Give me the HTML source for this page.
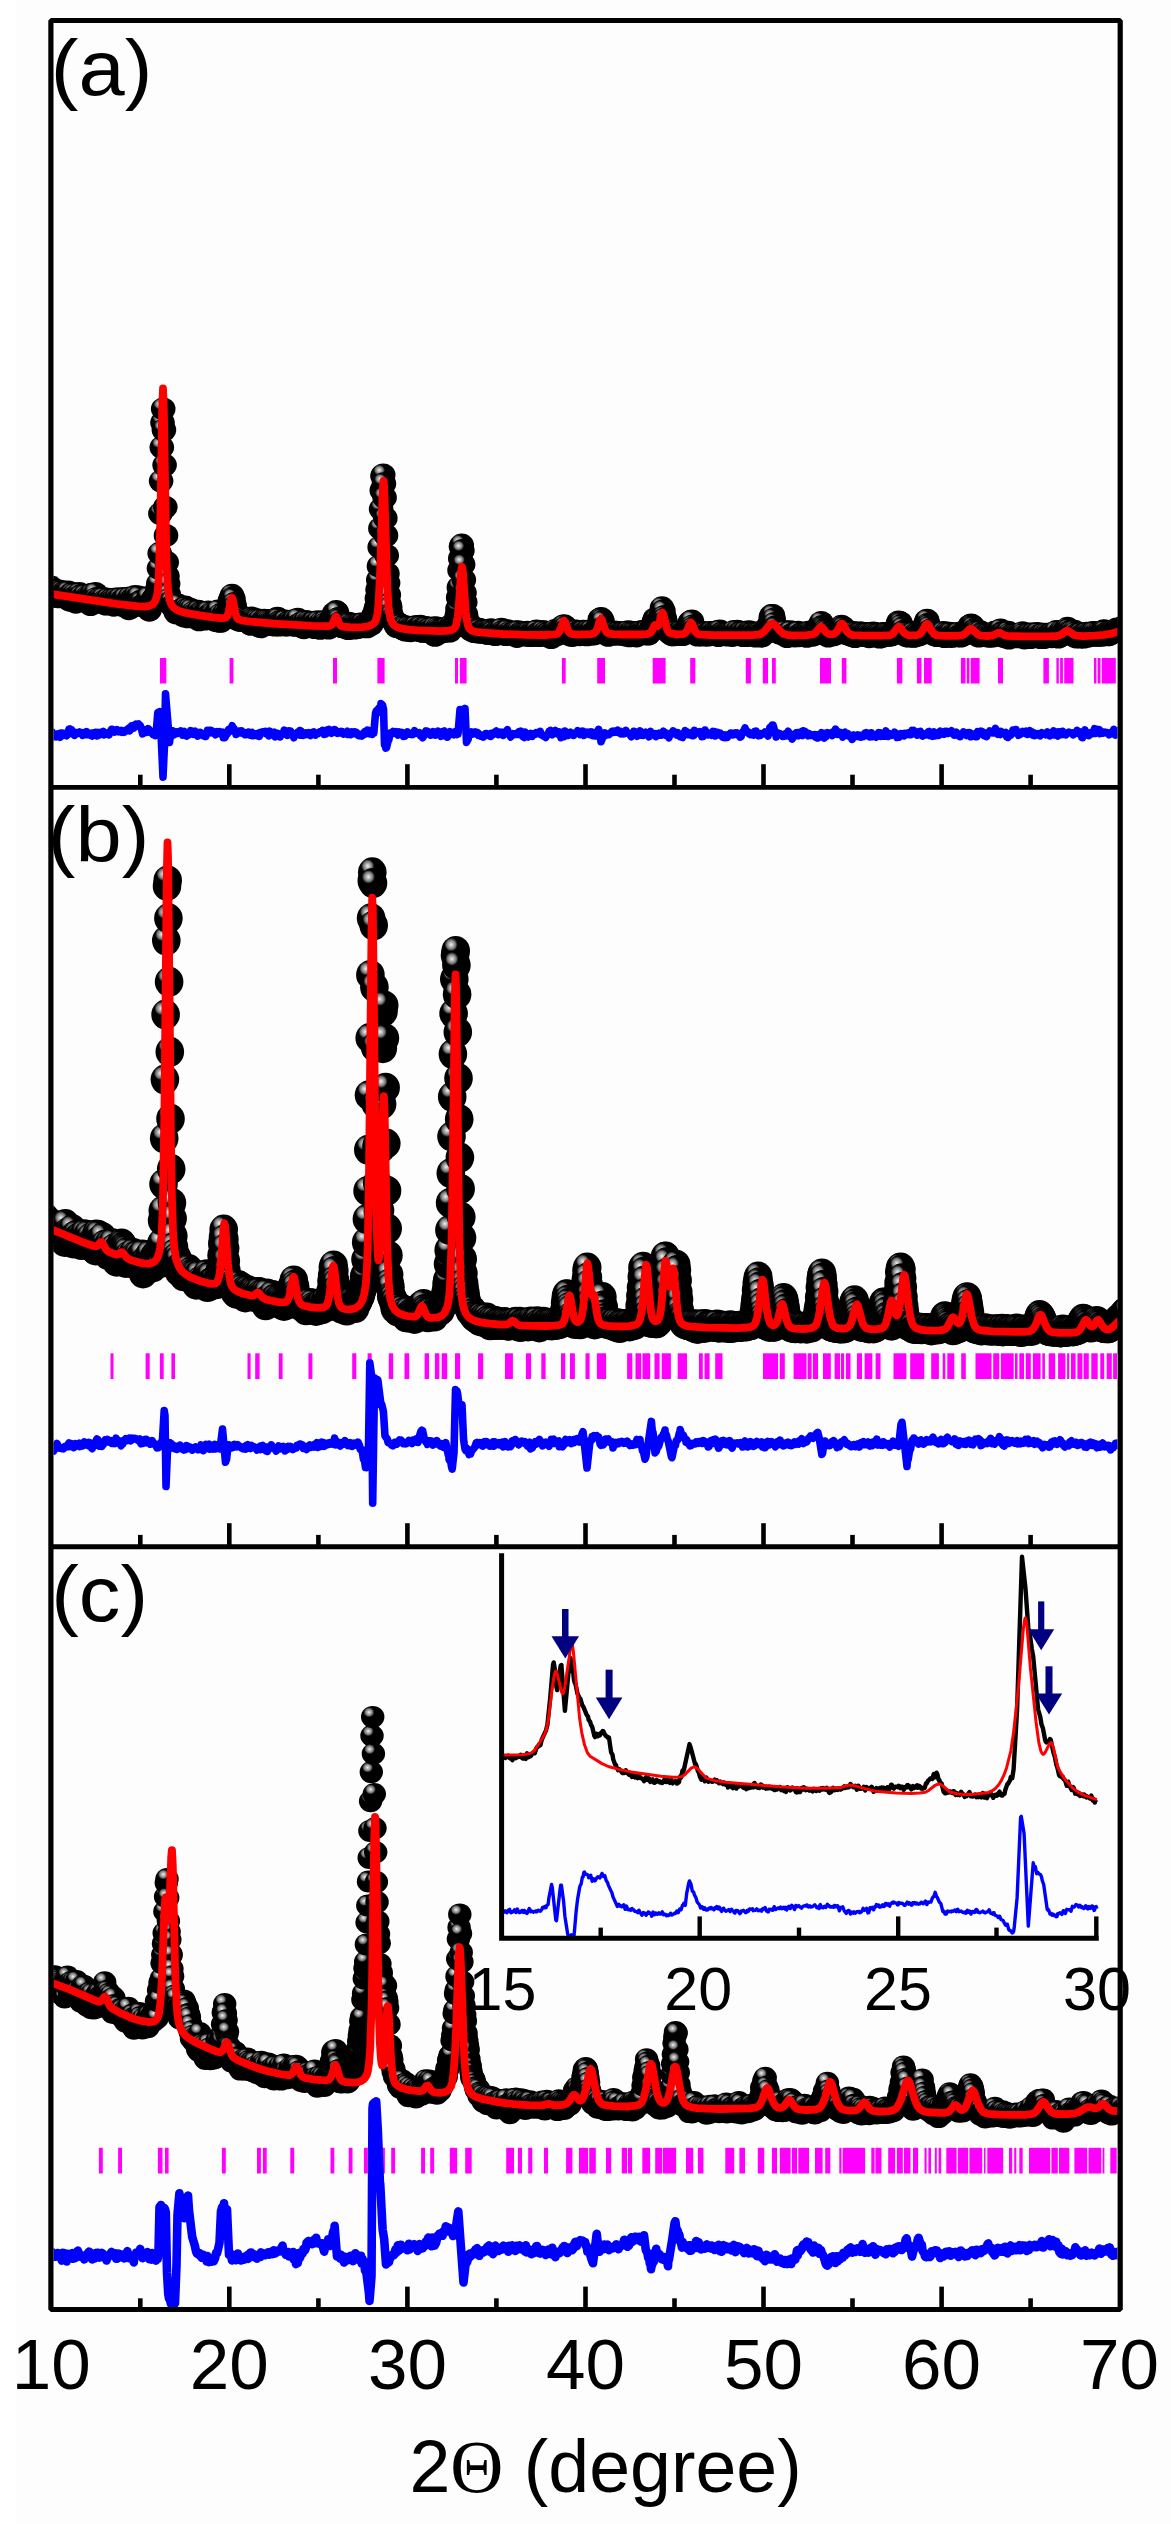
<!DOCTYPE html>
<html><head><meta charset="utf-8"><style>
html,body{margin:0;padding:0;background:#fdfdfd;}
svg{display:block;}
</style></head><body>
<svg width="1171" height="2524" viewBox="0 0 1171 2524">
<rect width="1171" height="2524" fill="#fdfdfd"/>
<rect width="16.4" height="2524" fill="#ffffff"/>
<defs><radialGradient id="ball" cx="0.34" cy="0.29" r="0.5" fx="0.34" fy="0.29"><stop offset="0" stop-color="#f4f4f4"/><stop offset="0.1" stop-color="#c8c8c8"/><stop offset="0.22" stop-color="#9a9a9a"/><stop offset="0.32" stop-color="#6e6e6e"/><stop offset="0.40" stop-color="#2a2a2a"/><stop offset="0.46" stop-color="#000"/><stop offset="1" stop-color="#000"/></radialGradient><ellipse id="ba" cx="0" cy="0" rx="12.3" ry="11.5" fill="url(#ball)"/><ellipse id="bb" cx="0" cy="0" rx="14.3" ry="15" fill="url(#ball)"/><ellipse id="bc" cx="0" cy="0" rx="11.7" ry="11" fill="url(#ball)"/><clipPath id="ca"><rect x="53.5" y="23" width="1064" height="762"/></clipPath><clipPath id="cb"><rect x="53.5" y="789.7" width="1064" height="754.7"/></clipPath><clipPath id="cc"><rect x="53.5" y="1549.2" width="1064" height="757.8"/></clipPath></defs>
<g clip-path="url(#ca)">
<use href="#ba" x="43.0" y="596.1"/><use href="#ba" x="43.7" y="590.0"/><use href="#ba" x="44.4" y="590.4"/><use href="#ba" x="45.1" y="589.0"/><use href="#ba" x="45.8" y="594.5"/><use href="#ba" x="46.5" y="585.8"/><use href="#ba" x="47.2" y="597.2"/><use href="#ba" x="47.9" y="590.3"/><use href="#ba" x="48.6" y="593.4"/><use href="#ba" x="49.3" y="591.8"/><use href="#ba" x="50.0" y="596.7"/><use href="#ba" x="50.7" y="586.9"/><use href="#ba" x="51.4" y="591.9"/><use href="#ba" x="52.1" y="591.8"/><use href="#ba" x="52.8" y="596.1"/><use href="#ba" x="53.5" y="589.9"/><use href="#ba" x="54.2" y="592.6"/><use href="#ba" x="54.9" y="590.8"/><use href="#ba" x="55.6" y="593.5"/><use href="#ba" x="56.3" y="595.1"/><use href="#ba" x="57.0" y="590.5"/><use href="#ba" x="57.7" y="596.8"/><use href="#ba" x="58.4" y="596.3"/><use href="#ba" x="59.1" y="595.3"/><use href="#ba" x="59.8" y="596.5"/><use href="#ba" x="60.5" y="592.1"/><use href="#ba" x="61.2" y="593.8"/><use href="#ba" x="61.9" y="591.6"/><use href="#ba" x="62.6" y="593.6"/><use href="#ba" x="63.3" y="595.9"/><use href="#ba" x="64.0" y="592.6"/><use href="#ba" x="64.7" y="593.6"/><use href="#ba" x="65.4" y="592.8"/><use href="#ba" x="66.1" y="592.5"/><use href="#ba" x="66.8" y="593.1"/><use href="#ba" x="67.5" y="595.0"/><use href="#ba" x="68.2" y="592.1"/><use href="#ba" x="68.9" y="595.9"/><use href="#ba" x="69.6" y="600.0"/><use href="#ba" x="70.3" y="597.6"/><use href="#ba" x="71.0" y="595.1"/><use href="#ba" x="71.7" y="593.2"/><use href="#ba" x="72.4" y="593.7"/><use href="#ba" x="73.1" y="600.6"/><use href="#ba" x="73.8" y="596.1"/><use href="#ba" x="74.5" y="594.3"/><use href="#ba" x="75.2" y="596.7"/><use href="#ba" x="75.9" y="602.2"/><use href="#ba" x="76.6" y="596.7"/><use href="#ba" x="77.3" y="598.2"/><use href="#ba" x="78.0" y="597.5"/><use href="#ba" x="78.7" y="595.7"/><use href="#ba" x="79.4" y="593.6"/><use href="#ba" x="80.1" y="595.9"/><use href="#ba" x="80.8" y="596.4"/><use href="#ba" x="81.5" y="598.8"/><use href="#ba" x="82.2" y="599.6"/><use href="#ba" x="82.9" y="599.9"/><use href="#ba" x="83.6" y="598.2"/><use href="#ba" x="84.3" y="600.0"/><use href="#ba" x="85.0" y="595.5"/><use href="#ba" x="85.7" y="601.3"/><use href="#ba" x="86.4" y="599.3"/><use href="#ba" x="87.1" y="597.1"/><use href="#ba" x="87.8" y="599.4"/><use href="#ba" x="88.5" y="597.9"/><use href="#ba" x="89.2" y="601.4"/><use href="#ba" x="89.9" y="602.6"/><use href="#ba" x="90.6" y="604.6"/><use href="#ba" x="91.3" y="594.6"/><use href="#ba" x="92.0" y="594.6"/><use href="#ba" x="92.7" y="597.3"/><use href="#ba" x="93.4" y="599.3"/><use href="#ba" x="94.1" y="601.4"/><use href="#ba" x="94.8" y="599.9"/><use href="#ba" x="95.5" y="593.5"/><use href="#ba" x="96.2" y="598.4"/><use href="#ba" x="96.9" y="601.7"/><use href="#ba" x="97.6" y="600.1"/><use href="#ba" x="98.3" y="601.7"/><use href="#ba" x="99.0" y="599.0"/><use href="#ba" x="99.7" y="599.2"/><use href="#ba" x="100.4" y="600.4"/><use href="#ba" x="101.1" y="601.1"/><use href="#ba" x="101.8" y="600.6"/><use href="#ba" x="102.5" y="600.5"/><use href="#ba" x="103.2" y="598.4"/><use href="#ba" x="103.9" y="601.4"/><use href="#ba" x="104.6" y="600.8"/><use href="#ba" x="105.3" y="603.7"/><use href="#ba" x="106.0" y="604.0"/><use href="#ba" x="106.7" y="601.3"/><use href="#ba" x="107.4" y="599.8"/><use href="#ba" x="108.1" y="599.2"/><use href="#ba" x="108.8" y="602.2"/><use href="#ba" x="109.5" y="601.4"/><use href="#ba" x="110.2" y="600.3"/><use href="#ba" x="110.9" y="601.5"/><use href="#ba" x="111.6" y="599.7"/><use href="#ba" x="112.3" y="603.5"/><use href="#ba" x="113.0" y="600.4"/><use href="#ba" x="113.7" y="605.2"/><use href="#ba" x="114.4" y="603.0"/><use href="#ba" x="115.1" y="603.6"/><use href="#ba" x="115.8" y="598.9"/><use href="#ba" x="116.5" y="602.6"/><use href="#ba" x="117.2" y="604.3"/><use href="#ba" x="117.9" y="599.6"/><use href="#ba" x="118.6" y="601.6"/><use href="#ba" x="119.3" y="602.5"/><use href="#ba" x="120.0" y="598.7"/><use href="#ba" x="120.7" y="603.5"/><use href="#ba" x="121.4" y="605.1"/><use href="#ba" x="122.1" y="600.4"/><use href="#ba" x="122.8" y="603.8"/><use href="#ba" x="123.5" y="599.2"/><use href="#ba" x="124.2" y="602.9"/><use href="#ba" x="124.9" y="598.5"/><use href="#ba" x="125.3" y="606.2"/><use href="#ba" x="126.0" y="604.3"/><use href="#ba" x="126.7" y="603.1"/><use href="#ba" x="127.4" y="601.0"/><use href="#ba" x="128.1" y="606.8"/><use href="#ba" x="128.8" y="608.7"/><use href="#ba" x="129.5" y="597.9"/><use href="#ba" x="130.2" y="606.4"/><use href="#ba" x="130.9" y="607.3"/><use href="#ba" x="131.6" y="603.4"/><use href="#ba" x="132.3" y="598.7"/><use href="#ba" x="133.0" y="604.0"/><use href="#ba" x="133.7" y="600.6"/><use href="#ba" x="134.4" y="598.9"/><use href="#ba" x="135.1" y="596.6"/><use href="#ba" x="135.8" y="601.1"/><use href="#ba" x="136.5" y="601.5"/><use href="#ba" x="137.2" y="597.6"/><use href="#ba" x="137.9" y="601.0"/><use href="#ba" x="138.6" y="596.9"/><use href="#ba" x="139.3" y="602.9"/><use href="#ba" x="140.0" y="601.5"/><use href="#ba" x="140.7" y="601.5"/><use href="#ba" x="141.4" y="602.3"/><use href="#ba" x="142.1" y="605.5"/><use href="#ba" x="142.8" y="605.6"/><use href="#ba" x="143.5" y="605.3"/><use href="#ba" x="144.2" y="604.5"/><use href="#ba" x="144.9" y="604.5"/><use href="#ba" x="145.6" y="606.1"/><use href="#ba" x="146.3" y="605.0"/><use href="#ba" x="147.0" y="606.3"/><use href="#ba" x="147.7" y="603.5"/><use href="#ba" x="148.4" y="597.5"/><use href="#ba" x="149.1" y="607.1"/><use href="#ba" x="149.4" y="610.2"/><use href="#ba" x="150.1" y="605.1"/><use href="#ba" x="150.8" y="603.3"/><use href="#ba" x="151.3" y="603.0"/><use href="#ba" x="152.0" y="602.7"/><use href="#ba" x="152.7" y="602.6"/><use href="#ba" x="153.4" y="598.8"/><use href="#ba" x="154.1" y="599.7"/><use href="#ba" x="154.8" y="597.4"/><use href="#ba" x="155.5" y="599.4"/><use href="#ba" x="156.2" y="596.0"/><use href="#ba" x="156.9" y="595.2"/><use href="#ba" x="157.6" y="588.5"/><use href="#ba" x="158.3" y="583.6"/><use href="#ba" x="159.0" y="568.3"/><use href="#ba" x="159.7" y="553.3"/><use href="#ba" x="160.4" y="513.6"/><use href="#ba" x="161.1" y="481.1"/><use href="#ba" x="161.8" y="447.3"/><use href="#ba" x="162.5" y="422.6"/><use href="#ba" x="163.2" y="408.9"/><use href="#ba" x="163.9" y="430.0"/><use href="#ba" x="164.6" y="465.1"/><use href="#ba" x="165.3" y="507.2"/><use href="#ba" x="166.0" y="535.4"/><use href="#ba" x="166.7" y="562.3"/><use href="#ba" x="167.4" y="576.2"/><use href="#ba" x="168.1" y="584.0"/><use href="#ba" x="168.8" y="594.5"/><use href="#ba" x="169.5" y="598.9"/><use href="#ba" x="170.2" y="603.5"/><use href="#ba" x="170.9" y="601.7"/><use href="#ba" x="171.6" y="601.7"/><use href="#ba" x="172.3" y="605.9"/><use href="#ba" x="173.0" y="606.0"/><use href="#ba" x="173.7" y="606.8"/><use href="#ba" x="174.4" y="606.6"/><use href="#ba" x="175.1" y="610.3"/><use href="#ba" x="175.3" y="608.4"/><use href="#ba" x="176.0" y="612.8"/><use href="#ba" x="176.7" y="611.2"/><use href="#ba" x="177.4" y="610.4"/><use href="#ba" x="178.1" y="605.0"/><use href="#ba" x="178.8" y="610.9"/><use href="#ba" x="179.5" y="610.7"/><use href="#ba" x="180.2" y="612.0"/><use href="#ba" x="180.9" y="612.8"/><use href="#ba" x="181.6" y="609.4"/><use href="#ba" x="182.3" y="612.7"/><use href="#ba" x="183.0" y="609.5"/><use href="#ba" x="183.7" y="615.9"/><use href="#ba" x="184.4" y="608.0"/><use href="#ba" x="185.1" y="607.1"/><use href="#ba" x="185.8" y="607.6"/><use href="#ba" x="186.5" y="609.6"/><use href="#ba" x="187.2" y="609.2"/><use href="#ba" x="187.9" y="616.8"/><use href="#ba" x="188.6" y="611.4"/><use href="#ba" x="189.3" y="609.1"/><use href="#ba" x="190.0" y="615.2"/><use href="#ba" x="190.7" y="611.3"/><use href="#ba" x="191.4" y="609.8"/><use href="#ba" x="192.1" y="615.0"/><use href="#ba" x="192.8" y="614.5"/><use href="#ba" x="193.5" y="612.2"/><use href="#ba" x="194.2" y="616.6"/><use href="#ba" x="194.9" y="613.7"/><use href="#ba" x="195.6" y="617.4"/><use href="#ba" x="196.3" y="614.9"/><use href="#ba" x="197.0" y="617.4"/><use href="#ba" x="197.7" y="614.2"/><use href="#ba" x="198.4" y="611.2"/><use href="#ba" x="199.1" y="619.8"/><use href="#ba" x="199.8" y="613.0"/><use href="#ba" x="200.5" y="613.9"/><use href="#ba" x="201.2" y="612.9"/><use href="#ba" x="201.9" y="614.1"/><use href="#ba" x="202.6" y="615.3"/><use href="#ba" x="203.3" y="615.3"/><use href="#ba" x="204.0" y="616.4"/><use href="#ba" x="204.7" y="619.1"/><use href="#ba" x="205.4" y="614.9"/><use href="#ba" x="206.1" y="612.5"/><use href="#ba" x="206.8" y="612.7"/><use href="#ba" x="207.5" y="614.0"/><use href="#ba" x="208.2" y="611.9"/><use href="#ba" x="208.9" y="617.5"/><use href="#ba" x="209.6" y="614.7"/><use href="#ba" x="210.3" y="615.2"/><use href="#ba" x="211.0" y="616.0"/><use href="#ba" x="211.7" y="613.0"/><use href="#ba" x="212.4" y="614.3"/><use href="#ba" x="213.1" y="617.7"/><use href="#ba" x="213.8" y="617.7"/><use href="#ba" x="214.5" y="615.5"/><use href="#ba" x="215.2" y="620.4"/><use href="#ba" x="215.9" y="613.8"/><use href="#ba" x="216.6" y="615.9"/><use href="#ba" x="217.3" y="616.3"/><use href="#ba" x="218.0" y="610.9"/><use href="#ba" x="218.7" y="621.0"/><use href="#ba" x="219.4" y="617.7"/><use href="#ba" x="220.1" y="614.8"/><use href="#ba" x="220.8" y="621.3"/><use href="#ba" x="221.5" y="618.2"/><use href="#ba" x="222.2" y="617.9"/><use href="#ba" x="222.9" y="615.7"/><use href="#ba" x="223.6" y="617.1"/><use href="#ba" x="224.3" y="613.7"/><use href="#ba" x="225.0" y="618.2"/><use href="#ba" x="225.7" y="615.5"/><use href="#ba" x="226.4" y="615.9"/><use href="#ba" x="227.1" y="617.0"/><use href="#ba" x="227.8" y="613.4"/><use href="#ba" x="228.5" y="610.8"/><use href="#ba" x="229.2" y="607.3"/><use href="#ba" x="229.9" y="600.9"/><use href="#ba" x="230.6" y="599.5"/><use href="#ba" x="231.3" y="597.6"/><use href="#ba" x="232.0" y="595.3"/><use href="#ba" x="232.7" y="598.0"/><use href="#ba" x="233.4" y="598.9"/><use href="#ba" x="234.1" y="603.6"/><use href="#ba" x="234.8" y="606.6"/><use href="#ba" x="235.5" y="615.1"/><use href="#ba" x="236.2" y="614.4"/><use href="#ba" x="236.9" y="619.1"/><use href="#ba" x="237.6" y="615.9"/><use href="#ba" x="238.3" y="617.1"/><use href="#ba" x="239.0" y="618.6"/><use href="#ba" x="239.7" y="620.4"/><use href="#ba" x="240.4" y="619.0"/><use href="#ba" x="241.1" y="619.5"/><use href="#ba" x="241.8" y="619.3"/><use href="#ba" x="242.5" y="619.8"/><use href="#ba" x="243.2" y="617.5"/><use href="#ba" x="243.9" y="619.9"/><use href="#ba" x="243.9" y="619.4"/><use href="#ba" x="244.6" y="619.7"/><use href="#ba" x="245.3" y="620.8"/><use href="#ba" x="246.0" y="618.8"/><use href="#ba" x="246.7" y="620.0"/><use href="#ba" x="247.4" y="619.7"/><use href="#ba" x="248.1" y="621.0"/><use href="#ba" x="248.8" y="621.8"/><use href="#ba" x="249.5" y="618.7"/><use href="#ba" x="250.2" y="621.6"/><use href="#ba" x="250.9" y="624.3"/><use href="#ba" x="251.6" y="618.0"/><use href="#ba" x="252.3" y="619.2"/><use href="#ba" x="253.0" y="619.2"/><use href="#ba" x="253.7" y="620.4"/><use href="#ba" x="254.4" y="623.8"/><use href="#ba" x="255.1" y="621.0"/><use href="#ba" x="255.8" y="619.8"/><use href="#ba" x="256.5" y="622.2"/><use href="#ba" x="257.2" y="620.1"/><use href="#ba" x="257.9" y="623.2"/><use href="#ba" x="258.6" y="621.8"/><use href="#ba" x="259.3" y="623.8"/><use href="#ba" x="260.0" y="620.2"/><use href="#ba" x="260.7" y="626.8"/><use href="#ba" x="261.4" y="623.0"/><use href="#ba" x="262.1" y="622.7"/><use href="#ba" x="262.8" y="621.5"/><use href="#ba" x="263.5" y="620.4"/><use href="#ba" x="264.2" y="620.2"/><use href="#ba" x="264.9" y="621.5"/><use href="#ba" x="265.6" y="620.4"/><use href="#ba" x="266.3" y="622.4"/><use href="#ba" x="267.0" y="620.5"/><use href="#ba" x="267.7" y="623.1"/><use href="#ba" x="268.4" y="623.7"/><use href="#ba" x="269.1" y="620.9"/><use href="#ba" x="269.8" y="624.2"/><use href="#ba" x="270.5" y="621.8"/><use href="#ba" x="271.2" y="624.3"/><use href="#ba" x="271.9" y="623.0"/><use href="#ba" x="272.6" y="624.3"/><use href="#ba" x="273.3" y="620.6"/><use href="#ba" x="274.0" y="622.2"/><use href="#ba" x="274.7" y="625.0"/><use href="#ba" x="275.4" y="621.5"/><use href="#ba" x="276.1" y="619.0"/><use href="#ba" x="276.8" y="619.3"/><use href="#ba" x="277.5" y="618.3"/><use href="#ba" x="278.2" y="619.1"/><use href="#ba" x="278.9" y="622.0"/><use href="#ba" x="279.6" y="625.0"/><use href="#ba" x="280.3" y="622.1"/><use href="#ba" x="281.0" y="623.4"/><use href="#ba" x="281.7" y="622.7"/><use href="#ba" x="282.4" y="623.0"/><use href="#ba" x="283.1" y="622.7"/><use href="#ba" x="283.8" y="622.8"/><use href="#ba" x="284.5" y="623.9"/><use href="#ba" x="285.2" y="621.1"/><use href="#ba" x="285.9" y="624.9"/><use href="#ba" x="286.6" y="624.8"/><use href="#ba" x="287.3" y="622.9"/><use href="#ba" x="288.0" y="624.7"/><use href="#ba" x="288.7" y="622.2"/><use href="#ba" x="289.4" y="622.5"/><use href="#ba" x="290.1" y="623.7"/><use href="#ba" x="290.8" y="623.2"/><use href="#ba" x="291.5" y="622.8"/><use href="#ba" x="292.2" y="622.4"/><use href="#ba" x="292.9" y="622.7"/><use href="#ba" x="293.6" y="625.2"/><use href="#ba" x="294.3" y="620.4"/><use href="#ba" x="295.0" y="624.3"/><use href="#ba" x="295.7" y="623.4"/><use href="#ba" x="296.4" y="625.0"/><use href="#ba" x="297.1" y="624.7"/><use href="#ba" x="297.8" y="619.2"/><use href="#ba" x="298.5" y="624.9"/><use href="#ba" x="299.2" y="624.5"/><use href="#ba" x="299.9" y="624.0"/><use href="#ba" x="300.6" y="623.2"/><use href="#ba" x="301.3" y="625.5"/><use href="#ba" x="302.0" y="623.4"/><use href="#ba" x="302.7" y="627.2"/><use href="#ba" x="303.4" y="625.1"/><use href="#ba" x="304.1" y="627.7"/><use href="#ba" x="304.8" y="622.9"/><use href="#ba" x="305.5" y="621.4"/><use href="#ba" x="306.2" y="625.5"/><use href="#ba" x="306.9" y="625.7"/><use href="#ba" x="307.6" y="624.4"/><use href="#ba" x="308.3" y="621.9"/><use href="#ba" x="309.0" y="623.7"/><use href="#ba" x="309.7" y="625.5"/><use href="#ba" x="310.4" y="624.2"/><use href="#ba" x="311.1" y="624.4"/><use href="#ba" x="311.8" y="624.3"/><use href="#ba" x="312.5" y="623.1"/><use href="#ba" x="313.2" y="623.8"/><use href="#ba" x="313.9" y="622.3"/><use href="#ba" x="314.6" y="627.6"/><use href="#ba" x="315.3" y="624.0"/><use href="#ba" x="316.0" y="625.5"/><use href="#ba" x="316.7" y="623.1"/><use href="#ba" x="317.4" y="626.1"/><use href="#ba" x="318.1" y="621.8"/><use href="#ba" x="318.8" y="626.4"/><use href="#ba" x="319.5" y="624.8"/><use href="#ba" x="320.2" y="628.3"/><use href="#ba" x="320.9" y="622.8"/><use href="#ba" x="321.6" y="625.1"/><use href="#ba" x="322.3" y="625.5"/><use href="#ba" x="323.0" y="626.9"/><use href="#ba" x="323.7" y="624.3"/><use href="#ba" x="324.3" y="625.1"/><use href="#ba" x="325.0" y="621.5"/><use href="#ba" x="325.7" y="623.6"/><use href="#ba" x="326.4" y="625.7"/><use href="#ba" x="327.1" y="626.7"/><use href="#ba" x="327.8" y="624.4"/><use href="#ba" x="328.5" y="628.0"/><use href="#ba" x="329.2" y="627.4"/><use href="#ba" x="329.9" y="624.3"/><use href="#ba" x="330.6" y="620.3"/><use href="#ba" x="331.3" y="620.7"/><use href="#ba" x="332.0" y="621.3"/><use href="#ba" x="332.7" y="622.9"/><use href="#ba" x="333.4" y="619.7"/><use href="#ba" x="334.1" y="613.5"/><use href="#ba" x="334.8" y="614.0"/><use href="#ba" x="335.5" y="615.1"/><use href="#ba" x="336.2" y="611.6"/><use href="#ba" x="336.9" y="612.3"/><use href="#ba" x="337.6" y="619.0"/><use href="#ba" x="338.3" y="618.4"/><use href="#ba" x="339.0" y="619.8"/><use href="#ba" x="339.7" y="622.8"/><use href="#ba" x="340.4" y="623.4"/><use href="#ba" x="341.1" y="623.5"/><use href="#ba" x="341.8" y="626.6"/><use href="#ba" x="342.5" y="626.7"/><use href="#ba" x="343.2" y="626.5"/><use href="#ba" x="343.9" y="625.2"/><use href="#ba" x="344.6" y="627.2"/><use href="#ba" x="345.3" y="625.5"/><use href="#ba" x="346.0" y="626.3"/><use href="#ba" x="346.7" y="627.3"/><use href="#ba" x="347.4" y="627.0"/><use href="#ba" x="348.1" y="628.5"/><use href="#ba" x="348.2" y="626.5"/><use href="#ba" x="348.9" y="623.2"/><use href="#ba" x="349.6" y="624.0"/><use href="#ba" x="350.3" y="627.9"/><use href="#ba" x="351.0" y="625.4"/><use href="#ba" x="351.7" y="626.5"/><use href="#ba" x="352.4" y="624.6"/><use href="#ba" x="353.1" y="627.4"/><use href="#ba" x="353.8" y="625.3"/><use href="#ba" x="354.5" y="628.1"/><use href="#ba" x="355.2" y="625.0"/><use href="#ba" x="355.9" y="627.5"/><use href="#ba" x="356.6" y="626.8"/><use href="#ba" x="357.3" y="624.7"/><use href="#ba" x="358.0" y="627.4"/><use href="#ba" x="358.7" y="624.3"/><use href="#ba" x="359.4" y="624.4"/><use href="#ba" x="360.1" y="626.7"/><use href="#ba" x="360.8" y="624.6"/><use href="#ba" x="361.5" y="624.5"/><use href="#ba" x="362.2" y="624.8"/><use href="#ba" x="362.9" y="623.7"/><use href="#ba" x="363.6" y="626.7"/><use href="#ba" x="364.3" y="625.9"/><use href="#ba" x="365.0" y="624.7"/><use href="#ba" x="365.7" y="624.4"/><use href="#ba" x="366.4" y="625.1"/><use href="#ba" x="367.1" y="626.8"/><use href="#ba" x="367.8" y="625.2"/><use href="#ba" x="368.5" y="622.8"/><use href="#ba" x="369.2" y="624.3"/><use href="#ba" x="369.9" y="622.5"/><use href="#ba" x="370.6" y="621.9"/><use href="#ba" x="371.3" y="624.3"/><use href="#ba" x="372.0" y="620.2"/><use href="#ba" x="372.7" y="619.1"/><use href="#ba" x="373.4" y="615.7"/><use href="#ba" x="374.1" y="614.8"/><use href="#ba" x="374.8" y="615.2"/><use href="#ba" x="375.5" y="610.2"/><use href="#ba" x="376.2" y="607.3"/><use href="#ba" x="376.9" y="598.3"/><use href="#ba" x="377.6" y="589.7"/><use href="#ba" x="378.3" y="580.0"/><use href="#ba" x="379.0" y="566.2"/><use href="#ba" x="379.7" y="547.2"/><use href="#ba" x="380.4" y="528.4"/><use href="#ba" x="381.1" y="509.1"/><use href="#ba" x="381.8" y="490.5"/><use href="#ba" x="382.5" y="476.1"/><use href="#ba" x="383.2" y="474.9"/><use href="#ba" x="383.9" y="483.7"/><use href="#ba" x="384.6" y="497.6"/><use href="#ba" x="385.3" y="518.2"/><use href="#ba" x="386.0" y="535.5"/><use href="#ba" x="386.7" y="555.4"/><use href="#ba" x="387.4" y="573.7"/><use href="#ba" x="388.1" y="583.1"/><use href="#ba" x="388.8" y="595.0"/><use href="#ba" x="389.5" y="604.3"/><use href="#ba" x="390.2" y="607.5"/><use href="#ba" x="390.9" y="614.0"/><use href="#ba" x="391.6" y="615.6"/><use href="#ba" x="392.3" y="618.3"/><use href="#ba" x="393.0" y="619.9"/><use href="#ba" x="393.7" y="621.6"/><use href="#ba" x="394.4" y="621.5"/><use href="#ba" x="395.1" y="623.2"/><use href="#ba" x="395.1" y="622.2"/><use href="#ba" x="395.8" y="624.5"/><use href="#ba" x="396.5" y="626.6"/><use href="#ba" x="397.2" y="625.0"/><use href="#ba" x="397.9" y="625.3"/><use href="#ba" x="398.6" y="623.8"/><use href="#ba" x="399.3" y="626.8"/><use href="#ba" x="400.0" y="625.0"/><use href="#ba" x="400.7" y="625.2"/><use href="#ba" x="401.4" y="627.4"/><use href="#ba" x="402.1" y="627.1"/><use href="#ba" x="402.8" y="628.5"/><use href="#ba" x="403.5" y="629.2"/><use href="#ba" x="404.2" y="626.6"/><use href="#ba" x="404.9" y="627.7"/><use href="#ba" x="405.6" y="630.1"/><use href="#ba" x="406.3" y="629.1"/><use href="#ba" x="407.0" y="628.9"/><use href="#ba" x="407.7" y="629.8"/><use href="#ba" x="408.4" y="627.3"/><use href="#ba" x="409.1" y="629.1"/><use href="#ba" x="409.8" y="630.3"/><use href="#ba" x="410.5" y="630.7"/><use href="#ba" x="411.2" y="627.4"/><use href="#ba" x="411.9" y="628.2"/><use href="#ba" x="412.6" y="629.2"/><use href="#ba" x="413.3" y="628.3"/><use href="#ba" x="414.0" y="628.3"/><use href="#ba" x="414.7" y="629.8"/><use href="#ba" x="415.4" y="628.4"/><use href="#ba" x="416.1" y="626.5"/><use href="#ba" x="416.8" y="629.6"/><use href="#ba" x="417.5" y="628.5"/><use href="#ba" x="418.2" y="628.2"/><use href="#ba" x="418.9" y="627.1"/><use href="#ba" x="419.6" y="630.7"/><use href="#ba" x="420.3" y="626.3"/><use href="#ba" x="421.0" y="627.0"/><use href="#ba" x="421.7" y="629.0"/><use href="#ba" x="422.4" y="631.1"/><use href="#ba" x="423.1" y="631.3"/><use href="#ba" x="423.8" y="628.0"/><use href="#ba" x="424.5" y="629.3"/><use href="#ba" x="425.2" y="627.6"/><use href="#ba" x="425.9" y="631.0"/><use href="#ba" x="426.6" y="627.7"/><use href="#ba" x="427.3" y="629.5"/><use href="#ba" x="428.0" y="631.2"/><use href="#ba" x="428.7" y="629.5"/><use href="#ba" x="429.4" y="631.8"/><use href="#ba" x="430.1" y="628.7"/><use href="#ba" x="430.8" y="630.4"/><use href="#ba" x="431.5" y="631.0"/><use href="#ba" x="432.2" y="629.7"/><use href="#ba" x="432.9" y="631.8"/><use href="#ba" x="433.6" y="630.7"/><use href="#ba" x="434.3" y="627.7"/><use href="#ba" x="435.0" y="635.3"/><use href="#ba" x="435.7" y="630.8"/><use href="#ba" x="436.4" y="630.1"/><use href="#ba" x="437.1" y="628.1"/><use href="#ba" x="437.8" y="630.1"/><use href="#ba" x="438.5" y="629.4"/><use href="#ba" x="439.2" y="630.8"/><use href="#ba" x="439.9" y="630.5"/><use href="#ba" x="440.6" y="632.4"/><use href="#ba" x="441.3" y="630.1"/><use href="#ba" x="442.0" y="630.6"/><use href="#ba" x="442.7" y="630.4"/><use href="#ba" x="443.4" y="629.6"/><use href="#ba" x="444.1" y="629.6"/><use href="#ba" x="444.8" y="631.2"/><use href="#ba" x="445.5" y="630.7"/><use href="#ba" x="446.2" y="628.7"/><use href="#ba" x="446.9" y="628.0"/><use href="#ba" x="447.6" y="629.3"/><use href="#ba" x="448.3" y="630.8"/><use href="#ba" x="449.0" y="629.0"/><use href="#ba" x="449.8" y="631.1"/><use href="#ba" x="450.5" y="627.6"/><use href="#ba" x="451.2" y="628.5"/><use href="#ba" x="451.9" y="624.6"/><use href="#ba" x="452.6" y="626.6"/><use href="#ba" x="453.3" y="626.4"/><use href="#ba" x="454.0" y="626.6"/><use href="#ba" x="454.7" y="626.9"/><use href="#ba" x="455.4" y="622.7"/><use href="#ba" x="456.1" y="621.4"/><use href="#ba" x="456.8" y="615.6"/><use href="#ba" x="457.5" y="609.0"/><use href="#ba" x="458.2" y="597.4"/><use href="#ba" x="458.9" y="587.5"/><use href="#ba" x="459.6" y="570.2"/><use href="#ba" x="460.3" y="558.4"/><use href="#ba" x="461.0" y="546.6"/><use href="#ba" x="461.7" y="545.1"/><use href="#ba" x="462.4" y="550.6"/><use href="#ba" x="463.1" y="564.5"/><use href="#ba" x="463.8" y="580.0"/><use href="#ba" x="464.5" y="592.8"/><use href="#ba" x="465.2" y="602.2"/><use href="#ba" x="465.9" y="614.1"/><use href="#ba" x="466.6" y="618.4"/><use href="#ba" x="467.3" y="623.1"/><use href="#ba" x="468.0" y="625.3"/><use href="#ba" x="468.7" y="625.0"/><use href="#ba" x="469.4" y="624.5"/><use href="#ba" x="470.1" y="626.6"/><use href="#ba" x="470.8" y="629.9"/><use href="#ba" x="471.5" y="627.5"/><use href="#ba" x="472.2" y="630.3"/><use href="#ba" x="472.9" y="628.8"/><use href="#ba" x="473.5" y="630.3"/><use href="#ba" x="473.6" y="627.5"/><use href="#ba" x="474.2" y="631.5"/><use href="#ba" x="474.9" y="630.2"/><use href="#ba" x="475.6" y="631.6"/><use href="#ba" x="476.3" y="630.8"/><use href="#ba" x="477.0" y="631.8"/><use href="#ba" x="477.7" y="630.7"/><use href="#ba" x="478.4" y="631.9"/><use href="#ba" x="479.1" y="629.2"/><use href="#ba" x="479.8" y="629.8"/><use href="#ba" x="480.5" y="632.2"/><use href="#ba" x="481.2" y="631.3"/><use href="#ba" x="481.9" y="631.2"/><use href="#ba" x="482.6" y="631.3"/><use href="#ba" x="483.3" y="632.2"/><use href="#ba" x="484.0" y="630.9"/><use href="#ba" x="484.7" y="632.4"/><use href="#ba" x="485.4" y="630.6"/><use href="#ba" x="486.1" y="631.3"/><use href="#ba" x="486.8" y="633.1"/><use href="#ba" x="487.5" y="633.3"/><use href="#ba" x="488.2" y="630.6"/><use href="#ba" x="488.9" y="633.1"/><use href="#ba" x="489.6" y="630.8"/><use href="#ba" x="490.3" y="633.0"/><use href="#ba" x="491.0" y="629.8"/><use href="#ba" x="491.7" y="630.8"/><use href="#ba" x="492.4" y="631.6"/><use href="#ba" x="493.1" y="632.1"/><use href="#ba" x="493.8" y="634.1"/><use href="#ba" x="494.5" y="633.5"/><use href="#ba" x="495.2" y="634.4"/><use href="#ba" x="495.9" y="634.0"/><use href="#ba" x="496.6" y="632.1"/><use href="#ba" x="497.3" y="632.2"/><use href="#ba" x="498.0" y="633.9"/><use href="#ba" x="498.7" y="632.6"/><use href="#ba" x="499.4" y="632.4"/><use href="#ba" x="500.1" y="631.0"/><use href="#ba" x="500.8" y="632.6"/><use href="#ba" x="501.5" y="629.2"/><use href="#ba" x="502.2" y="632.2"/><use href="#ba" x="502.9" y="631.6"/><use href="#ba" x="503.6" y="633.7"/><use href="#ba" x="504.3" y="632.3"/><use href="#ba" x="505.0" y="632.5"/><use href="#ba" x="505.7" y="634.6"/><use href="#ba" x="506.4" y="631.6"/><use href="#ba" x="507.1" y="633.4"/><use href="#ba" x="507.8" y="630.7"/><use href="#ba" x="508.5" y="633.2"/><use href="#ba" x="509.2" y="633.6"/><use href="#ba" x="509.9" y="634.2"/><use href="#ba" x="510.6" y="632.0"/><use href="#ba" x="511.3" y="633.6"/><use href="#ba" x="512.0" y="633.6"/><use href="#ba" x="512.7" y="633.2"/><use href="#ba" x="513.4" y="633.4"/><use href="#ba" x="514.1" y="633.8"/><use href="#ba" x="514.8" y="633.8"/><use href="#ba" x="515.5" y="632.1"/><use href="#ba" x="516.2" y="631.9"/><use href="#ba" x="516.9" y="636.4"/><use href="#ba" x="517.6" y="635.8"/><use href="#ba" x="518.3" y="631.7"/><use href="#ba" x="519.0" y="634.0"/><use href="#ba" x="519.7" y="634.2"/><use href="#ba" x="520.4" y="634.4"/><use href="#ba" x="521.1" y="633.7"/><use href="#ba" x="521.8" y="632.4"/><use href="#ba" x="522.5" y="633.3"/><use href="#ba" x="523.2" y="633.0"/><use href="#ba" x="523.9" y="633.8"/><use href="#ba" x="524.6" y="633.3"/><use href="#ba" x="525.3" y="633.5"/><use href="#ba" x="526.0" y="634.9"/><use href="#ba" x="526.7" y="635.2"/><use href="#ba" x="527.4" y="632.3"/><use href="#ba" x="528.1" y="633.1"/><use href="#ba" x="528.8" y="632.8"/><use href="#ba" x="529.5" y="635.2"/><use href="#ba" x="530.2" y="633.7"/><use href="#ba" x="530.9" y="635.5"/><use href="#ba" x="531.6" y="633.2"/><use href="#ba" x="532.3" y="633.8"/><use href="#ba" x="533.0" y="632.2"/><use href="#ba" x="533.7" y="635.4"/><use href="#ba" x="534.4" y="633.4"/><use href="#ba" x="535.1" y="632.0"/><use href="#ba" x="535.8" y="633.1"/><use href="#ba" x="536.5" y="631.1"/><use href="#ba" x="537.2" y="633.8"/><use href="#ba" x="537.9" y="634.0"/><use href="#ba" x="538.6" y="634.2"/><use href="#ba" x="539.3" y="635.6"/><use href="#ba" x="540.0" y="633.5"/><use href="#ba" x="540.7" y="634.8"/><use href="#ba" x="541.4" y="634.2"/><use href="#ba" x="542.1" y="633.6"/><use href="#ba" x="542.8" y="631.4"/><use href="#ba" x="543.5" y="634.9"/><use href="#ba" x="544.2" y="633.2"/><use href="#ba" x="544.9" y="633.8"/><use href="#ba" x="545.6" y="632.3"/><use href="#ba" x="546.3" y="634.1"/><use href="#ba" x="547.0" y="633.9"/><use href="#ba" x="547.7" y="633.8"/><use href="#ba" x="548.4" y="633.6"/><use href="#ba" x="549.1" y="635.0"/><use href="#ba" x="549.8" y="634.9"/><use href="#ba" x="550.5" y="634.6"/><use href="#ba" x="551.2" y="637.6"/><use href="#ba" x="551.9" y="633.0"/><use href="#ba" x="552.3" y="633.3"/><use href="#ba" x="553.0" y="632.5"/><use href="#ba" x="553.7" y="634.2"/><use href="#ba" x="554.4" y="632.8"/><use href="#ba" x="555.1" y="630.4"/><use href="#ba" x="555.8" y="632.1"/><use href="#ba" x="556.5" y="633.5"/><use href="#ba" x="557.2" y="634.5"/><use href="#ba" x="557.9" y="631.4"/><use href="#ba" x="558.6" y="632.3"/><use href="#ba" x="559.3" y="632.4"/><use href="#ba" x="560.0" y="631.2"/><use href="#ba" x="560.7" y="631.8"/><use href="#ba" x="561.4" y="630.0"/><use href="#ba" x="562.1" y="628.9"/><use href="#ba" x="562.8" y="626.2"/><use href="#ba" x="563.5" y="627.7"/><use href="#ba" x="564.2" y="625.7"/><use href="#ba" x="564.9" y="627.9"/><use href="#ba" x="565.6" y="627.3"/><use href="#ba" x="566.3" y="630.0"/><use href="#ba" x="567.0" y="629.8"/><use href="#ba" x="567.7" y="630.5"/><use href="#ba" x="568.4" y="631.5"/><use href="#ba" x="569.1" y="632.7"/><use href="#ba" x="569.8" y="632.8"/><use href="#ba" x="570.5" y="635.0"/><use href="#ba" x="571.2" y="632.0"/><use href="#ba" x="571.9" y="632.1"/><use href="#ba" x="572.6" y="635.4"/><use href="#ba" x="573.3" y="634.1"/><use href="#ba" x="574.0" y="631.3"/><use href="#ba" x="574.7" y="634.1"/><use href="#ba" x="575.4" y="633.8"/><use href="#ba" x="576.1" y="631.1"/><use href="#ba" x="576.4" y="633.1"/><use href="#ba" x="577.1" y="633.5"/><use href="#ba" x="577.8" y="634.4"/><use href="#ba" x="578.5" y="634.6"/><use href="#ba" x="579.2" y="633.6"/><use href="#ba" x="579.9" y="634.7"/><use href="#ba" x="580.6" y="633.4"/><use href="#ba" x="581.3" y="632.6"/><use href="#ba" x="582.0" y="632.5"/><use href="#ba" x="582.7" y="634.1"/><use href="#ba" x="583.4" y="631.3"/><use href="#ba" x="584.1" y="634.2"/><use href="#ba" x="584.8" y="632.2"/><use href="#ba" x="585.5" y="633.0"/><use href="#ba" x="586.2" y="634.0"/><use href="#ba" x="586.9" y="634.8"/><use href="#ba" x="587.6" y="631.2"/><use href="#ba" x="588.3" y="632.4"/><use href="#ba" x="589.3" y="633.3"/><use href="#ba" x="590.0" y="632.6"/><use href="#ba" x="590.7" y="634.1"/><use href="#ba" x="591.4" y="630.8"/><use href="#ba" x="592.1" y="633.4"/><use href="#ba" x="592.8" y="633.4"/><use href="#ba" x="593.5" y="632.9"/><use href="#ba" x="594.2" y="633.9"/><use href="#ba" x="594.9" y="631.0"/><use href="#ba" x="595.6" y="633.2"/><use href="#ba" x="596.3" y="630.5"/><use href="#ba" x="597.0" y="631.0"/><use href="#ba" x="597.7" y="628.3"/><use href="#ba" x="598.4" y="627.4"/><use href="#ba" x="599.1" y="624.7"/><use href="#ba" x="599.8" y="619.5"/><use href="#ba" x="600.5" y="618.9"/><use href="#ba" x="601.2" y="618.6"/><use href="#ba" x="601.9" y="619.8"/><use href="#ba" x="602.6" y="621.7"/><use href="#ba" x="603.3" y="627.3"/><use href="#ba" x="604.0" y="627.9"/><use href="#ba" x="604.7" y="631.2"/><use href="#ba" x="605.4" y="630.2"/><use href="#ba" x="606.1" y="630.5"/><use href="#ba" x="606.8" y="632.3"/><use href="#ba" x="607.5" y="631.8"/><use href="#ba" x="608.2" y="635.3"/><use href="#ba" x="608.9" y="633.1"/><use href="#ba" x="609.6" y="634.2"/><use href="#ba" x="610.3" y="632.7"/><use href="#ba" x="611.0" y="632.7"/><use href="#ba" x="611.7" y="633.0"/><use href="#ba" x="612.4" y="633.5"/><use href="#ba" x="613.1" y="634.1"/><use href="#ba" x="613.5" y="633.0"/><use href="#ba" x="614.2" y="632.4"/><use href="#ba" x="614.9" y="632.0"/><use href="#ba" x="615.6" y="633.1"/><use href="#ba" x="616.3" y="633.9"/><use href="#ba" x="617.0" y="633.8"/><use href="#ba" x="617.7" y="633.3"/><use href="#ba" x="618.4" y="632.6"/><use href="#ba" x="619.1" y="633.5"/><use href="#ba" x="619.8" y="633.9"/><use href="#ba" x="620.5" y="633.3"/><use href="#ba" x="621.2" y="633.4"/><use href="#ba" x="621.9" y="633.1"/><use href="#ba" x="622.6" y="634.3"/><use href="#ba" x="623.3" y="632.8"/><use href="#ba" x="624.0" y="633.5"/><use href="#ba" x="624.7" y="633.8"/><use href="#ba" x="625.4" y="634.1"/><use href="#ba" x="626.1" y="635.0"/><use href="#ba" x="626.8" y="634.1"/><use href="#ba" x="627.5" y="634.0"/><use href="#ba" x="628.2" y="631.7"/><use href="#ba" x="628.9" y="634.0"/><use href="#ba" x="629.6" y="635.8"/><use href="#ba" x="630.3" y="632.4"/><use href="#ba" x="631.0" y="632.2"/><use href="#ba" x="631.7" y="633.1"/><use href="#ba" x="632.4" y="634.4"/><use href="#ba" x="633.1" y="633.9"/><use href="#ba" x="633.8" y="632.8"/><use href="#ba" x="634.5" y="633.3"/><use href="#ba" x="635.2" y="634.4"/><use href="#ba" x="635.9" y="634.0"/><use href="#ba" x="636.6" y="635.9"/><use href="#ba" x="637.3" y="634.4"/><use href="#ba" x="638.0" y="633.6"/><use href="#ba" x="638.7" y="633.9"/><use href="#ba" x="639.4" y="632.8"/><use href="#ba" x="640.1" y="632.1"/><use href="#ba" x="640.8" y="633.3"/><use href="#ba" x="641.5" y="633.7"/><use href="#ba" x="642.2" y="631.6"/><use href="#ba" x="642.9" y="632.5"/><use href="#ba" x="643.3" y="632.6"/><use href="#ba" x="644.0" y="633.3"/><use href="#ba" x="644.7" y="632.6"/><use href="#ba" x="645.4" y="633.3"/><use href="#ba" x="646.1" y="632.9"/><use href="#ba" x="646.8" y="633.8"/><use href="#ba" x="647.5" y="630.6"/><use href="#ba" x="648.2" y="634.1"/><use href="#ba" x="648.9" y="633.6"/><use href="#ba" x="649.6" y="631.7"/><use href="#ba" x="650.3" y="631.7"/><use href="#ba" x="650.8" y="630.9"/><use href="#ba" x="651.5" y="628.1"/><use href="#ba" x="652.2" y="627.2"/><use href="#ba" x="652.9" y="625.5"/><use href="#ba" x="653.6" y="622.3"/><use href="#ba" x="654.3" y="620.9"/><use href="#ba" x="655.0" y="618.7"/><use href="#ba" x="655.7" y="619.2"/><use href="#ba" x="656.4" y="619.8"/><use href="#ba" x="657.1" y="622.0"/><use href="#ba" x="657.8" y="622.9"/><use href="#ba" x="658.5" y="625.3"/><use href="#ba" x="659.2" y="622.5"/><use href="#ba" x="659.9" y="618.8"/><use href="#ba" x="660.6" y="617.2"/><use href="#ba" x="661.3" y="613.3"/><use href="#ba" x="662.0" y="607.8"/><use href="#ba" x="662.7" y="611.3"/><use href="#ba" x="663.4" y="610.9"/><use href="#ba" x="664.1" y="616.6"/><use href="#ba" x="664.8" y="618.7"/><use href="#ba" x="665.5" y="621.6"/><use href="#ba" x="666.2" y="626.7"/><use href="#ba" x="666.9" y="626.7"/><use href="#ba" x="667.6" y="629.3"/><use href="#ba" x="668.3" y="631.1"/><use href="#ba" x="669.0" y="632.2"/><use href="#ba" x="669.7" y="632.8"/><use href="#ba" x="670.4" y="632.2"/><use href="#ba" x="671.1" y="631.5"/><use href="#ba" x="671.8" y="634.7"/><use href="#ba" x="672.5" y="632.1"/><use href="#ba" x="673.2" y="634.8"/><use href="#ba" x="673.9" y="632.4"/><use href="#ba" x="674.6" y="634.3"/><use href="#ba" x="675.1" y="634.2"/><use href="#ba" x="675.8" y="631.9"/><use href="#ba" x="676.5" y="633.5"/><use href="#ba" x="677.2" y="634.0"/><use href="#ba" x="677.9" y="633.9"/><use href="#ba" x="678.6" y="633.0"/><use href="#ba" x="679.3" y="633.5"/><use href="#ba" x="680.0" y="632.7"/><use href="#ba" x="680.7" y="631.9"/><use href="#ba" x="681.4" y="634.2"/><use href="#ba" x="682.1" y="632.5"/><use href="#ba" x="682.8" y="634.6"/><use href="#ba" x="683.5" y="633.6"/><use href="#ba" x="684.2" y="631.9"/><use href="#ba" x="684.9" y="632.5"/><use href="#ba" x="685.6" y="632.0"/><use href="#ba" x="686.3" y="630.9"/><use href="#ba" x="687.0" y="631.5"/><use href="#ba" x="687.7" y="629.2"/><use href="#ba" x="688.4" y="629.7"/><use href="#ba" x="689.1" y="626.8"/><use href="#ba" x="689.8" y="622.7"/><use href="#ba" x="690.5" y="622.0"/><use href="#ba" x="691.2" y="621.4"/><use href="#ba" x="691.9" y="621.1"/><use href="#ba" x="692.6" y="625.9"/><use href="#ba" x="693.3" y="628.1"/><use href="#ba" x="694.0" y="630.1"/><use href="#ba" x="694.7" y="630.0"/><use href="#ba" x="695.4" y="632.8"/><use href="#ba" x="696.1" y="632.1"/><use href="#ba" x="696.8" y="633.8"/><use href="#ba" x="697.5" y="635.0"/><use href="#ba" x="698.2" y="633.3"/><use href="#ba" x="698.9" y="631.7"/><use href="#ba" x="699.6" y="633.0"/><use href="#ba" x="700.3" y="634.2"/><use href="#ba" x="701.0" y="634.9"/><use href="#ba" x="701.7" y="632.3"/><use href="#ba" x="702.4" y="633.4"/><use href="#ba" x="703.1" y="633.9"/><use href="#ba" x="703.1" y="634.1"/><use href="#ba" x="703.8" y="634.7"/><use href="#ba" x="704.5" y="632.7"/><use href="#ba" x="705.2" y="633.3"/><use href="#ba" x="705.9" y="634.9"/><use href="#ba" x="706.6" y="634.2"/><use href="#ba" x="707.3" y="634.3"/><use href="#ba" x="708.0" y="635.0"/><use href="#ba" x="708.7" y="633.9"/><use href="#ba" x="709.4" y="634.4"/><use href="#ba" x="710.1" y="633.5"/><use href="#ba" x="710.8" y="632.4"/><use href="#ba" x="711.5" y="632.4"/><use href="#ba" x="712.2" y="633.9"/><use href="#ba" x="712.9" y="633.7"/><use href="#ba" x="713.6" y="633.2"/><use href="#ba" x="714.3" y="634.2"/><use href="#ba" x="715.0" y="632.9"/><use href="#ba" x="715.7" y="634.0"/><use href="#ba" x="716.4" y="633.9"/><use href="#ba" x="717.1" y="633.0"/><use href="#ba" x="717.8" y="631.4"/><use href="#ba" x="718.5" y="635.5"/><use href="#ba" x="719.2" y="634.3"/><use href="#ba" x="719.9" y="631.0"/><use href="#ba" x="720.6" y="633.5"/><use href="#ba" x="721.3" y="634.4"/><use href="#ba" x="722.0" y="633.7"/><use href="#ba" x="722.7" y="634.6"/><use href="#ba" x="723.4" y="632.9"/><use href="#ba" x="724.1" y="634.1"/><use href="#ba" x="724.8" y="633.9"/><use href="#ba" x="725.5" y="633.7"/><use href="#ba" x="726.2" y="633.7"/><use href="#ba" x="726.9" y="634.2"/><use href="#ba" x="727.6" y="635.0"/><use href="#ba" x="728.3" y="633.4"/><use href="#ba" x="729.0" y="633.5"/><use href="#ba" x="729.7" y="634.1"/><use href="#ba" x="730.4" y="633.8"/><use href="#ba" x="731.1" y="634.4"/><use href="#ba" x="731.8" y="634.7"/><use href="#ba" x="732.5" y="635.4"/><use href="#ba" x="733.2" y="633.8"/><use href="#ba" x="733.9" y="631.4"/><use href="#ba" x="734.6" y="633.9"/><use href="#ba" x="735.3" y="634.3"/><use href="#ba" x="736.0" y="633.7"/><use href="#ba" x="736.7" y="633.8"/><use href="#ba" x="737.4" y="631.2"/><use href="#ba" x="738.1" y="634.5"/><use href="#ba" x="738.8" y="633.6"/><use href="#ba" x="739.5" y="632.3"/><use href="#ba" x="740.2" y="633.0"/><use href="#ba" x="740.9" y="633.0"/><use href="#ba" x="741.6" y="634.6"/><use href="#ba" x="742.3" y="634.5"/><use href="#ba" x="743.0" y="635.6"/><use href="#ba" x="743.7" y="634.6"/><use href="#ba" x="744.4" y="632.4"/><use href="#ba" x="745.1" y="632.3"/><use href="#ba" x="745.8" y="635.1"/><use href="#ba" x="746.5" y="635.6"/><use href="#ba" x="747.2" y="633.6"/><use href="#ba" x="747.9" y="634.5"/><use href="#ba" x="748.6" y="632.2"/><use href="#ba" x="749.3" y="631.7"/><use href="#ba" x="750.0" y="632.6"/><use href="#ba" x="750.7" y="633.5"/><use href="#ba" x="751.4" y="633.3"/><use href="#ba" x="752.1" y="633.6"/><use href="#ba" x="752.8" y="633.3"/><use href="#ba" x="753.5" y="634.6"/><use href="#ba" x="754.2" y="635.4"/><use href="#ba" x="754.9" y="633.8"/><use href="#ba" x="755.6" y="636.0"/><use href="#ba" x="756.3" y="633.1"/><use href="#ba" x="757.0" y="633.2"/><use href="#ba" x="757.7" y="634.1"/><use href="#ba" x="758.4" y="633.3"/><use href="#ba" x="759.1" y="634.9"/><use href="#ba" x="759.8" y="632.9"/><use href="#ba" x="760.3" y="635.0"/><use href="#ba" x="761.0" y="633.7"/><use href="#ba" x="761.7" y="636.2"/><use href="#ba" x="762.4" y="632.8"/><use href="#ba" x="763.1" y="633.0"/><use href="#ba" x="763.8" y="633.2"/><use href="#ba" x="764.5" y="630.4"/><use href="#ba" x="765.2" y="633.1"/><use href="#ba" x="765.9" y="632.4"/><use href="#ba" x="766.6" y="631.2"/><use href="#ba" x="767.3" y="628.2"/><use href="#ba" x="768.0" y="626.6"/><use href="#ba" x="768.7" y="626.9"/><use href="#ba" x="769.4" y="625.1"/><use href="#ba" x="770.1" y="622.8"/><use href="#ba" x="770.8" y="617.5"/><use href="#ba" x="771.5" y="615.6"/><use href="#ba" x="772.2" y="616.1"/><use href="#ba" x="772.9" y="615.4"/><use href="#ba" x="773.6" y="619.2"/><use href="#ba" x="774.3" y="623.5"/><use href="#ba" x="775.0" y="627.0"/><use href="#ba" x="775.7" y="627.8"/><use href="#ba" x="776.4" y="631.1"/><use href="#ba" x="777.1" y="631.1"/><use href="#ba" x="777.8" y="631.8"/><use href="#ba" x="778.5" y="632.1"/><use href="#ba" x="779.2" y="632.9"/><use href="#ba" x="779.9" y="632.7"/><use href="#ba" x="780.6" y="633.0"/><use href="#ba" x="781.3" y="632.6"/><use href="#ba" x="782.0" y="633.7"/><use href="#ba" x="782.7" y="633.6"/><use href="#ba" x="783.4" y="632.0"/><use href="#ba" x="784.1" y="633.4"/><use href="#ba" x="784.3" y="632.8"/><use href="#ba" x="785.0" y="631.5"/><use href="#ba" x="785.7" y="634.3"/><use href="#ba" x="786.4" y="635.6"/><use href="#ba" x="787.1" y="636.5"/><use href="#ba" x="787.8" y="635.6"/><use href="#ba" x="788.5" y="633.0"/><use href="#ba" x="789.2" y="635.3"/><use href="#ba" x="789.9" y="635.2"/><use href="#ba" x="790.6" y="631.8"/><use href="#ba" x="791.3" y="635.0"/><use href="#ba" x="792.0" y="634.7"/><use href="#ba" x="792.7" y="634.2"/><use href="#ba" x="793.4" y="634.4"/><use href="#ba" x="794.1" y="634.1"/><use href="#ba" x="794.8" y="635.9"/><use href="#ba" x="795.5" y="633.7"/><use href="#ba" x="796.2" y="633.9"/><use href="#ba" x="796.9" y="634.1"/><use href="#ba" x="797.6" y="634.4"/><use href="#ba" x="798.3" y="632.2"/><use href="#ba" x="799.0" y="635.7"/><use href="#ba" x="799.7" y="634.4"/><use href="#ba" x="800.4" y="634.8"/><use href="#ba" x="801.1" y="634.4"/><use href="#ba" x="801.8" y="633.9"/><use href="#ba" x="802.5" y="633.8"/><use href="#ba" x="803.2" y="634.2"/><use href="#ba" x="803.9" y="634.3"/><use href="#ba" x="804.6" y="635.4"/><use href="#ba" x="805.3" y="634.5"/><use href="#ba" x="806.0" y="634.0"/><use href="#ba" x="806.7" y="636.3"/><use href="#ba" x="807.4" y="632.7"/><use href="#ba" x="808.1" y="632.6"/><use href="#ba" x="808.8" y="634.4"/><use href="#ba" x="809.3" y="633.8"/><use href="#ba" x="810.0" y="632.1"/><use href="#ba" x="810.7" y="633.6"/><use href="#ba" x="811.4" y="633.1"/><use href="#ba" x="812.1" y="635.1"/><use href="#ba" x="812.8" y="633.1"/><use href="#ba" x="813.5" y="634.8"/><use href="#ba" x="814.2" y="634.0"/><use href="#ba" x="814.9" y="633.0"/><use href="#ba" x="815.6" y="632.8"/><use href="#ba" x="816.3" y="632.7"/><use href="#ba" x="817.0" y="628.8"/><use href="#ba" x="817.7" y="630.6"/><use href="#ba" x="818.4" y="628.6"/><use href="#ba" x="819.1" y="629.5"/><use href="#ba" x="819.8" y="625.5"/><use href="#ba" x="820.5" y="626.6"/><use href="#ba" x="821.2" y="622.4"/><use href="#ba" x="821.9" y="626.6"/><use href="#ba" x="822.6" y="627.2"/><use href="#ba" x="823.3" y="628.1"/><use href="#ba" x="824.0" y="629.6"/><use href="#ba" x="824.7" y="630.6"/><use href="#ba" x="825.4" y="632.3"/><use href="#ba" x="826.1" y="632.4"/><use href="#ba" x="826.8" y="631.0"/><use href="#ba" x="827.5" y="633.1"/><use href="#ba" x="828.2" y="636.0"/><use href="#ba" x="828.9" y="633.7"/><use href="#ba" x="829.6" y="634.1"/><use href="#ba" x="830.3" y="633.3"/><use href="#ba" x="831.0" y="634.0"/><use href="#ba" x="831.7" y="634.1"/><use href="#ba" x="832.4" y="633.6"/><use href="#ba" x="833.1" y="634.8"/><use href="#ba" x="833.8" y="632.8"/><use href="#ba" x="834.5" y="633.6"/><use href="#ba" x="835.2" y="634.1"/><use href="#ba" x="835.9" y="633.1"/><use href="#ba" x="836.6" y="631.7"/><use href="#ba" x="837.3" y="633.2"/><use href="#ba" x="838.0" y="630.8"/><use href="#ba" x="838.7" y="630.5"/><use href="#ba" x="839.4" y="629.0"/><use href="#ba" x="840.1" y="628.6"/><use href="#ba" x="840.8" y="627.1"/><use href="#ba" x="841.5" y="626.3"/><use href="#ba" x="842.2" y="627.4"/><use href="#ba" x="842.9" y="629.1"/><use href="#ba" x="843.6" y="627.8"/><use href="#ba" x="844.3" y="630.0"/><use href="#ba" x="845.0" y="630.2"/><use href="#ba" x="845.7" y="631.7"/><use href="#ba" x="846.4" y="633.6"/><use href="#ba" x="847.1" y="633.0"/><use href="#ba" x="847.8" y="632.5"/><use href="#ba" x="848.5" y="632.9"/><use href="#ba" x="849.2" y="633.2"/><use href="#ba" x="849.9" y="634.0"/><use href="#ba" x="850.6" y="635.1"/><use href="#ba" x="851.3" y="632.7"/><use href="#ba" x="852.0" y="633.1"/><use href="#ba" x="852.7" y="633.3"/><use href="#ba" x="853.4" y="632.4"/><use href="#ba" x="854.1" y="635.8"/><use href="#ba" x="854.3" y="634.3"/><use href="#ba" x="855.0" y="636.5"/><use href="#ba" x="855.7" y="632.9"/><use href="#ba" x="856.4" y="635.9"/><use href="#ba" x="857.1" y="633.7"/><use href="#ba" x="857.8" y="634.0"/><use href="#ba" x="858.5" y="633.4"/><use href="#ba" x="859.2" y="633.5"/><use href="#ba" x="859.9" y="633.1"/><use href="#ba" x="860.6" y="634.8"/><use href="#ba" x="861.3" y="633.1"/><use href="#ba" x="862.0" y="634.3"/><use href="#ba" x="862.7" y="634.5"/><use href="#ba" x="863.4" y="635.3"/><use href="#ba" x="864.1" y="634.7"/><use href="#ba" x="864.8" y="634.9"/><use href="#ba" x="865.5" y="635.1"/><use href="#ba" x="866.2" y="634.6"/><use href="#ba" x="866.9" y="635.0"/><use href="#ba" x="867.6" y="633.5"/><use href="#ba" x="868.3" y="633.7"/><use href="#ba" x="869.0" y="636.7"/><use href="#ba" x="869.7" y="634.6"/><use href="#ba" x="870.4" y="633.8"/><use href="#ba" x="871.1" y="636.1"/><use href="#ba" x="871.8" y="634.4"/><use href="#ba" x="872.5" y="633.9"/><use href="#ba" x="873.2" y="633.0"/><use href="#ba" x="873.9" y="635.5"/><use href="#ba" x="874.6" y="633.4"/><use href="#ba" x="875.3" y="634.0"/><use href="#ba" x="876.0" y="635.3"/><use href="#ba" x="876.7" y="634.8"/><use href="#ba" x="877.4" y="634.5"/><use href="#ba" x="878.1" y="634.4"/><use href="#ba" x="878.8" y="635.8"/><use href="#ba" x="879.5" y="637.0"/><use href="#ba" x="880.2" y="634.0"/><use href="#ba" x="880.9" y="635.2"/><use href="#ba" x="881.6" y="636.7"/><use href="#ba" x="882.3" y="635.7"/><use href="#ba" x="883.0" y="633.8"/><use href="#ba" x="883.7" y="634.0"/><use href="#ba" x="884.4" y="633.8"/><use href="#ba" x="885.1" y="633.5"/><use href="#ba" x="885.8" y="633.7"/><use href="#ba" x="886.5" y="634.7"/><use href="#ba" x="887.3" y="633.7"/><use href="#ba" x="888.0" y="635.3"/><use href="#ba" x="888.7" y="634.4"/><use href="#ba" x="889.4" y="633.7"/><use href="#ba" x="890.1" y="635.1"/><use href="#ba" x="890.8" y="634.3"/><use href="#ba" x="891.5" y="634.1"/><use href="#ba" x="892.2" y="634.7"/><use href="#ba" x="892.9" y="633.8"/><use href="#ba" x="893.6" y="632.4"/><use href="#ba" x="894.3" y="632.7"/><use href="#ba" x="895.0" y="630.8"/><use href="#ba" x="895.7" y="632.2"/><use href="#ba" x="896.4" y="628.3"/><use href="#ba" x="897.1" y="626.4"/><use href="#ba" x="897.8" y="624.6"/><use href="#ba" x="898.5" y="622.0"/><use href="#ba" x="899.2" y="623.1"/><use href="#ba" x="899.9" y="622.5"/><use href="#ba" x="900.6" y="623.3"/><use href="#ba" x="901.3" y="625.6"/><use href="#ba" x="902.0" y="628.7"/><use href="#ba" x="902.7" y="628.1"/><use href="#ba" x="903.4" y="631.4"/><use href="#ba" x="904.1" y="631.4"/><use href="#ba" x="904.8" y="633.7"/><use href="#ba" x="905.5" y="632.5"/><use href="#ba" x="906.2" y="635.7"/><use href="#ba" x="906.9" y="634.7"/><use href="#ba" x="907.6" y="632.6"/><use href="#ba" x="908.3" y="636.0"/><use href="#ba" x="909.0" y="633.9"/><use href="#ba" x="909.7" y="633.4"/><use href="#ba" x="910.4" y="633.1"/><use href="#ba" x="911.0" y="634.9"/><use href="#ba" x="911.1" y="635.9"/><use href="#ba" x="911.7" y="633.7"/><use href="#ba" x="912.4" y="633.2"/><use href="#ba" x="913.1" y="633.1"/><use href="#ba" x="913.8" y="636.0"/><use href="#ba" x="914.5" y="636.2"/><use href="#ba" x="915.3" y="633.9"/><use href="#ba" x="916.0" y="634.9"/><use href="#ba" x="916.7" y="634.2"/><use href="#ba" x="917.4" y="634.1"/><use href="#ba" x="918.1" y="635.1"/><use href="#ba" x="918.8" y="634.4"/><use href="#ba" x="919.5" y="634.2"/><use href="#ba" x="920.2" y="633.2"/><use href="#ba" x="920.9" y="634.0"/><use href="#ba" x="921.6" y="632.3"/><use href="#ba" x="922.3" y="631.8"/><use href="#ba" x="923.0" y="630.8"/><use href="#ba" x="923.7" y="627.7"/><use href="#ba" x="924.4" y="626.8"/><use href="#ba" x="925.1" y="624.8"/><use href="#ba" x="925.8" y="623.3"/><use href="#ba" x="926.5" y="620.7"/><use href="#ba" x="927.2" y="620.3"/><use href="#ba" x="927.9" y="624.3"/><use href="#ba" x="928.6" y="625.5"/><use href="#ba" x="929.3" y="627.2"/><use href="#ba" x="930.0" y="630.2"/><use href="#ba" x="930.7" y="630.4"/><use href="#ba" x="931.4" y="631.2"/><use href="#ba" x="932.1" y="632.8"/><use href="#ba" x="932.8" y="630.9"/><use href="#ba" x="933.5" y="632.3"/><use href="#ba" x="934.2" y="634.6"/><use href="#ba" x="934.9" y="634.1"/><use href="#ba" x="935.6" y="632.8"/><use href="#ba" x="936.3" y="635.0"/><use href="#ba" x="937.0" y="635.5"/><use href="#ba" x="937.7" y="635.2"/><use href="#ba" x="938.4" y="634.5"/><use href="#ba" x="939.0" y="633.6"/><use href="#ba" x="939.1" y="634.7"/><use href="#ba" x="939.7" y="635.1"/><use href="#ba" x="940.4" y="634.2"/><use href="#ba" x="941.1" y="635.3"/><use href="#ba" x="941.8" y="635.0"/><use href="#ba" x="942.5" y="635.1"/><use href="#ba" x="943.2" y="632.5"/><use href="#ba" x="943.9" y="635.9"/><use href="#ba" x="944.6" y="636.6"/><use href="#ba" x="945.3" y="634.3"/><use href="#ba" x="946.0" y="633.1"/><use href="#ba" x="946.7" y="635.5"/><use href="#ba" x="947.4" y="634.3"/><use href="#ba" x="948.1" y="633.7"/><use href="#ba" x="948.8" y="636.1"/><use href="#ba" x="949.5" y="633.3"/><use href="#ba" x="950.2" y="635.6"/><use href="#ba" x="950.9" y="633.4"/><use href="#ba" x="951.6" y="636.4"/><use href="#ba" x="952.3" y="635.4"/><use href="#ba" x="953.0" y="634.5"/><use href="#ba" x="953.7" y="634.9"/><use href="#ba" x="954.4" y="635.4"/><use href="#ba" x="955.1" y="635.7"/><use href="#ba" x="955.8" y="635.7"/><use href="#ba" x="956.5" y="635.3"/><use href="#ba" x="957.2" y="634.2"/><use href="#ba" x="957.9" y="635.4"/><use href="#ba" x="958.6" y="633.2"/><use href="#ba" x="959.3" y="635.7"/><use href="#ba" x="960.0" y="635.5"/><use href="#ba" x="960.7" y="636.0"/><use href="#ba" x="961.4" y="633.8"/><use href="#ba" x="962.1" y="634.5"/><use href="#ba" x="962.8" y="635.1"/><use href="#ba" x="963.5" y="634.3"/><use href="#ba" x="964.2" y="633.2"/><use href="#ba" x="964.9" y="633.6"/><use href="#ba" x="965.6" y="632.7"/><use href="#ba" x="966.3" y="633.0"/><use href="#ba" x="967.0" y="630.2"/><use href="#ba" x="967.7" y="630.1"/><use href="#ba" x="968.4" y="628.8"/><use href="#ba" x="969.1" y="628.0"/><use href="#ba" x="969.8" y="625.9"/><use href="#ba" x="970.5" y="625.4"/><use href="#ba" x="971.2" y="625.0"/><use href="#ba" x="971.9" y="625.7"/><use href="#ba" x="972.6" y="626.6"/><use href="#ba" x="973.3" y="627.5"/><use href="#ba" x="974.0" y="632.3"/><use href="#ba" x="974.7" y="629.5"/><use href="#ba" x="975.4" y="630.2"/><use href="#ba" x="976.1" y="631.5"/><use href="#ba" x="976.8" y="632.2"/><use href="#ba" x="977.5" y="633.5"/><use href="#ba" x="978.2" y="635.5"/><use href="#ba" x="978.9" y="636.0"/><use href="#ba" x="979.6" y="634.6"/><use href="#ba" x="980.3" y="631.7"/><use href="#ba" x="981.0" y="635.0"/><use href="#ba" x="981.7" y="633.2"/><use href="#ba" x="982.4" y="634.1"/><use href="#ba" x="983.1" y="633.4"/><use href="#ba" x="983.1" y="635.2"/><use href="#ba" x="983.8" y="634.1"/><use href="#ba" x="984.5" y="635.6"/><use href="#ba" x="985.2" y="635.3"/><use href="#ba" x="985.9" y="634.6"/><use href="#ba" x="986.6" y="634.9"/><use href="#ba" x="987.3" y="635.9"/><use href="#ba" x="988.0" y="634.4"/><use href="#ba" x="988.7" y="635.9"/><use href="#ba" x="989.4" y="634.8"/><use href="#ba" x="990.1" y="635.1"/><use href="#ba" x="990.8" y="635.7"/><use href="#ba" x="991.5" y="636.2"/><use href="#ba" x="992.2" y="635.3"/><use href="#ba" x="992.9" y="634.7"/><use href="#ba" x="993.6" y="635.3"/><use href="#ba" x="994.3" y="632.6"/><use href="#ba" x="995.0" y="635.7"/><use href="#ba" x="995.7" y="632.1"/><use href="#ba" x="996.4" y="634.1"/><use href="#ba" x="997.1" y="631.9"/><use href="#ba" x="997.8" y="632.6"/><use href="#ba" x="998.5" y="631.6"/><use href="#ba" x="999.2" y="631.9"/><use href="#ba" x="999.9" y="631.0"/><use href="#ba" x="1000.6" y="629.9"/><use href="#ba" x="1001.3" y="633.3"/><use href="#ba" x="1002.0" y="632.7"/><use href="#ba" x="1002.7" y="633.1"/><use href="#ba" x="1003.4" y="633.4"/><use href="#ba" x="1004.1" y="636.7"/><use href="#ba" x="1004.8" y="634.0"/><use href="#ba" x="1005.5" y="635.1"/><use href="#ba" x="1006.2" y="633.6"/><use href="#ba" x="1006.9" y="636.6"/><use href="#ba" x="1007.6" y="634.4"/><use href="#ba" x="1008.3" y="632.2"/><use href="#ba" x="1009.0" y="638.0"/><use href="#ba" x="1009.7" y="633.9"/><use href="#ba" x="1010.4" y="636.5"/><use href="#ba" x="1011.1" y="635.9"/><use href="#ba" x="1011.1" y="635.8"/><use href="#ba" x="1011.8" y="634.8"/><use href="#ba" x="1012.5" y="635.3"/><use href="#ba" x="1013.2" y="636.5"/><use href="#ba" x="1013.9" y="634.8"/><use href="#ba" x="1014.6" y="635.4"/><use href="#ba" x="1015.3" y="636.2"/><use href="#ba" x="1016.0" y="635.2"/><use href="#ba" x="1016.7" y="634.7"/><use href="#ba" x="1017.4" y="636.8"/><use href="#ba" x="1018.1" y="635.5"/><use href="#ba" x="1018.8" y="635.0"/><use href="#ba" x="1019.5" y="634.3"/><use href="#ba" x="1020.2" y="634.1"/><use href="#ba" x="1020.9" y="636.2"/><use href="#ba" x="1021.6" y="636.2"/><use href="#ba" x="1022.3" y="632.8"/><use href="#ba" x="1023.0" y="634.5"/><use href="#ba" x="1023.7" y="636.3"/><use href="#ba" x="1024.4" y="637.9"/><use href="#ba" x="1025.1" y="637.6"/><use href="#ba" x="1025.8" y="636.2"/><use href="#ba" x="1026.5" y="636.7"/><use href="#ba" x="1027.2" y="634.6"/><use href="#ba" x="1027.9" y="636.1"/><use href="#ba" x="1028.6" y="633.9"/><use href="#ba" x="1029.3" y="634.6"/><use href="#ba" x="1030.0" y="635.6"/><use href="#ba" x="1030.7" y="637.6"/><use href="#ba" x="1031.4" y="636.0"/><use href="#ba" x="1032.1" y="635.5"/><use href="#ba" x="1032.8" y="635.0"/><use href="#ba" x="1033.5" y="633.8"/><use href="#ba" x="1034.2" y="635.9"/><use href="#ba" x="1034.9" y="634.8"/><use href="#ba" x="1035.6" y="635.5"/><use href="#ba" x="1036.3" y="634.2"/><use href="#ba" x="1037.0" y="635.4"/><use href="#ba" x="1037.7" y="633.5"/><use href="#ba" x="1038.4" y="635.8"/><use href="#ba" x="1039.1" y="636.7"/><use href="#ba" x="1039.8" y="636.2"/><use href="#ba" x="1040.5" y="637.5"/><use href="#ba" x="1041.2" y="635.6"/><use href="#ba" x="1041.9" y="635.8"/><use href="#ba" x="1042.6" y="635.8"/><use href="#ba" x="1043.3" y="634.2"/><use href="#ba" x="1044.0" y="637.6"/><use href="#ba" x="1044.7" y="636.3"/><use href="#ba" x="1045.4" y="634.9"/><use href="#ba" x="1046.1" y="634.2"/><use href="#ba" x="1046.8" y="635.8"/><use href="#ba" x="1047.5" y="636.1"/><use href="#ba" x="1048.2" y="635.3"/><use href="#ba" x="1048.9" y="635.4"/><use href="#ba" x="1049.6" y="635.0"/><use href="#ba" x="1050.3" y="635.2"/><use href="#ba" x="1051.0" y="636.6"/><use href="#ba" x="1051.7" y="636.7"/><use href="#ba" x="1052.4" y="633.5"/><use href="#ba" x="1053.1" y="635.3"/><use href="#ba" x="1053.8" y="633.8"/><use href="#ba" x="1054.5" y="633.6"/><use href="#ba" x="1055.2" y="635.7"/><use href="#ba" x="1055.6" y="634.1"/><use href="#ba" x="1056.3" y="631.5"/><use href="#ba" x="1057.0" y="635.7"/><use href="#ba" x="1057.7" y="636.3"/><use href="#ba" x="1058.4" y="637.1"/><use href="#ba" x="1059.1" y="634.3"/><use href="#ba" x="1059.8" y="636.2"/><use href="#ba" x="1060.5" y="631.6"/><use href="#ba" x="1061.2" y="633.0"/><use href="#ba" x="1061.9" y="634.4"/><use href="#ba" x="1062.6" y="633.9"/><use href="#ba" x="1063.3" y="634.2"/><use href="#ba" x="1064.0" y="633.1"/><use href="#ba" x="1064.7" y="631.2"/><use href="#ba" x="1065.4" y="632.2"/><use href="#ba" x="1066.1" y="630.5"/><use href="#ba" x="1066.8" y="631.2"/><use href="#ba" x="1067.5" y="628.3"/><use href="#ba" x="1068.2" y="629.8"/><use href="#ba" x="1068.9" y="629.6"/><use href="#ba" x="1069.6" y="631.8"/><use href="#ba" x="1070.3" y="631.4"/><use href="#ba" x="1071.0" y="632.1"/><use href="#ba" x="1071.7" y="631.6"/><use href="#ba" x="1072.4" y="633.9"/><use href="#ba" x="1073.1" y="635.2"/><use href="#ba" x="1073.8" y="635.4"/><use href="#ba" x="1074.5" y="631.2"/><use href="#ba" x="1075.2" y="632.9"/><use href="#ba" x="1075.9" y="636.9"/><use href="#ba" x="1076.6" y="634.6"/><use href="#ba" x="1077.3" y="634.7"/><use href="#ba" x="1078.0" y="636.2"/><use href="#ba" x="1078.7" y="635.1"/><use href="#ba" x="1079.4" y="634.2"/><use href="#ba" x="1079.7" y="634.7"/><use href="#ba" x="1080.4" y="637.0"/><use href="#ba" x="1081.1" y="633.4"/><use href="#ba" x="1081.8" y="636.4"/><use href="#ba" x="1082.5" y="634.6"/><use href="#ba" x="1083.2" y="634.6"/><use href="#ba" x="1083.9" y="637.0"/><use href="#ba" x="1084.6" y="634.2"/><use href="#ba" x="1085.3" y="635.8"/><use href="#ba" x="1086.0" y="634.5"/><use href="#ba" x="1086.7" y="633.3"/><use href="#ba" x="1087.4" y="634.7"/><use href="#ba" x="1088.1" y="636.1"/><use href="#ba" x="1088.8" y="634.6"/><use href="#ba" x="1089.5" y="635.4"/><use href="#ba" x="1090.2" y="635.0"/><use href="#ba" x="1090.9" y="634.8"/><use href="#ba" x="1091.6" y="634.3"/><use href="#ba" x="1092.3" y="634.9"/><use href="#ba" x="1093.0" y="632.4"/><use href="#ba" x="1093.7" y="634.1"/><use href="#ba" x="1094.4" y="632.6"/><use href="#ba" x="1095.1" y="634.8"/><use href="#ba" x="1095.8" y="634.9"/><use href="#ba" x="1096.5" y="633.6"/><use href="#ba" x="1097.2" y="635.3"/><use href="#ba" x="1097.9" y="634.8"/><use href="#ba" x="1098.6" y="634.6"/><use href="#ba" x="1099.3" y="633.8"/><use href="#ba" x="1100.0" y="634.6"/><use href="#ba" x="1100.7" y="635.2"/><use href="#ba" x="1101.4" y="633.2"/><use href="#ba" x="1102.1" y="633.0"/><use href="#ba" x="1102.8" y="635.1"/><use href="#ba" x="1103.5" y="631.2"/><use href="#ba" x="1104.2" y="630.8"/><use href="#ba" x="1104.9" y="631.6"/><use href="#ba" x="1105.6" y="633.7"/><use href="#ba" x="1106.3" y="633.5"/><use href="#ba" x="1107.0" y="633.8"/><use href="#ba" x="1107.7" y="633.2"/><use href="#ba" x="1108.4" y="634.7"/><use href="#ba" x="1109.1" y="634.7"/><use href="#ba" x="1109.8" y="634.1"/><use href="#ba" x="1110.5" y="631.4"/><use href="#ba" x="1111.2" y="633.0"/><use href="#ba" x="1111.9" y="631.5"/><use href="#ba" x="1112.6" y="631.7"/><use href="#ba" x="1113.3" y="630.9"/><use href="#ba" x="1114.0" y="631.8"/><use href="#ba" x="1114.7" y="632.2"/><use href="#ba" x="1115.4" y="631.4"/><use href="#ba" x="1116.1" y="629.8"/><use href="#ba" x="1116.8" y="629.1"/><use href="#ba" x="1117.5" y="629.7"/><use href="#ba" x="1118.2" y="629.4"/><use href="#ba" x="1118.9" y="630.7"/><use href="#ba" x="1119.6" y="629.1"/><use href="#ba" x="1120.3" y="628.9"/><use href="#ba" x="1121.0" y="628.5"/><use href="#ba" x="1121.7" y="629.4"/><use href="#ba" x="1122.4" y="629.6"/><use href="#ba" x="1123.1" y="627.8"/><use href="#ba" x="1123.8" y="626.6"/><use href="#ba" x="1124.5" y="628.1"/><use href="#ba" x="1125.2" y="626.6"/><use href="#ba" x="1125.9" y="625.4"/><use href="#ba" x="1126.6" y="626.6"/><use href="#ba" x="1127.3" y="625.5"/>
<path d="M49.0 593.7L116.5 603.8L138.2 606.4L145.0 606.6L149.5 605.9L152.8 604.3L155.0 601.5L156.8 596.7L157.8 590.3L158.5 581.0L159.2 564.7L160.5 513.5L162.2 407.8L163.0 388.5L163.8 408.0L166.2 549.1L167.0 572.3L168.0 589.2L169.5 599.5L170.8 603.3L172.2 605.9L174.2 608.1L176.8 609.9L180.0 611.3L184.2 612.6L195.0 614.7L213.2 617.4L221.2 618.2L225.2 617.9L227.0 616.6L228.2 613.9L231.2 599.2L232.0 597.7L232.8 599.4L235.0 611.8L236.5 616.8L237.5 618.5L238.5 619.3L242.5 620.6L254.0 622.0L277.2 623.8L312.5 625.8L327.5 626.2L330.2 625.8L331.8 624.8L333.0 622.8L335.2 617.4L336.0 616.7L336.8 617.5L338.8 622.5L340.0 624.8L341.2 626.0L343.0 626.6L351.5 627.3L362.2 627.2L368.2 626.4L372.2 624.7L374.8 622.3L376.5 618.4L377.5 613.5L378.5 604.4L380.2 570.1L382.8 489.6L383.5 480.8L384.0 484.9L384.5 496.0L387.2 583.1L388.2 601.6L389.2 612.3L390.8 619.8L392.8 623.8L394.5 625.5L396.5 626.8L399.0 627.8L402.2 628.7L408.5 629.6L417.2 630.3L440.5 631.2L449.5 630.6L452.2 629.8L454.2 628.5L455.2 627.1L456.2 624.6L457.8 616.4L459.0 603.0L461.0 573.4L461.5 568.5L462.0 566.7L462.5 568.5L463.0 573.5L465.8 612.1L466.8 620.3L467.8 625.1L469.2 628.5L471.5 630.4L475.5 631.8L482.2 632.7L502.5 634.0L526.2 634.9L545.0 635.0L554.8 634.4L557.5 633.6L559.2 631.8L560.8 628.6L563.0 622.0L564.0 620.7L565.0 621.9L568.2 630.9L569.5 632.7L570.8 633.6L573.0 634.2L577.5 634.6L590.8 634.2L594.0 633.4L596.0 631.5L597.5 628.3L600.0 620.1L601.0 618.7L602.0 620.1L604.2 627.5L605.5 630.6L607.0 632.6L608.8 633.6L613.0 634.2L621.5 634.5L638.0 634.5L646.5 634.1L649.2 633.5L651.0 632.3L652.2 630.3L654.2 625.9L655.0 625.0L655.8 625.1L657.2 626.3L658.2 625.7L659.5 622.6L661.5 614.4L662.0 613.1L662.5 612.7L663.5 614.7L666.5 627.6L668.0 631.2L669.2 632.6L670.8 633.4L676.8 634.3L682.5 634.1L685.2 633.1L687.0 630.9L690.0 623.8L691.0 622.7L692.0 623.8L695.0 631.0L696.0 632.5L697.2 633.6L699.0 634.3L701.5 634.6L712.5 635.1L752.8 635.1L758.2 634.7L760.8 633.9L762.8 632.7L764.8 630.8L769.5 625.2L771.0 624.1L772.2 623.7L773.5 623.9L775.0 624.9L780.5 631.4L783.2 633.7L786.8 634.9L791.8 635.3L806.8 635.2L812.5 634.5L814.0 633.9L815.5 632.8L819.5 627.7L821.0 626.7L822.2 627.4L825.5 631.6L827.5 633.4L830.0 634.3L833.0 634.2L834.8 633.5L836.2 632.2L837.8 630.0L840.5 625.0L841.2 624.0L842.0 623.7L842.8 624.1L843.5 625.0L847.2 631.8L849.8 634.1L851.5 634.8L853.8 635.2L863.8 635.7L882.2 635.7L890.0 635.1L891.8 634.5L893.2 633.4L897.5 627.7L899.0 626.7L900.5 627.7L904.2 632.9L906.5 634.5L908.2 635.1L910.8 635.3L917.0 635.1L919.2 634.3L921.0 632.9L922.8 630.3L925.8 624.7L927.0 623.7L928.2 624.7L931.8 631.3L934.2 634.1L935.8 634.9L937.8 635.4L944.8 635.9L956.5 635.9L962.0 635.3L965.0 633.8L969.5 629.4L971.0 628.7L972.5 629.4L977.5 634.2L979.2 635.1L981.5 635.6L987.0 636.0L991.5 635.7L993.8 635.1L997.5 633.1L999.0 632.7L1000.5 633.1L1004.5 635.3L1007.0 635.9L1023.8 636.4L1048.0 636.4L1057.0 636.0L1061.0 634.8L1065.8 631.2L1067.2 630.6L1068.8 631.1L1073.5 634.7L1076.5 635.7L1083.2 636.1L1095.5 635.7L1104.0 634.9L1111.8 633.6L1117.8 631.6L1121.8 629.4" fill="none" stroke="#ff0000" stroke-width="7.8" stroke-linejoin="round" stroke-linecap="round"/>
<rect x="160.0" y="658.0" width="6.3" height="25.5" fill="#ff00ff"/>
<rect x="229.6" y="658.0" width="3.8" height="25.5" fill="#ff00ff"/>
<rect x="333.0" y="658.0" width="4.0" height="25.5" fill="#ff00ff"/>
<rect x="377.4" y="658.0" width="7.2" height="25.5" fill="#ff00ff"/>
<rect x="455.0" y="658.0" width="3.0" height="25.5" fill="#ff00ff"/>
<rect x="459.9" y="658.0" width="6.7" height="25.5" fill="#ff00ff"/>
<rect x="561.9" y="658.0" width="3.8" height="25.5" fill="#ff00ff"/>
<rect x="597.2" y="658.0" width="7.8" height="25.5" fill="#ff00ff"/>
<rect x="652.7" y="658.0" width="12.9" height="25.5" fill="#ff00ff"/>
<rect x="690.2" y="658.0" width="5.1" height="25.5" fill="#ff00ff"/>
<rect x="745.8" y="658.0" width="5.1" height="25.5" fill="#ff00ff"/>
<rect x="762.8" y="658.0" width="5.2" height="25.5" fill="#ff00ff"/>
<rect x="772.0" y="658.0" width="3.8" height="25.5" fill="#ff00ff"/>
<rect x="820.0" y="658.0" width="11.0" height="25.5" fill="#ff00ff"/>
<rect x="841.8" y="658.0" width="4.6" height="25.5" fill="#ff00ff"/>
<rect x="896.9" y="658.0" width="5.4" height="25.5" fill="#ff00ff"/>
<rect x="916.9" y="658.0" width="4.6" height="25.5" fill="#ff00ff"/>
<rect x="924.0" y="658.0" width="7.7" height="25.5" fill="#ff00ff"/>
<rect x="960.9" y="658.0" width="4.6" height="25.5" fill="#ff00ff"/>
<rect x="966.8" y="658.0" width="2.6" height="25.5" fill="#ff00ff"/>
<rect x="970.7" y="658.0" width="8.9" height="25.5" fill="#ff00ff"/>
<rect x="998.0" y="658.0" width="5.0" height="25.5" fill="#ff00ff"/>
<rect x="1043.4" y="658.0" width="5.5" height="25.5" fill="#ff00ff"/>
<rect x="1056.4" y="658.0" width="2.4" height="25.5" fill="#ff00ff"/>
<rect x="1060.1" y="658.0" width="2.8" height="25.5" fill="#ff00ff"/>
<rect x="1064.2" y="658.0" width="9.3" height="25.5" fill="#ff00ff"/>
<rect x="1094.0" y="658.0" width="2.4" height="25.5" fill="#ff00ff"/>
<rect x="1097.7" y="658.0" width="2.8" height="25.5" fill="#ff00ff"/>
<rect x="1101.8" y="658.0" width="14.0" height="25.5" fill="#ff00ff"/>
<path d="M49.0 735.1L50.6 732.2L51.0 733.6L52.2 732.0L53.0 734.7L53.8 734.4L54.6 736.6L55.4 736.2L56.2 736.9L57.0 736.7L57.8 733.8L58.6 735.3L59.4 735.1L60.2 737.3L61.0 733.1L61.8 735.0L62.6 733.1L64.2 735.1L65.0 734.6L66.6 735.8L67.4 732.7L68.2 733.0L69.0 729.0L69.8 728.9L70.6 731.2L71.4 729.7L72.2 730.6L73.0 734.2L73.8 733.7L74.6 735.3L75.4 732.5L77.0 733.7L78.6 733.0L79.4 732.0L80.2 733.2L81.0 733.1L81.8 733.8L82.6 735.4L83.4 732.7L84.2 733.1L85.0 734.6L86.6 731.6L87.4 734.7L89.0 733.6L90.6 735.3L91.4 733.1L92.2 736.0L93.8 732.9L94.6 733.4L95.4 732.6L96.2 735.4L97.0 735.8L97.8 732.4L99.4 734.8L100.2 732.5L101.0 732.2L101.8 732.9L103.4 731.5L104.2 734.8L105.0 732.6L105.8 734.4L108.2 733.3L109.0 734.9L109.8 732.0L110.6 732.6L111.4 729.3L112.2 729.2L114.6 731.9L115.4 730.4L116.2 731.1L117.0 729.6L118.6 731.9L121.0 730.4L121.8 732.3L122.6 730.8L123.4 730.7L124.2 732.2L125.8 730.3L126.6 730.7L127.4 729.3L128.2 729.1L129.0 728.0L129.8 730.9L131.4 725.9L132.2 728.5L133.0 725.7L133.8 728.2L136.0 724.2L136.2 725.7L137.0 726.1L137.8 724.1L138.6 723.9L139.4 726.0L140.2 725.5L141.0 727.1L142.6 733.9L145.0 729.7L145.8 729.8L146.6 732.3L148.2 728.7L149.0 729.4L149.8 731.9L151.4 733.0L152.2 732.7L153.0 734.6L154.6 732.7L155.4 735.5L156.0 734.3L157.8 712.6L159.4 711.7L160.0 712.4L160.2 716.0L163.0 777.1L164.5 744.8L165.5 693.8L169.5 742.4L170.6 735.0L172.2 730.6L173.8 735.0L174.6 732.4L175.4 733.1L176.2 732.0L177.0 733.6L177.8 732.0L178.6 731.5L180.2 732.2L181.0 730.9L182.6 735.1L183.4 732.0L184.2 731.4L185.8 733.4L186.6 736.0L188.2 735.2L190.6 730.6L192.2 732.5L193.0 731.6L193.8 734.4L195.4 731.3L196.2 733.8L197.0 732.8L197.8 736.1L198.6 734.1L199.4 734.0L200.0 735.0L200.2 732.4L201.0 734.8L201.8 733.6L203.4 735.7L204.2 733.5L205.0 733.4L205.8 736.5L207.4 730.5L208.2 730.8L209.0 730.5L209.8 732.3L210.6 732.8L211.4 730.5L213.8 732.3L215.4 734.8L217.0 731.7L217.8 733.2L219.4 731.7L220.2 733.7L221.0 732.8L221.8 733.1L222.6 732.2L223.4 737.7L224.2 734.9L225.0 737.5L226.6 733.0L227.4 733.7L228.2 730.0L229.0 729.7L229.0 729.2L229.8 731.4L232.2 725.8L233.0 728.6L233.8 728.2L234.6 731.5L235.4 731.7L236.0 734.5L237.0 731.4L237.8 732.0L238.6 731.2L240.2 732.7L241.0 730.8L241.8 730.8L242.6 733.3L243.4 733.6L244.2 733.1L245.0 734.6L245.8 733.3L246.6 734.6L247.4 732.7L248.2 732.0L249.0 732.2L249.8 735.0L252.2 732.6L253.0 735.7L256.2 734.5L257.0 733.7L257.8 735.9L258.6 733.2L259.4 736.3L261.0 732.3L262.6 731.9L263.4 732.4L264.2 731.7L265.0 732.7L265.8 731.5L266.6 734.2L267.4 732.8L268.2 732.9L269.0 735.9L269.8 731.2L270.6 733.6L272.2 733.9L273.0 734.9L273.8 734.4L274.6 732.2L275.4 736.8L276.2 734.2L277.0 734.5L277.8 733.4L278.6 735.9L279.4 735.6L280.2 736.8L281.0 734.9L283.4 732.9L284.2 730.1L285.8 734.2L286.6 733.6L287.4 735.3L288.2 734.1L289.0 730.9L289.8 732.0L290.6 731.2L291.4 734.9L292.2 733.8L293.8 737.7L294.6 734.0L296.2 733.8L297.8 732.0L298.6 733.4L299.4 733.6L300.0 730.5L300.2 735.2L301.0 730.9L301.8 734.9L302.6 733.9L303.4 735.3L304.2 733.4L305.8 732.8L306.6 734.6L307.4 733.4L308.2 734.4L309.0 732.8L310.6 735.5L311.4 733.3L312.2 732.6L313.0 734.1L313.8 731.9L314.6 734.7L315.4 735.1L316.2 733.3L317.0 733.9L317.8 733.8L320.2 731.6L321.8 732.6L322.6 730.4L323.4 731.2L324.2 734.3L325.0 732.3L325.8 734.1L327.4 729.8L328.2 732.3L329.0 729.5L330.6 732.7L331.4 733.2L333.8 729.9L334.6 729.5L335.4 730.1L336.2 732.5L337.0 731.2L337.8 733.3L339.4 732.1L340.2 732.7L341.0 731.6L341.8 732.8L342.6 731.7L343.4 734.1L344.2 733.0L345.8 733.7L347.4 731.3L348.2 734.5L349.8 733.5L350.6 734.6L351.4 732.0L352.2 733.9L353.8 732.1L354.6 733.4L355.4 732.0L356.2 732.3L357.8 734.9L358.6 733.9L359.4 735.8L361.0 735.1L361.8 736.0L362.6 735.5L363.4 733.4L365.0 731.4L365.8 733.8L367.4 730.1L368.2 730.3L369.8 733.8L370.6 733.5L372.2 734.3L373.0 730.6L373.8 733.2L375.5 713.6L376.2 711.1L377.0 713.1L377.8 709.5L378.6 709.9L379.4 707.6L381.0 705.6L381.0 703.6L381.8 705.9L382.6 705.1L383.4 709.9L383.5 708.8L384.5 744.7L385.0 744.1L385.8 748.1L386.5 747.7L388.2 740.3L388.5 740.7L389.0 739.1L389.8 735.1L390.5 734.7L390.6 732.7L391.4 734.0L393.0 731.6L393.8 732.8L395.4 733.2L396.2 731.6L397.0 734.2L397.8 735.0L399.4 732.0L400.2 732.9L401.0 733.0L401.8 732.4L403.4 736.4L404.2 735.2L405.0 736.0L405.8 733.0L406.6 734.4L407.4 731.9L408.2 734.1L409.8 733.3L410.6 734.4L411.4 734.6L412.2 733.6L413.0 734.4L414.6 730.7L415.4 733.4L417.8 732.8L418.6 733.8L419.4 732.7L420.2 735.4L421.0 733.4L421.8 736.6L422.6 737.7L424.2 735.5L425.8 730.9L427.4 731.2L428.2 733.3L429.8 734.1L430.6 735.2L432.2 734.6L433.0 731.7L433.8 732.2L435.4 735.1L437.0 733.1L437.8 731.1L438.6 734.1L439.4 732.1L440.2 732.5L441.0 736.3L441.8 731.8L442.6 732.8L443.4 731.3L444.2 731.0L445.0 735.9L445.8 734.4L446.6 734.9L447.4 737.2L448.2 736.2L449.8 731.6L450.6 734.3L452.2 733.0L453.8 734.7L454.6 731.9L455.4 732.1L457.0 734.4L457.8 733.0L458.0 734.0L460.0 709.6L460.2 713.4L461.0 715.2L461.8 711.4L464.2 708.7L465.0 709.9L465.0 708.5L466.5 742.4L468.2 739.0L469.0 734.6L470.6 734.4L471.4 731.8L472.2 734.1L473.0 732.4L474.6 733.6L475.4 731.9L476.2 734.0L477.8 732.7L478.6 735.5L479.4 735.4L480.2 736.0L481.0 735.0L481.8 736.4L482.6 736.1L483.4 737.1L484.2 735.0L485.8 733.5L486.6 733.5L488.2 735.0L489.0 734.5L489.8 736.3L490.6 736.4L491.4 733.3L493.0 734.6L494.6 732.0L495.4 732.0L496.2 731.1L497.8 734.5L498.6 734.7L500.2 732.2L501.0 733.4L501.8 732.3L502.6 732.2L503.4 735.4L507.4 729.7L508.2 732.2L509.8 734.1L510.6 737.0L511.4 735.2L512.2 735.4L513.0 733.6L513.8 734.7L514.6 733.7L515.4 733.7L516.2 734.5L517.0 734.1L517.8 734.3L518.6 731.8L519.4 731.5L520.2 733.2L521.0 731.3L522.6 736.3L524.2 737.4L525.0 732.0L525.8 734.5L528.2 736.9L529.0 734.6L530.6 733.4L531.4 735.9L532.2 736.3L533.0 733.8L534.6 734.7L535.4 734.3L536.2 732.8L537.0 733.2L538.6 732.2L539.4 733.4L540.2 731.4L541.0 734.6L541.8 734.2L543.4 736.2L545.0 736.3L545.8 737.4L546.6 735.7L548.2 734.2L549.0 731.5L549.8 733.1L550.6 730.5L551.4 733.6L552.2 734.7L553.0 732.9L554.6 732.5L555.4 730.5L556.2 733.4L557.0 733.9L558.6 732.1L559.4 733.4L560.2 732.3L561.0 737.7L561.8 735.2L562.6 735.5L563.4 733.9L564.2 736.6L565.0 731.0L565.8 732.9L566.6 733.0L568.2 735.3L569.0 733.3L569.8 734.2L570.6 732.2L571.4 733.6L572.2 733.4L573.0 735.4L573.8 735.4L574.6 733.0L575.4 733.2L577.0 732.4L577.8 730.6L578.6 733.2L579.4 731.7L580.2 734.6L581.0 731.6L582.6 731.0L583.4 731.5L584.2 735.4L585.0 733.8L585.8 734.3L586.6 733.7L587.4 732.1L589.0 732.9L589.8 734.6L590.6 731.8L591.4 732.4L592.2 732.1L593.0 735.6L593.8 734.9L594.6 735.7L595.4 733.7L596.0 735.8L597.0 731.8L597.8 731.7L598.6 729.3L599.4 731.5L601.0 741.7L601.0 740.7L601.8 740.1L602.6 736.8L603.4 736.0L604.2 736.1L605.0 734.6L605.0 732.8L605.8 735.3L606.6 734.0L607.4 734.6L608.2 734.0L609.0 734.5L612.2 731.3L613.0 731.1L613.8 732.2L614.6 731.1L615.4 731.1L616.2 732.1L617.8 730.4L618.6 732.2L619.4 732.9L620.2 731.2L621.0 733.9L622.6 732.5L623.4 733.9L624.2 733.8L625.0 733.0L625.8 730.4L627.4 732.8L629.0 733.5L631.4 736.8L632.2 734.4L633.0 734.5L633.8 731.3L634.6 732.8L635.4 732.0L636.2 735.2L637.0 736.2L637.8 732.1L638.6 734.6L639.4 734.6L640.2 730.9L641.0 735.1L641.8 732.1L642.6 735.3L643.4 735.4L645.0 734.3L645.8 732.3L646.6 734.2L648.2 732.8L649.0 736.8L650.6 731.5L651.4 735.1L653.0 733.7L654.6 735.6L655.4 733.6L656.2 736.5L657.0 735.8L657.8 733.9L658.6 735.2L659.4 733.3L661.0 735.2L661.8 735.2L663.4 731.2L665.0 734.6L665.8 732.7L666.6 735.6L667.4 734.5L668.2 735.3L669.0 737.8L669.8 734.2L670.6 734.6L671.4 733.0L672.2 733.7L673.0 731.0L673.8 731.4L674.6 733.5L676.2 733.1L677.0 735.2L677.8 732.6L679.4 734.5L680.2 736.5L681.0 735.6L681.8 737.2L682.6 737.5L685.0 730.7L685.8 733.8L686.6 733.4L687.4 732.0L688.2 734.6L689.0 733.8L689.8 734.7L691.4 733.4L692.2 735.5L693.0 732.1L693.8 735.6L694.6 730.4L696.2 733.1L699.4 731.7L700.2 733.9L701.0 734.2L701.8 736.7L702.6 735.5L703.4 736.2L705.0 730.0L705.8 731.9L707.4 732.6L708.2 734.9L709.0 733.5L711.4 735.3L713.0 731.4L713.8 732.3L714.6 731.8L715.4 736.0L716.2 732.6L717.0 733.4L717.8 732.5L718.6 733.6L720.2 733.1L721.0 735.6L721.8 735.6L722.6 737.0L723.4 737.4L724.2 734.8L725.0 737.7L725.8 735.2L726.6 735.0L727.4 737.3L728.2 734.6L729.0 735.0L729.8 734.6L730.6 733.1L731.4 733.0L732.2 734.9L734.6 734.5L735.4 733.1L736.2 733.8L737.0 733.1L738.6 735.5L739.4 733.9L740.2 737.1L741.0 736.7L742.6 732.0L743.4 732.6L745.0 727.9L745.8 730.7L748.2 731.9L749.0 733.8L750.6 734.8L751.4 734.7L753.0 733.4L753.8 735.1L754.6 731.6L755.4 733.6L756.2 731.2L757.0 733.7L757.8 733.6L758.6 735.8L759.4 735.3L760.2 735.5L761.0 733.6L761.8 734.2L764.2 733.6L765.0 732.0L765.8 732.3L768.0 736.0L769.0 733.1L769.8 727.8L770.6 727.9L771.4 726.1L772.2 726.2L772.4 725.1L773.0 725.1L774.6 730.6L775.4 731.1L776.2 737.1L777.0 733.0L778.6 734.9L779.4 733.4L780.2 734.6L781.8 734.8L782.6 736.4L783.4 735.9L784.2 736.1L785.0 733.9L786.6 735.6L788.2 731.2L789.8 736.2L790.6 737.0L791.4 736.3L792.2 739.2L793.0 736.7L793.8 736.0L794.6 734.0L795.4 735.6L796.2 732.8L797.0 732.6L798.6 735.7L799.4 734.3L800.2 734.8L801.0 731.9L802.6 735.6L803.4 730.8L804.2 732.3L805.0 731.5L805.8 733.6L807.4 734.2L808.2 735.7L809.0 733.5L809.8 735.3L810.6 735.5L811.4 734.7L812.2 734.7L813.8 735.7L814.6 734.9L815.4 737.0L816.2 736.6L817.0 734.9L817.8 738.0L819.4 734.2L820.2 734.3L821.0 736.7L821.8 732.7L822.6 737.1L823.4 735.0L824.2 738.0L825.0 733.4L825.8 736.8L827.4 732.8L828.2 734.1L829.0 733.4L829.8 734.4L830.6 733.6L832.2 735.5L833.0 732.2L833.8 732.4L834.6 731.5L835.4 729.1L837.0 731.6L837.8 734.4L838.6 731.8L839.4 734.2L840.2 732.3L841.0 732.6L842.6 737.1L843.4 733.9L845.0 732.4L845.8 734.4L846.6 735.1L847.4 733.4L848.2 733.8L849.0 735.9L850.6 737.3L851.4 736.0L852.2 739.3L853.8 735.0L855.4 736.4L856.2 736.5L857.8 734.9L858.6 735.0L859.4 736.9L860.2 736.2L861.0 737.0L861.8 735.4L863.4 736.4L865.0 733.2L865.8 734.8L866.6 732.7L867.4 735.7L868.2 733.2L869.8 736.9L870.6 736.4L871.4 732.8L872.2 736.7L873.0 735.4L874.6 735.2L876.2 737.1L877.0 735.2L877.8 734.8L878.6 732.6L879.4 733.4L880.2 733.0L881.0 736.4L881.8 734.5L882.6 736.3L884.2 736.3L885.8 731.0L886.6 734.0L888.2 736.3L889.8 733.7L891.4 735.3L893.0 733.8L893.8 734.0L894.6 732.3L895.4 733.9L896.2 733.6L897.0 737.5L897.8 734.4L898.6 734.2L899.4 737.0L900.2 734.5L901.0 733.7L901.8 735.7L903.4 733.7L904.2 735.9L905.0 733.4L905.8 733.9L906.6 733.4L907.4 733.7L908.2 733.1L909.0 734.5L909.8 734.2L910.6 734.8L911.4 734.6L912.2 730.4L913.0 731.1L913.8 730.5L914.6 732.3L915.4 732.3L917.0 735.1L918.6 731.7L920.2 731.4L921.0 735.0L921.8 733.2L922.6 736.0L924.2 734.1L925.0 735.0L925.8 734.9L926.6 733.6L927.4 733.5L928.2 731.8L929.0 731.5L929.8 735.4L930.6 733.8L931.4 735.8L932.2 736.3L933.8 731.8L934.6 735.9L935.4 734.1L936.2 733.5L937.0 735.2L937.8 733.2L938.6 735.4L940.2 731.1L941.0 734.2L941.8 733.5L942.6 733.6L943.4 732.3L944.2 734.2L945.0 731.4L945.8 733.5L946.6 733.4L947.4 731.5L948.2 733.2L949.0 732.1L949.8 732.8L951.4 730.8L953.8 734.9L954.6 732.7L955.4 735.0L956.2 732.1L957.0 734.3L957.8 734.0L958.6 735.9L959.4 733.9L960.2 736.6L961.8 733.7L962.6 734.3L963.4 731.9L964.2 733.2L965.0 733.0L965.8 733.7L966.6 735.5L967.4 735.1L968.2 732.6L969.0 734.2L969.8 732.6L970.6 736.8L971.4 736.8L973.8 734.4L975.4 736.6L976.2 735.7L977.0 736.4L977.8 731.7L978.6 732.2L979.4 734.2L981.0 731.1L983.4 732.4L984.2 735.7L985.8 734.9L986.6 736.6L987.4 732.9L988.2 732.5L989.0 732.9L989.8 731.0L990.6 732.8L991.4 731.5L992.2 733.0L993.0 733.0L993.8 731.6L994.6 731.1L995.4 728.4L997.8 734.2L998.6 732.6L999.4 734.1L1000.2 734.6L1001.0 731.4L1002.6 733.4L1003.4 732.9L1005.0 733.2L1005.8 732.6L1006.6 736.6L1007.4 734.7L1008.2 737.4L1009.8 733.6L1010.6 735.4L1011.4 732.8L1012.2 733.3L1013.0 730.0L1013.8 732.4L1015.4 729.5L1016.2 729.6L1017.0 733.4L1017.8 733.2L1018.6 735.3L1019.4 732.7L1020.2 734.2L1021.0 734.0L1022.6 731.6L1023.4 732.8L1025.8 731.3L1026.6 734.1L1027.4 734.4L1028.2 731.5L1029.0 731.8L1029.8 730.8L1031.4 733.7L1032.2 731.9L1033.0 735.0L1033.8 732.9L1034.6 735.6L1035.4 734.4L1036.2 734.1L1037.0 734.7L1037.8 733.7L1038.6 733.9L1040.2 735.8L1041.8 732.8L1042.6 733.9L1045.0 733.3L1045.8 734.7L1047.4 732.1L1048.2 733.3L1049.0 733.0L1049.8 735.8L1052.2 732.4L1053.0 734.6L1053.8 730.9L1054.6 735.0L1055.4 733.7L1056.2 733.7L1057.8 735.9L1058.6 731.8L1059.4 734.0L1060.2 734.0L1061.0 732.8L1061.8 734.6L1062.6 731.3L1064.2 734.4L1065.8 734.9L1066.6 733.2L1067.4 732.7L1068.2 732.9L1069.0 732.2L1071.4 733.3L1072.2 733.0L1073.0 734.9L1076.2 732.4L1077.0 730.3L1077.8 733.1L1079.4 731.8L1080.2 734.3L1081.0 733.8L1081.8 737.4L1082.6 737.7L1083.4 733.4L1085.0 729.9L1085.8 732.9L1087.4 732.8L1088.2 733.1L1089.0 735.6L1089.8 733.1L1090.6 733.9L1092.2 732.0L1093.0 733.4L1093.8 732.3L1094.6 728.7L1095.4 733.5L1097.0 729.4L1097.8 731.2L1098.6 731.1L1099.4 729.8L1100.2 733.6L1101.8 731.7L1103.4 733.1L1105.0 732.1L1106.6 733.1L1107.4 732.5L1108.2 733.0L1109.0 734.8L1110.6 733.8L1111.4 732.5L1112.2 733.6L1113.8 729.4L1115.4 735.1L1116.2 733.7L1117.8 733.7L1119.4 730.2L1120.0 730.4L1120.2 731.8L1121.8 734.5" fill="none" stroke="#0000ff" stroke-width="7.6" stroke-linejoin="round" stroke-linecap="round"/>
</g>
<g clip-path="url(#cb)">
<use href="#bb" x="43.0" y="1223.1"/><use href="#bb" x="43.7" y="1225.0"/><use href="#bb" x="44.4" y="1217.1"/><use href="#bb" x="45.1" y="1232.4"/><use href="#bb" x="45.8" y="1219.1"/><use href="#bb" x="46.5" y="1223.1"/><use href="#bb" x="47.2" y="1228.7"/><use href="#bb" x="47.9" y="1222.0"/><use href="#bb" x="48.6" y="1223.0"/><use href="#bb" x="49.3" y="1223.8"/><use href="#bb" x="50.0" y="1229.8"/><use href="#bb" x="50.7" y="1236.9"/><use href="#bb" x="51.4" y="1228.2"/><use href="#bb" x="52.1" y="1223.8"/><use href="#bb" x="52.8" y="1230.6"/><use href="#bb" x="53.5" y="1226.4"/><use href="#bb" x="54.2" y="1228.9"/><use href="#bb" x="54.9" y="1233.9"/><use href="#bb" x="55.6" y="1226.6"/><use href="#bb" x="56.3" y="1229.9"/><use href="#bb" x="57.0" y="1226.7"/><use href="#bb" x="57.7" y="1229.8"/><use href="#bb" x="58.4" y="1231.7"/><use href="#bb" x="59.1" y="1227.1"/><use href="#bb" x="59.8" y="1229.9"/><use href="#bb" x="60.5" y="1230.6"/><use href="#bb" x="61.2" y="1229.3"/><use href="#bb" x="61.9" y="1227.5"/><use href="#bb" x="62.6" y="1226.9"/><use href="#bb" x="63.3" y="1232.1"/><use href="#bb" x="64.0" y="1231.9"/><use href="#bb" x="64.7" y="1242.0"/><use href="#bb" x="65.4" y="1224.1"/><use href="#bb" x="66.1" y="1234.3"/><use href="#bb" x="66.8" y="1235.6"/><use href="#bb" x="67.5" y="1239.7"/><use href="#bb" x="68.2" y="1236.7"/><use href="#bb" x="68.9" y="1231.8"/><use href="#bb" x="69.6" y="1235.3"/><use href="#bb" x="70.3" y="1237.7"/><use href="#bb" x="71.0" y="1234.7"/><use href="#bb" x="71.7" y="1239.2"/><use href="#bb" x="72.4" y="1229.3"/><use href="#bb" x="73.1" y="1243.4"/><use href="#bb" x="73.8" y="1242.7"/><use href="#bb" x="74.5" y="1236.1"/><use href="#bb" x="75.2" y="1240.0"/><use href="#bb" x="75.9" y="1238.1"/><use href="#bb" x="76.6" y="1235.0"/><use href="#bb" x="77.3" y="1238.9"/><use href="#bb" x="78.0" y="1242.6"/><use href="#bb" x="78.7" y="1237.6"/><use href="#bb" x="79.4" y="1237.9"/><use href="#bb" x="80.1" y="1239.4"/><use href="#bb" x="80.8" y="1241.6"/><use href="#bb" x="81.5" y="1245.1"/><use href="#bb" x="82.2" y="1238.1"/><use href="#bb" x="82.9" y="1242.7"/><use href="#bb" x="83.6" y="1241.9"/><use href="#bb" x="84.3" y="1234.3"/><use href="#bb" x="85.0" y="1240.0"/><use href="#bb" x="85.7" y="1241.3"/><use href="#bb" x="86.4" y="1242.0"/><use href="#bb" x="87.1" y="1243.6"/><use href="#bb" x="87.8" y="1234.9"/><use href="#bb" x="88.5" y="1243.1"/><use href="#bb" x="89.3" y="1240.6"/><use href="#bb" x="90.0" y="1238.0"/><use href="#bb" x="90.7" y="1245.6"/><use href="#bb" x="91.4" y="1246.6"/><use href="#bb" x="92.1" y="1241.6"/><use href="#bb" x="92.8" y="1247.5"/><use href="#bb" x="93.5" y="1243.0"/><use href="#bb" x="94.2" y="1244.8"/><use href="#bb" x="94.9" y="1240.5"/><use href="#bb" x="95.6" y="1250.5"/><use href="#bb" x="96.3" y="1234.4"/><use href="#bb" x="97.0" y="1243.6"/><use href="#bb" x="97.7" y="1245.9"/><use href="#bb" x="98.4" y="1234.9"/><use href="#bb" x="99.1" y="1240.9"/><use href="#bb" x="99.8" y="1240.5"/><use href="#bb" x="100.5" y="1243.4"/><use href="#bb" x="101.2" y="1245.1"/><use href="#bb" x="101.9" y="1239.7"/><use href="#bb" x="102.6" y="1237.3"/><use href="#bb" x="103.3" y="1248.9"/><use href="#bb" x="104.0" y="1249.8"/><use href="#bb" x="104.7" y="1244.8"/><use href="#bb" x="105.4" y="1248.8"/><use href="#bb" x="106.1" y="1249.8"/><use href="#bb" x="106.8" y="1251.1"/><use href="#bb" x="107.5" y="1250.3"/><use href="#bb" x="108.2" y="1255.2"/><use href="#bb" x="108.9" y="1243.9"/><use href="#bb" x="109.6" y="1254.5"/><use href="#bb" x="110.3" y="1252.4"/><use href="#bb" x="111.0" y="1250.5"/><use href="#bb" x="111.7" y="1255.8"/><use href="#bb" x="112.4" y="1243.2"/><use href="#bb" x="113.1" y="1256.2"/><use href="#bb" x="113.8" y="1253.6"/><use href="#bb" x="114.5" y="1248.2"/><use href="#bb" x="115.2" y="1254.0"/><use href="#bb" x="115.9" y="1251.3"/><use href="#bb" x="116.6" y="1261.7"/><use href="#bb" x="117.3" y="1258.7"/><use href="#bb" x="118.0" y="1253.0"/><use href="#bb" x="118.7" y="1248.0"/><use href="#bb" x="119.4" y="1247.4"/><use href="#bb" x="120.1" y="1247.2"/><use href="#bb" x="120.8" y="1245.3"/><use href="#bb" x="121.5" y="1243.4"/><use href="#bb" x="122.2" y="1244.6"/><use href="#bb" x="122.9" y="1246.6"/><use href="#bb" x="123.6" y="1247.2"/><use href="#bb" x="124.3" y="1248.2"/><use href="#bb" x="125.0" y="1248.9"/><use href="#bb" x="125.7" y="1262.9"/><use href="#bb" x="126.4" y="1249.6"/><use href="#bb" x="127.1" y="1252.1"/><use href="#bb" x="127.8" y="1258.1"/><use href="#bb" x="128.5" y="1256.0"/><use href="#bb" x="129.2" y="1259.1"/><use href="#bb" x="129.9" y="1260.8"/><use href="#bb" x="130.6" y="1262.8"/><use href="#bb" x="131.3" y="1261.3"/><use href="#bb" x="132.0" y="1255.3"/><use href="#bb" x="132.7" y="1263.1"/><use href="#bb" x="133.4" y="1253.0"/><use href="#bb" x="134.0" y="1259.1"/><use href="#bb" x="134.1" y="1257.8"/><use href="#bb" x="134.7" y="1256.0"/><use href="#bb" x="135.4" y="1262.1"/><use href="#bb" x="136.1" y="1259.6"/><use href="#bb" x="136.8" y="1264.0"/><use href="#bb" x="137.5" y="1255.3"/><use href="#bb" x="138.2" y="1263.8"/><use href="#bb" x="138.9" y="1262.7"/><use href="#bb" x="139.6" y="1261.6"/><use href="#bb" x="140.3" y="1256.3"/><use href="#bb" x="141.0" y="1260.6"/><use href="#bb" x="141.7" y="1256.1"/><use href="#bb" x="142.4" y="1254.4"/><use href="#bb" x="143.1" y="1273.5"/><use href="#bb" x="143.8" y="1265.4"/><use href="#bb" x="144.5" y="1268.4"/><use href="#bb" x="145.2" y="1260.7"/><use href="#bb" x="145.9" y="1264.7"/><use href="#bb" x="146.6" y="1264.8"/><use href="#bb" x="147.3" y="1264.4"/><use href="#bb" x="148.0" y="1262.4"/><use href="#bb" x="148.7" y="1261.5"/><use href="#bb" x="149.4" y="1255.0"/><use href="#bb" x="150.1" y="1264.4"/><use href="#bb" x="150.8" y="1263.6"/><use href="#bb" x="151.5" y="1265.8"/><use href="#bb" x="152.2" y="1260.8"/><use href="#bb" x="152.9" y="1267.5"/><use href="#bb" x="153.6" y="1259.6"/><use href="#bb" x="154.3" y="1256.3"/><use href="#bb" x="155.0" y="1263.4"/><use href="#bb" x="155.8" y="1257.8"/><use href="#bb" x="156.5" y="1254.2"/><use href="#bb" x="157.2" y="1257.9"/><use href="#bb" x="157.9" y="1258.7"/><use href="#bb" x="158.6" y="1255.2"/><use href="#bb" x="159.3" y="1253.8"/><use href="#bb" x="160.0" y="1263.1"/><use href="#bb" x="160.7" y="1247.6"/><use href="#bb" x="161.4" y="1243.3"/><use href="#bb" x="162.1" y="1220.6"/><use href="#bb" x="162.8" y="1210.8"/><use href="#bb" x="163.5" y="1184.1"/><use href="#bb" x="164.2" y="1138.4"/><use href="#bb" x="164.9" y="1079.6"/><use href="#bb" x="165.6" y="1014.6"/><use href="#bb" x="166.3" y="940.6"/><use href="#bb" x="167.0" y="886.0"/><use href="#bb" x="167.7" y="880.4"/><use href="#bb" x="168.4" y="918.3"/><use href="#bb" x="169.1" y="981.8"/><use href="#bb" x="169.8" y="1051.8"/><use href="#bb" x="170.5" y="1118.8"/><use href="#bb" x="171.2" y="1169.1"/><use href="#bb" x="171.9" y="1202.9"/><use href="#bb" x="172.6" y="1218.5"/><use href="#bb" x="173.3" y="1236.1"/><use href="#bb" x="174.0" y="1247.1"/><use href="#bb" x="174.7" y="1253.6"/><use href="#bb" x="175.4" y="1258.6"/><use href="#bb" x="176.1" y="1260.9"/><use href="#bb" x="176.8" y="1257.1"/><use href="#bb" x="177.5" y="1260.4"/><use href="#bb" x="178.2" y="1260.4"/><use href="#bb" x="178.9" y="1271.5"/><use href="#bb" x="179.5" y="1267.3"/><use href="#bb" x="179.6" y="1268.6"/><use href="#bb" x="180.2" y="1271.1"/><use href="#bb" x="180.9" y="1267.7"/><use href="#bb" x="181.6" y="1265.9"/><use href="#bb" x="182.3" y="1268.9"/><use href="#bb" x="183.0" y="1270.5"/><use href="#bb" x="183.7" y="1276.3"/><use href="#bb" x="184.4" y="1274.9"/><use href="#bb" x="185.1" y="1269.2"/><use href="#bb" x="185.8" y="1275.2"/><use href="#bb" x="186.5" y="1275.9"/><use href="#bb" x="187.2" y="1270.7"/><use href="#bb" x="187.9" y="1274.1"/><use href="#bb" x="188.6" y="1269.0"/><use href="#bb" x="189.3" y="1276.2"/><use href="#bb" x="190.0" y="1274.5"/><use href="#bb" x="190.7" y="1271.7"/><use href="#bb" x="191.4" y="1274.0"/><use href="#bb" x="192.1" y="1277.2"/><use href="#bb" x="192.8" y="1275.1"/><use href="#bb" x="193.5" y="1278.0"/><use href="#bb" x="194.2" y="1279.1"/><use href="#bb" x="194.9" y="1275.1"/><use href="#bb" x="195.6" y="1277.0"/><use href="#bb" x="196.3" y="1284.7"/><use href="#bb" x="197.0" y="1278.8"/><use href="#bb" x="197.7" y="1276.1"/><use href="#bb" x="198.4" y="1279.1"/><use href="#bb" x="199.1" y="1275.2"/><use href="#bb" x="199.8" y="1282.8"/><use href="#bb" x="200.5" y="1280.8"/><use href="#bb" x="201.2" y="1283.1"/><use href="#bb" x="201.9" y="1282.8"/><use href="#bb" x="202.6" y="1281.5"/><use href="#bb" x="203.3" y="1283.5"/><use href="#bb" x="204.0" y="1281.3"/><use href="#bb" x="204.7" y="1279.0"/><use href="#bb" x="205.4" y="1278.2"/><use href="#bb" x="206.1" y="1280.1"/><use href="#bb" x="206.8" y="1274.2"/><use href="#bb" x="207.5" y="1287.1"/><use href="#bb" x="208.2" y="1276.9"/><use href="#bb" x="208.9" y="1281.9"/><use href="#bb" x="209.6" y="1278.4"/><use href="#bb" x="210.3" y="1276.6"/><use href="#bb" x="211.0" y="1282.3"/><use href="#bb" x="211.8" y="1281.8"/><use href="#bb" x="212.5" y="1282.4"/><use href="#bb" x="213.2" y="1284.5"/><use href="#bb" x="213.9" y="1281.2"/><use href="#bb" x="214.6" y="1284.0"/><use href="#bb" x="215.3" y="1284.4"/><use href="#bb" x="216.0" y="1281.9"/><use href="#bb" x="216.7" y="1281.9"/><use href="#bb" x="217.4" y="1283.8"/><use href="#bb" x="218.1" y="1281.9"/><use href="#bb" x="218.8" y="1281.0"/><use href="#bb" x="219.5" y="1271.5"/><use href="#bb" x="220.2" y="1274.0"/><use href="#bb" x="220.9" y="1267.6"/><use href="#bb" x="221.6" y="1255.4"/><use href="#bb" x="222.3" y="1243.7"/><use href="#bb" x="223.0" y="1237.0"/><use href="#bb" x="223.7" y="1229.6"/><use href="#bb" x="224.4" y="1239.4"/><use href="#bb" x="225.1" y="1248.5"/><use href="#bb" x="225.8" y="1260.9"/><use href="#bb" x="226.5" y="1271.3"/><use href="#bb" x="227.2" y="1275.8"/><use href="#bb" x="227.9" y="1282.0"/><use href="#bb" x="228.6" y="1281.5"/><use href="#bb" x="229.3" y="1284.8"/><use href="#bb" x="230.0" y="1282.2"/><use href="#bb" x="230.7" y="1282.3"/><use href="#bb" x="231.4" y="1285.5"/><use href="#bb" x="232.1" y="1284.9"/><use href="#bb" x="232.8" y="1286.4"/><use href="#bb" x="233.5" y="1286.8"/><use href="#bb" x="234.2" y="1287.9"/><use href="#bb" x="234.9" y="1291.9"/><use href="#bb" x="235.5" y="1293.0"/><use href="#bb" x="235.6" y="1291.3"/><use href="#bb" x="236.2" y="1288.7"/><use href="#bb" x="236.9" y="1293.8"/><use href="#bb" x="237.6" y="1286.1"/><use href="#bb" x="238.3" y="1285.0"/><use href="#bb" x="239.0" y="1291.3"/><use href="#bb" x="239.7" y="1290.8"/><use href="#bb" x="240.4" y="1290.6"/><use href="#bb" x="241.1" y="1291.3"/><use href="#bb" x="241.8" y="1287.2"/><use href="#bb" x="242.5" y="1288.7"/><use href="#bb" x="243.2" y="1295.0"/><use href="#bb" x="243.9" y="1294.7"/><use href="#bb" x="244.6" y="1290.4"/><use href="#bb" x="245.3" y="1297.4"/><use href="#bb" x="246.0" y="1289.9"/><use href="#bb" x="246.7" y="1291.4"/><use href="#bb" x="247.4" y="1293.8"/><use href="#bb" x="248.1" y="1290.2"/><use href="#bb" x="248.8" y="1292.2"/><use href="#bb" x="249.5" y="1293.2"/><use href="#bb" x="250.2" y="1292.8"/><use href="#bb" x="250.9" y="1296.2"/><use href="#bb" x="251.6" y="1295.7"/><use href="#bb" x="252.3" y="1291.7"/><use href="#bb" x="253.0" y="1292.9"/><use href="#bb" x="253.7" y="1295.2"/><use href="#bb" x="254.4" y="1294.8"/><use href="#bb" x="255.1" y="1293.2"/><use href="#bb" x="255.8" y="1296.4"/><use href="#bb" x="256.5" y="1297.5"/><use href="#bb" x="257.2" y="1294.1"/><use href="#bb" x="257.9" y="1297.8"/><use href="#bb" x="258.6" y="1292.1"/><use href="#bb" x="259.3" y="1292.3"/><use href="#bb" x="260.0" y="1297.6"/><use href="#bb" x="260.7" y="1294.5"/><use href="#bb" x="261.4" y="1294.3"/><use href="#bb" x="262.1" y="1296.3"/><use href="#bb" x="262.8" y="1295.5"/><use href="#bb" x="263.5" y="1298.0"/><use href="#bb" x="264.2" y="1293.9"/><use href="#bb" x="264.9" y="1296.7"/><use href="#bb" x="265.6" y="1305.3"/><use href="#bb" x="266.3" y="1298.2"/><use href="#bb" x="267.0" y="1293.5"/><use href="#bb" x="267.7" y="1299.7"/><use href="#bb" x="268.4" y="1299.7"/><use href="#bb" x="269.1" y="1301.8"/><use href="#bb" x="269.8" y="1299.1"/><use href="#bb" x="270.5" y="1297.3"/><use href="#bb" x="271.2" y="1302.4"/><use href="#bb" x="271.9" y="1300.9"/><use href="#bb" x="272.6" y="1295.1"/><use href="#bb" x="273.3" y="1301.2"/><use href="#bb" x="274.0" y="1299.1"/><use href="#bb" x="274.7" y="1302.3"/><use href="#bb" x="275.4" y="1299.0"/><use href="#bb" x="276.1" y="1301.9"/><use href="#bb" x="276.8" y="1300.6"/><use href="#bb" x="277.5" y="1301.6"/><use href="#bb" x="278.2" y="1300.4"/><use href="#bb" x="278.9" y="1299.6"/><use href="#bb" x="279.6" y="1300.8"/><use href="#bb" x="280.3" y="1302.2"/><use href="#bb" x="281.0" y="1301.8"/><use href="#bb" x="281.9" y="1304.6"/><use href="#bb" x="282.6" y="1302.0"/><use href="#bb" x="283.3" y="1302.6"/><use href="#bb" x="284.0" y="1305.9"/><use href="#bb" x="284.7" y="1301.4"/><use href="#bb" x="285.4" y="1302.4"/><use href="#bb" x="286.1" y="1299.8"/><use href="#bb" x="286.8" y="1301.2"/><use href="#bb" x="287.5" y="1304.5"/><use href="#bb" x="288.2" y="1301.1"/><use href="#bb" x="288.9" y="1302.8"/><use href="#bb" x="289.6" y="1295.9"/><use href="#bb" x="290.3" y="1293.1"/><use href="#bb" x="291.0" y="1294.0"/><use href="#bb" x="291.7" y="1286.9"/><use href="#bb" x="292.4" y="1292.2"/><use href="#bb" x="293.1" y="1286.4"/><use href="#bb" x="293.8" y="1280.4"/><use href="#bb" x="294.5" y="1284.8"/><use href="#bb" x="295.2" y="1287.5"/><use href="#bb" x="295.9" y="1293.5"/><use href="#bb" x="296.6" y="1295.9"/><use href="#bb" x="297.3" y="1300.7"/><use href="#bb" x="298.0" y="1303.7"/><use href="#bb" x="298.7" y="1301.3"/><use href="#bb" x="299.4" y="1300.1"/><use href="#bb" x="300.1" y="1304.4"/><use href="#bb" x="300.8" y="1303.2"/><use href="#bb" x="301.5" y="1306.3"/><use href="#bb" x="302.2" y="1303.7"/><use href="#bb" x="302.9" y="1306.0"/><use href="#bb" x="303.6" y="1305.2"/><use href="#bb" x="304.3" y="1304.2"/><use href="#bb" x="305.0" y="1303.8"/><use href="#bb" x="305.7" y="1306.4"/><use href="#bb" x="306.2" y="1310.3"/><use href="#bb" x="306.9" y="1306.9"/><use href="#bb" x="307.6" y="1305.0"/><use href="#bb" x="308.3" y="1306.9"/><use href="#bb" x="309.0" y="1305.7"/><use href="#bb" x="309.7" y="1302.9"/><use href="#bb" x="310.4" y="1306.3"/><use href="#bb" x="311.1" y="1309.0"/><use href="#bb" x="311.8" y="1305.2"/><use href="#bb" x="312.5" y="1303.6"/><use href="#bb" x="313.2" y="1307.0"/><use href="#bb" x="313.9" y="1309.8"/><use href="#bb" x="314.6" y="1308.1"/><use href="#bb" x="315.3" y="1308.3"/><use href="#bb" x="316.0" y="1310.9"/><use href="#bb" x="316.7" y="1309.6"/><use href="#bb" x="317.4" y="1307.8"/><use href="#bb" x="318.1" y="1305.9"/><use href="#bb" x="318.8" y="1306.7"/><use href="#bb" x="319.5" y="1306.2"/><use href="#bb" x="320.2" y="1308.1"/><use href="#bb" x="320.9" y="1304.7"/><use href="#bb" x="321.7" y="1309.5"/><use href="#bb" x="322.4" y="1306.6"/><use href="#bb" x="323.1" y="1305.5"/><use href="#bb" x="323.8" y="1307.8"/><use href="#bb" x="324.5" y="1302.0"/><use href="#bb" x="325.2" y="1304.2"/><use href="#bb" x="325.9" y="1304.3"/><use href="#bb" x="326.6" y="1306.8"/><use href="#bb" x="327.3" y="1303.6"/><use href="#bb" x="328.0" y="1306.3"/><use href="#bb" x="328.7" y="1300.8"/><use href="#bb" x="329.4" y="1299.8"/><use href="#bb" x="330.1" y="1293.2"/><use href="#bb" x="330.8" y="1290.9"/><use href="#bb" x="331.5" y="1281.1"/><use href="#bb" x="332.2" y="1275.2"/><use href="#bb" x="332.9" y="1267.7"/><use href="#bb" x="333.6" y="1265.4"/><use href="#bb" x="334.3" y="1270.9"/><use href="#bb" x="335.0" y="1280.4"/><use href="#bb" x="335.7" y="1283.8"/><use href="#bb" x="336.4" y="1289.4"/><use href="#bb" x="337.1" y="1296.8"/><use href="#bb" x="337.8" y="1302.4"/><use href="#bb" x="338.5" y="1301.2"/><use href="#bb" x="339.2" y="1303.6"/><use href="#bb" x="339.9" y="1305.8"/><use href="#bb" x="340.6" y="1305.4"/><use href="#bb" x="341.3" y="1306.9"/><use href="#bb" x="342.0" y="1308.9"/><use href="#bb" x="342.7" y="1306.9"/><use href="#bb" x="343.4" y="1306.8"/><use href="#bb" x="344.1" y="1308.5"/><use href="#bb" x="344.8" y="1307.0"/><use href="#bb" x="345.4" y="1305.4"/><use href="#bb" x="345.5" y="1305.3"/><use href="#bb" x="346.1" y="1305.1"/><use href="#bb" x="346.8" y="1310.6"/><use href="#bb" x="347.5" y="1306.9"/><use href="#bb" x="348.2" y="1308.0"/><use href="#bb" x="348.9" y="1308.1"/><use href="#bb" x="349.6" y="1305.0"/><use href="#bb" x="350.3" y="1307.6"/><use href="#bb" x="351.0" y="1305.2"/><use href="#bb" x="351.7" y="1302.3"/><use href="#bb" x="352.4" y="1305.3"/><use href="#bb" x="353.1" y="1303.4"/><use href="#bb" x="353.8" y="1304.4"/><use href="#bb" x="354.5" y="1305.2"/><use href="#bb" x="355.2" y="1308.1"/><use href="#bb" x="355.9" y="1302.5"/><use href="#bb" x="356.6" y="1302.5"/><use href="#bb" x="357.3" y="1302.6"/><use href="#bb" x="358.0" y="1301.4"/><use href="#bb" x="358.7" y="1299.7"/><use href="#bb" x="359.4" y="1296.9"/><use href="#bb" x="360.1" y="1295.7"/><use href="#bb" x="360.6" y="1295.9"/><use href="#bb" x="361.3" y="1292.2"/><use href="#bb" x="362.0" y="1290.7"/><use href="#bb" x="362.7" y="1286.6"/><use href="#bb" x="363.4" y="1286.9"/><use href="#bb" x="364.1" y="1276.8"/><use href="#bb" x="364.8" y="1275.1"/><use href="#bb" x="365.5" y="1259.5"/><use href="#bb" x="366.2" y="1242.4"/><use href="#bb" x="366.9" y="1219.1"/><use href="#bb" x="367.6" y="1190.9"/><use href="#bb" x="368.3" y="1149.8"/><use href="#bb" x="369.0" y="1095.2"/><use href="#bb" x="369.7" y="1038.0"/><use href="#bb" x="370.4" y="974.9"/><use href="#bb" x="371.1" y="918.2"/><use href="#bb" x="371.8" y="880.7"/><use href="#bb" x="372.3" y="872.3"/><use href="#bb" x="373.0" y="883.1"/><use href="#bb" x="373.7" y="925.4"/><use href="#bb" x="374.4" y="987.2"/><use href="#bb" x="375.1" y="1047.2"/><use href="#bb" x="375.8" y="1104.0"/><use href="#bb" x="376.5" y="1146.2"/><use href="#bb" x="377.2" y="1182.9"/><use href="#bb" x="377.9" y="1211.4"/><use href="#bb" x="378.6" y="1219.3"/><use href="#bb" x="379.3" y="1223.6"/><use href="#bb" x="380.0" y="1210.6"/><use href="#bb" x="380.7" y="1187.0"/><use href="#bb" x="381.4" y="1147.8"/><use href="#bb" x="382.1" y="1104.1"/><use href="#bb" x="382.8" y="1048.2"/><use href="#bb" x="383.5" y="1011.6"/><use href="#bb" x="384.2" y="1005.4"/><use href="#bb" x="384.9" y="1038.2"/><use href="#bb" x="385.6" y="1087.7"/><use href="#bb" x="386.3" y="1143.5"/><use href="#bb" x="387.0" y="1190.7"/><use href="#bb" x="387.7" y="1228.6"/><use href="#bb" x="388.4" y="1255.4"/><use href="#bb" x="389.1" y="1274.5"/><use href="#bb" x="389.8" y="1283.2"/><use href="#bb" x="390.5" y="1287.2"/><use href="#bb" x="391.2" y="1296.2"/><use href="#bb" x="391.9" y="1297.7"/><use href="#bb" x="392.6" y="1298.2"/><use href="#bb" x="393.3" y="1301.8"/><use href="#bb" x="394.0" y="1302.1"/><use href="#bb" x="394.7" y="1308.6"/><use href="#bb" x="395.4" y="1305.7"/><use href="#bb" x="396.1" y="1304.0"/><use href="#bb" x="396.5" y="1308.4"/><use href="#bb" x="397.2" y="1307.3"/><use href="#bb" x="397.9" y="1311.6"/><use href="#bb" x="398.6" y="1310.3"/><use href="#bb" x="399.3" y="1307.7"/><use href="#bb" x="400.0" y="1310.3"/><use href="#bb" x="400.7" y="1309.8"/><use href="#bb" x="401.4" y="1310.8"/><use href="#bb" x="402.1" y="1311.4"/><use href="#bb" x="402.8" y="1309.5"/><use href="#bb" x="403.5" y="1313.4"/><use href="#bb" x="404.2" y="1312.0"/><use href="#bb" x="404.9" y="1312.2"/><use href="#bb" x="405.6" y="1315.2"/><use href="#bb" x="406.3" y="1317.3"/><use href="#bb" x="407.0" y="1313.3"/><use href="#bb" x="407.7" y="1317.5"/><use href="#bb" x="408.4" y="1311.3"/><use href="#bb" x="409.1" y="1315.8"/><use href="#bb" x="409.8" y="1314.0"/><use href="#bb" x="410.3" y="1314.9"/><use href="#bb" x="411.0" y="1313.5"/><use href="#bb" x="411.7" y="1314.2"/><use href="#bb" x="412.4" y="1314.8"/><use href="#bb" x="413.1" y="1314.7"/><use href="#bb" x="413.8" y="1316.0"/><use href="#bb" x="414.5" y="1319.0"/><use href="#bb" x="415.2" y="1314.0"/><use href="#bb" x="415.9" y="1314.5"/><use href="#bb" x="416.6" y="1311.5"/><use href="#bb" x="417.3" y="1309.5"/><use href="#bb" x="418.0" y="1314.9"/><use href="#bb" x="418.7" y="1309.1"/><use href="#bb" x="419.4" y="1308.4"/><use href="#bb" x="420.1" y="1307.8"/><use href="#bb" x="420.8" y="1307.6"/><use href="#bb" x="421.5" y="1305.4"/><use href="#bb" x="422.2" y="1307.7"/><use href="#bb" x="422.9" y="1305.2"/><use href="#bb" x="423.6" y="1304.0"/><use href="#bb" x="424.3" y="1309.0"/><use href="#bb" x="425.0" y="1310.7"/><use href="#bb" x="425.7" y="1310.7"/><use href="#bb" x="426.4" y="1312.6"/><use href="#bb" x="427.1" y="1313.0"/><use href="#bb" x="427.8" y="1317.3"/><use href="#bb" x="428.5" y="1313.8"/><use href="#bb" x="429.2" y="1312.8"/><use href="#bb" x="429.9" y="1315.5"/><use href="#bb" x="430.6" y="1312.1"/><use href="#bb" x="431.3" y="1315.6"/><use href="#bb" x="432.0" y="1315.4"/><use href="#bb" x="432.7" y="1313.2"/><use href="#bb" x="433.4" y="1313.5"/><use href="#bb" x="434.1" y="1313.2"/><use href="#bb" x="434.3" y="1316.6"/><use href="#bb" x="435.0" y="1314.3"/><use href="#bb" x="435.7" y="1311.4"/><use href="#bb" x="436.4" y="1310.9"/><use href="#bb" x="437.1" y="1312.3"/><use href="#bb" x="437.8" y="1311.8"/><use href="#bb" x="438.5" y="1310.0"/><use href="#bb" x="439.2" y="1310.9"/><use href="#bb" x="439.9" y="1309.3"/><use href="#bb" x="440.6" y="1310.4"/><use href="#bb" x="441.3" y="1308.3"/><use href="#bb" x="442.0" y="1306.1"/><use href="#bb" x="442.7" y="1304.9"/><use href="#bb" x="443.4" y="1301.4"/><use href="#bb" x="443.8" y="1303.0"/><use href="#bb" x="444.5" y="1299.5"/><use href="#bb" x="445.2" y="1294.8"/><use href="#bb" x="445.9" y="1291.0"/><use href="#bb" x="446.6" y="1283.8"/><use href="#bb" x="447.3" y="1280.0"/><use href="#bb" x="448.0" y="1264.0"/><use href="#bb" x="448.7" y="1250.2"/><use href="#bb" x="449.4" y="1230.0"/><use href="#bb" x="450.1" y="1202.9"/><use href="#bb" x="450.8" y="1173.2"/><use href="#bb" x="451.5" y="1136.5"/><use href="#bb" x="452.2" y="1096.8"/><use href="#bb" x="452.9" y="1054.1"/><use href="#bb" x="453.6" y="1013.7"/><use href="#bb" x="454.3" y="979.1"/><use href="#bb" x="455.0" y="955.4"/><use href="#bb" x="455.7" y="950.9"/><use href="#bb" x="456.4" y="965.2"/><use href="#bb" x="457.1" y="994.4"/><use href="#bb" x="457.8" y="1032.1"/><use href="#bb" x="458.5" y="1078.3"/><use href="#bb" x="459.2" y="1119.2"/><use href="#bb" x="459.9" y="1157.6"/><use href="#bb" x="460.6" y="1188.9"/><use href="#bb" x="461.3" y="1217.0"/><use href="#bb" x="462.0" y="1237.9"/><use href="#bb" x="462.7" y="1259.0"/><use href="#bb" x="463.4" y="1273.4"/><use href="#bb" x="464.1" y="1283.2"/><use href="#bb" x="464.8" y="1289.4"/><use href="#bb" x="465.5" y="1293.3"/><use href="#bb" x="466.2" y="1298.9"/><use href="#bb" x="466.9" y="1302.0"/><use href="#bb" x="467.6" y="1305.6"/><use href="#bb" x="467.9" y="1306.6"/><use href="#bb" x="468.6" y="1306.9"/><use href="#bb" x="469.3" y="1308.7"/><use href="#bb" x="470.0" y="1311.2"/><use href="#bb" x="470.7" y="1312.0"/><use href="#bb" x="471.4" y="1312.0"/><use href="#bb" x="472.1" y="1310.0"/><use href="#bb" x="472.8" y="1313.0"/><use href="#bb" x="473.5" y="1316.0"/><use href="#bb" x="474.2" y="1315.6"/><use href="#bb" x="474.9" y="1317.4"/><use href="#bb" x="475.6" y="1316.0"/><use href="#bb" x="476.3" y="1317.1"/><use href="#bb" x="477.0" y="1318.6"/><use href="#bb" x="477.7" y="1318.9"/><use href="#bb" x="478.4" y="1318.8"/><use href="#bb" x="479.1" y="1320.2"/><use href="#bb" x="479.8" y="1320.9"/><use href="#bb" x="480.5" y="1321.2"/><use href="#bb" x="481.2" y="1317.0"/><use href="#bb" x="481.9" y="1319.0"/><use href="#bb" x="482.6" y="1319.5"/><use href="#bb" x="483.3" y="1319.7"/><use href="#bb" x="484.0" y="1318.0"/><use href="#bb" x="484.7" y="1322.5"/><use href="#bb" x="485.4" y="1319.3"/><use href="#bb" x="486.1" y="1321.1"/><use href="#bb" x="486.8" y="1317.6"/><use href="#bb" x="487.5" y="1320.6"/><use href="#bb" x="488.2" y="1321.1"/><use href="#bb" x="488.9" y="1320.2"/><use href="#bb" x="489.6" y="1322.8"/><use href="#bb" x="490.3" y="1325.3"/><use href="#bb" x="491.0" y="1320.7"/><use href="#bb" x="491.7" y="1320.9"/><use href="#bb" x="492.4" y="1324.8"/><use href="#bb" x="493.1" y="1323.1"/><use href="#bb" x="493.8" y="1322.0"/><use href="#bb" x="494.5" y="1320.7"/><use href="#bb" x="495.2" y="1323.7"/><use href="#bb" x="495.9" y="1323.0"/><use href="#bb" x="496.6" y="1325.1"/><use href="#bb" x="497.3" y="1321.7"/><use href="#bb" x="498.0" y="1322.8"/><use href="#bb" x="498.7" y="1322.6"/><use href="#bb" x="499.4" y="1322.8"/><use href="#bb" x="500.1" y="1324.7"/><use href="#bb" x="500.8" y="1324.5"/><use href="#bb" x="501.5" y="1322.4"/><use href="#bb" x="502.2" y="1323.3"/><use href="#bb" x="502.9" y="1323.1"/><use href="#bb" x="503.6" y="1324.8"/><use href="#bb" x="504.3" y="1323.3"/><use href="#bb" x="505.0" y="1322.1"/><use href="#bb" x="505.7" y="1323.2"/><use href="#bb" x="506.4" y="1323.7"/><use href="#bb" x="507.1" y="1325.1"/><use href="#bb" x="507.8" y="1325.6"/><use href="#bb" x="508.5" y="1325.7"/><use href="#bb" x="509.2" y="1324.4"/><use href="#bb" x="509.9" y="1323.2"/><use href="#bb" x="510.6" y="1324.8"/><use href="#bb" x="511.3" y="1323.7"/><use href="#bb" x="512.0" y="1323.1"/><use href="#bb" x="512.7" y="1324.4"/><use href="#bb" x="513.4" y="1324.6"/><use href="#bb" x="514.1" y="1325.3"/><use href="#bb" x="514.8" y="1322.9"/><use href="#bb" x="515.5" y="1321.8"/><use href="#bb" x="516.2" y="1324.8"/><use href="#bb" x="516.9" y="1322.8"/><use href="#bb" x="517.6" y="1325.6"/><use href="#bb" x="518.3" y="1322.7"/><use href="#bb" x="519.0" y="1323.4"/><use href="#bb" x="519.7" y="1321.7"/><use href="#bb" x="520.4" y="1327.1"/><use href="#bb" x="521.1" y="1323.6"/><use href="#bb" x="521.8" y="1324.2"/><use href="#bb" x="522.5" y="1323.6"/><use href="#bb" x="523.2" y="1324.0"/><use href="#bb" x="523.9" y="1325.4"/><use href="#bb" x="524.6" y="1324.5"/><use href="#bb" x="525.3" y="1324.3"/><use href="#bb" x="526.0" y="1326.0"/><use href="#bb" x="526.7" y="1322.5"/><use href="#bb" x="527.4" y="1325.9"/><use href="#bb" x="528.1" y="1326.5"/><use href="#bb" x="528.8" y="1322.5"/><use href="#bb" x="529.5" y="1324.7"/><use href="#bb" x="530.2" y="1322.7"/><use href="#bb" x="530.9" y="1321.6"/><use href="#bb" x="531.6" y="1323.3"/><use href="#bb" x="532.3" y="1325.1"/><use href="#bb" x="533.0" y="1325.4"/><use href="#bb" x="533.7" y="1323.9"/><use href="#bb" x="534.4" y="1323.3"/><use href="#bb" x="535.1" y="1323.9"/><use href="#bb" x="535.8" y="1323.5"/><use href="#bb" x="536.5" y="1323.6"/><use href="#bb" x="537.2" y="1321.3"/><use href="#bb" x="537.9" y="1324.2"/><use href="#bb" x="538.6" y="1324.3"/><use href="#bb" x="539.3" y="1327.4"/><use href="#bb" x="540.0" y="1325.4"/><use href="#bb" x="540.7" y="1324.3"/><use href="#bb" x="541.4" y="1324.6"/><use href="#bb" x="542.1" y="1324.9"/><use href="#bb" x="542.8" y="1323.6"/><use href="#bb" x="543.5" y="1321.8"/><use href="#bb" x="544.2" y="1323.5"/><use href="#bb" x="544.9" y="1324.2"/><use href="#bb" x="545.6" y="1324.6"/><use href="#bb" x="546.3" y="1323.6"/><use href="#bb" x="547.0" y="1323.3"/><use href="#bb" x="547.7" y="1324.1"/><use href="#bb" x="548.4" y="1324.5"/><use href="#bb" x="549.1" y="1325.2"/><use href="#bb" x="549.8" y="1324.1"/><use href="#bb" x="550.5" y="1325.0"/><use href="#bb" x="551.2" y="1323.1"/><use href="#bb" x="551.9" y="1325.4"/><use href="#bb" x="552.6" y="1324.3"/><use href="#bb" x="553.3" y="1322.5"/><use href="#bb" x="554.0" y="1323.9"/><use href="#bb" x="554.7" y="1324.3"/><use href="#bb" x="555.3" y="1322.8"/><use href="#bb" x="556.0" y="1325.0"/><use href="#bb" x="556.7" y="1323.5"/><use href="#bb" x="557.4" y="1324.4"/><use href="#bb" x="558.1" y="1322.4"/><use href="#bb" x="558.8" y="1323.9"/><use href="#bb" x="559.5" y="1324.2"/><use href="#bb" x="560.2" y="1322.3"/><use href="#bb" x="560.9" y="1322.1"/><use href="#bb" x="561.6" y="1320.8"/><use href="#bb" x="562.3" y="1320.5"/><use href="#bb" x="563.0" y="1317.9"/><use href="#bb" x="563.7" y="1315.2"/><use href="#bb" x="564.4" y="1310.1"/><use href="#bb" x="565.1" y="1303.1"/><use href="#bb" x="565.8" y="1297.4"/><use href="#bb" x="566.5" y="1294.3"/><use href="#bb" x="567.2" y="1294.6"/><use href="#bb" x="567.9" y="1299.7"/><use href="#bb" x="568.6" y="1303.1"/><use href="#bb" x="569.3" y="1306.9"/><use href="#bb" x="570.0" y="1310.0"/><use href="#bb" x="570.7" y="1317.0"/><use href="#bb" x="571.4" y="1319.0"/><use href="#bb" x="572.1" y="1319.1"/><use href="#bb" x="572.8" y="1322.8"/><use href="#bb" x="573.5" y="1322.3"/><use href="#bb" x="574.2" y="1322.1"/><use href="#bb" x="574.9" y="1320.4"/><use href="#bb" x="575.3" y="1324.1"/><use href="#bb" x="576.0" y="1323.0"/><use href="#bb" x="576.7" y="1322.6"/><use href="#bb" x="577.4" y="1321.6"/><use href="#bb" x="578.1" y="1322.3"/><use href="#bb" x="578.8" y="1324.1"/><use href="#bb" x="579.5" y="1322.9"/><use href="#bb" x="580.2" y="1324.3"/><use href="#bb" x="580.9" y="1322.4"/><use href="#bb" x="581.6" y="1320.5"/><use href="#bb" x="582.3" y="1319.3"/><use href="#bb" x="583.0" y="1315.1"/><use href="#bb" x="583.7" y="1307.8"/><use href="#bb" x="584.4" y="1301.0"/><use href="#bb" x="585.1" y="1291.9"/><use href="#bb" x="585.8" y="1278.9"/><use href="#bb" x="586.5" y="1270.4"/><use href="#bb" x="587.2" y="1267.5"/><use href="#bb" x="587.9" y="1277.4"/><use href="#bb" x="588.6" y="1284.5"/><use href="#bb" x="589.3" y="1295.9"/><use href="#bb" x="589.8" y="1302.8"/><use href="#bb" x="590.5" y="1312.2"/><use href="#bb" x="591.2" y="1317.1"/><use href="#bb" x="591.9" y="1317.8"/><use href="#bb" x="592.6" y="1320.7"/><use href="#bb" x="593.3" y="1319.7"/><use href="#bb" x="594.0" y="1321.2"/><use href="#bb" x="594.7" y="1324.5"/><use href="#bb" x="595.4" y="1322.3"/><use href="#bb" x="596.1" y="1320.6"/><use href="#bb" x="596.8" y="1318.0"/><use href="#bb" x="597.5" y="1317.4"/><use href="#bb" x="598.2" y="1313.3"/><use href="#bb" x="598.9" y="1308.3"/><use href="#bb" x="599.6" y="1306.7"/><use href="#bb" x="600.3" y="1301.6"/><use href="#bb" x="601.0" y="1297.4"/><use href="#bb" x="601.7" y="1297.5"/><use href="#bb" x="602.4" y="1297.1"/><use href="#bb" x="603.1" y="1305.6"/><use href="#bb" x="603.8" y="1307.9"/><use href="#bb" x="604.5" y="1314.3"/><use href="#bb" x="605.2" y="1317.9"/><use href="#bb" x="605.9" y="1321.2"/><use href="#bb" x="606.6" y="1323.9"/><use href="#bb" x="607.3" y="1323.0"/><use href="#bb" x="608.0" y="1322.7"/><use href="#bb" x="608.7" y="1322.3"/><use href="#bb" x="609.4" y="1324.2"/><use href="#bb" x="610.1" y="1323.1"/><use href="#bb" x="610.8" y="1322.7"/><use href="#bb" x="611.5" y="1324.2"/><use href="#bb" x="612.2" y="1325.3"/><use href="#bb" x="612.9" y="1324.2"/><use href="#bb" x="613.5" y="1323.4"/><use href="#bb" x="613.6" y="1324.9"/><use href="#bb" x="614.2" y="1323.3"/><use href="#bb" x="614.9" y="1323.0"/><use href="#bb" x="615.6" y="1326.6"/><use href="#bb" x="616.3" y="1325.2"/><use href="#bb" x="617.0" y="1327.2"/><use href="#bb" x="617.7" y="1323.2"/><use href="#bb" x="618.4" y="1326.2"/><use href="#bb" x="619.1" y="1324.8"/><use href="#bb" x="619.8" y="1328.1"/><use href="#bb" x="620.5" y="1324.8"/><use href="#bb" x="621.2" y="1324.5"/><use href="#bb" x="621.9" y="1325.5"/><use href="#bb" x="622.6" y="1325.2"/><use href="#bb" x="623.3" y="1324.5"/><use href="#bb" x="624.0" y="1326.0"/><use href="#bb" x="624.7" y="1325.7"/><use href="#bb" x="625.4" y="1325.9"/><use href="#bb" x="626.1" y="1325.3"/><use href="#bb" x="626.8" y="1324.0"/><use href="#bb" x="627.5" y="1324.0"/><use href="#bb" x="628.2" y="1325.4"/><use href="#bb" x="628.9" y="1323.6"/><use href="#bb" x="629.6" y="1326.5"/><use href="#bb" x="630.3" y="1324.5"/><use href="#bb" x="631.3" y="1323.4"/><use href="#bb" x="632.0" y="1325.3"/><use href="#bb" x="632.7" y="1323.9"/><use href="#bb" x="633.4" y="1325.0"/><use href="#bb" x="634.1" y="1323.6"/><use href="#bb" x="634.8" y="1325.0"/><use href="#bb" x="635.5" y="1322.1"/><use href="#bb" x="636.2" y="1319.4"/><use href="#bb" x="636.9" y="1319.1"/><use href="#bb" x="637.6" y="1317.3"/><use href="#bb" x="638.3" y="1317.1"/><use href="#bb" x="639.0" y="1314.3"/><use href="#bb" x="639.7" y="1305.7"/><use href="#bb" x="640.4" y="1295.8"/><use href="#bb" x="641.1" y="1287.7"/><use href="#bb" x="641.8" y="1276.7"/><use href="#bb" x="642.5" y="1267.7"/><use href="#bb" x="643.2" y="1266.8"/><use href="#bb" x="643.9" y="1271.8"/><use href="#bb" x="644.6" y="1280.5"/><use href="#bb" x="645.3" y="1293.3"/><use href="#bb" x="646.0" y="1301.5"/><use href="#bb" x="646.7" y="1308.3"/><use href="#bb" x="647.4" y="1314.2"/><use href="#bb" x="648.1" y="1319.4"/><use href="#bb" x="648.8" y="1321.9"/><use href="#bb" x="649.5" y="1322.4"/><use href="#bb" x="650.2" y="1321.1"/><use href="#bb" x="650.9" y="1321.0"/><use href="#bb" x="651.6" y="1322.8"/><use href="#bb" x="652.3" y="1322.4"/><use href="#bb" x="653.0" y="1322.9"/><use href="#bb" x="653.8" y="1321.5"/><use href="#bb" x="654.5" y="1321.8"/><use href="#bb" x="655.2" y="1321.4"/><use href="#bb" x="655.9" y="1323.3"/><use href="#bb" x="656.6" y="1323.3"/><use href="#bb" x="657.3" y="1321.1"/><use href="#bb" x="658.0" y="1322.0"/><use href="#bb" x="658.7" y="1321.3"/><use href="#bb" x="659.4" y="1318.6"/><use href="#bb" x="660.1" y="1317.5"/><use href="#bb" x="660.8" y="1315.3"/><use href="#bb" x="661.5" y="1308.4"/><use href="#bb" x="662.2" y="1303.5"/><use href="#bb" x="662.9" y="1292.0"/><use href="#bb" x="663.6" y="1280.2"/><use href="#bb" x="664.3" y="1267.4"/><use href="#bb" x="665.0" y="1256.7"/><use href="#bb" x="665.7" y="1256.5"/><use href="#bb" x="666.4" y="1262.3"/><use href="#bb" x="667.1" y="1273.1"/><use href="#bb" x="667.8" y="1285.4"/><use href="#bb" x="668.5" y="1296.6"/><use href="#bb" x="669.2" y="1303.8"/><use href="#bb" x="669.9" y="1308.3"/><use href="#bb" x="670.6" y="1311.2"/><use href="#bb" x="671.3" y="1311.6"/><use href="#bb" x="672.0" y="1308.1"/><use href="#bb" x="672.7" y="1302.0"/><use href="#bb" x="673.4" y="1295.8"/><use href="#bb" x="674.1" y="1284.8"/><use href="#bb" x="674.8" y="1275.4"/><use href="#bb" x="675.5" y="1267.0"/><use href="#bb" x="676.2" y="1264.7"/><use href="#bb" x="676.9" y="1270.1"/><use href="#bb" x="677.6" y="1280.5"/><use href="#bb" x="678.3" y="1292.1"/><use href="#bb" x="679.0" y="1299.6"/><use href="#bb" x="679.7" y="1309.8"/><use href="#bb" x="680.4" y="1315.7"/><use href="#bb" x="681.1" y="1317.7"/><use href="#bb" x="681.8" y="1318.9"/><use href="#bb" x="682.5" y="1319.7"/><use href="#bb" x="683.2" y="1322.5"/><use href="#bb" x="683.9" y="1323.3"/><use href="#bb" x="684.6" y="1323.4"/><use href="#bb" x="685.3" y="1324.5"/><use href="#bb" x="686.0" y="1323.4"/><use href="#bb" x="686.7" y="1324.0"/><use href="#bb" x="687.4" y="1324.8"/><use href="#bb" x="688.1" y="1324.5"/><use href="#bb" x="688.4" y="1325.3"/><use href="#bb" x="689.1" y="1325.4"/><use href="#bb" x="689.8" y="1324.8"/><use href="#bb" x="690.5" y="1324.2"/><use href="#bb" x="691.2" y="1324.5"/><use href="#bb" x="691.9" y="1326.5"/><use href="#bb" x="692.6" y="1324.2"/><use href="#bb" x="693.3" y="1325.6"/><use href="#bb" x="694.0" y="1324.6"/><use href="#bb" x="694.7" y="1328.0"/><use href="#bb" x="695.4" y="1325.0"/><use href="#bb" x="696.1" y="1326.4"/><use href="#bb" x="696.8" y="1324.8"/><use href="#bb" x="697.5" y="1329.0"/><use href="#bb" x="698.2" y="1324.5"/><use href="#bb" x="698.9" y="1326.3"/><use href="#bb" x="699.6" y="1324.7"/><use href="#bb" x="700.3" y="1326.8"/><use href="#bb" x="701.0" y="1324.7"/><use href="#bb" x="701.7" y="1325.6"/><use href="#bb" x="702.4" y="1324.5"/><use href="#bb" x="703.1" y="1325.7"/><use href="#bb" x="703.8" y="1326.1"/><use href="#bb" x="704.5" y="1327.9"/><use href="#bb" x="705.2" y="1323.9"/><use href="#bb" x="705.9" y="1326.7"/><use href="#bb" x="706.6" y="1326.2"/><use href="#bb" x="707.3" y="1325.6"/><use href="#bb" x="708.0" y="1326.0"/><use href="#bb" x="708.7" y="1326.6"/><use href="#bb" x="709.4" y="1326.2"/><use href="#bb" x="710.1" y="1326.2"/><use href="#bb" x="710.8" y="1325.5"/><use href="#bb" x="711.5" y="1325.9"/><use href="#bb" x="712.2" y="1326.8"/><use href="#bb" x="712.9" y="1325.4"/><use href="#bb" x="713.6" y="1325.9"/><use href="#bb" x="714.3" y="1326.4"/><use href="#bb" x="715.0" y="1326.7"/><use href="#bb" x="715.7" y="1326.8"/><use href="#bb" x="716.4" y="1326.2"/><use href="#bb" x="717.1" y="1324.5"/><use href="#bb" x="717.8" y="1327.2"/><use href="#bb" x="718.5" y="1327.4"/><use href="#bb" x="719.2" y="1327.6"/><use href="#bb" x="719.9" y="1326.8"/><use href="#bb" x="720.6" y="1327.3"/><use href="#bb" x="721.3" y="1326.2"/><use href="#bb" x="722.0" y="1325.4"/><use href="#bb" x="722.7" y="1326.3"/><use href="#bb" x="723.4" y="1326.3"/><use href="#bb" x="724.1" y="1327.5"/><use href="#bb" x="724.8" y="1327.3"/><use href="#bb" x="725.5" y="1326.1"/><use href="#bb" x="726.2" y="1326.1"/><use href="#bb" x="726.9" y="1326.5"/><use href="#bb" x="727.6" y="1326.6"/><use href="#bb" x="728.3" y="1327.9"/><use href="#bb" x="729.0" y="1326.1"/><use href="#bb" x="729.7" y="1327.8"/><use href="#bb" x="730.4" y="1325.3"/><use href="#bb" x="731.1" y="1325.9"/><use href="#bb" x="731.8" y="1328.1"/><use href="#bb" x="732.5" y="1326.9"/><use href="#bb" x="733.2" y="1326.7"/><use href="#bb" x="733.9" y="1327.1"/><use href="#bb" x="734.6" y="1326.4"/><use href="#bb" x="735.3" y="1326.6"/><use href="#bb" x="736.0" y="1326.7"/><use href="#bb" x="736.7" y="1326.7"/><use href="#bb" x="737.4" y="1326.8"/><use href="#bb" x="738.1" y="1325.9"/><use href="#bb" x="738.8" y="1326.8"/><use href="#bb" x="739.5" y="1325.8"/><use href="#bb" x="740.2" y="1326.9"/><use href="#bb" x="740.9" y="1326.2"/><use href="#bb" x="741.6" y="1326.5"/><use href="#bb" x="742.3" y="1326.5"/><use href="#bb" x="743.0" y="1325.5"/><use href="#bb" x="743.7" y="1325.6"/><use href="#bb" x="744.4" y="1325.9"/><use href="#bb" x="745.1" y="1326.3"/><use href="#bb" x="745.8" y="1326.6"/><use href="#bb" x="746.3" y="1325.6"/><use href="#bb" x="747.0" y="1324.9"/><use href="#bb" x="747.7" y="1325.5"/><use href="#bb" x="748.4" y="1325.0"/><use href="#bb" x="749.1" y="1325.3"/><use href="#bb" x="749.8" y="1325.3"/><use href="#bb" x="750.5" y="1325.3"/><use href="#bb" x="751.2" y="1321.1"/><use href="#bb" x="751.9" y="1320.6"/><use href="#bb" x="752.6" y="1318.7"/><use href="#bb" x="753.3" y="1316.3"/><use href="#bb" x="754.0" y="1311.7"/><use href="#bb" x="754.7" y="1305.3"/><use href="#bb" x="755.4" y="1298.9"/><use href="#bb" x="756.1" y="1290.1"/><use href="#bb" x="756.8" y="1283.1"/><use href="#bb" x="757.5" y="1278.7"/><use href="#bb" x="758.2" y="1276.5"/><use href="#bb" x="758.9" y="1282.2"/><use href="#bb" x="759.6" y="1286.5"/><use href="#bb" x="760.3" y="1293.8"/><use href="#bb" x="761.0" y="1302.5"/><use href="#bb" x="761.7" y="1307.0"/><use href="#bb" x="762.4" y="1313.4"/><use href="#bb" x="763.1" y="1317.4"/><use href="#bb" x="763.8" y="1321.3"/><use href="#bb" x="764.5" y="1324.7"/><use href="#bb" x="765.2" y="1323.4"/><use href="#bb" x="765.9" y="1322.9"/><use href="#bb" x="766.6" y="1324.8"/><use href="#bb" x="767.3" y="1325.5"/><use href="#bb" x="768.0" y="1324.4"/><use href="#bb" x="768.7" y="1325.8"/><use href="#bb" x="769.4" y="1327.0"/><use href="#bb" x="770.1" y="1326.2"/><use href="#bb" x="770.3" y="1325.1"/><use href="#bb" x="771.0" y="1325.4"/><use href="#bb" x="771.7" y="1324.5"/><use href="#bb" x="772.4" y="1325.5"/><use href="#bb" x="773.1" y="1325.4"/><use href="#bb" x="773.8" y="1327.0"/><use href="#bb" x="774.5" y="1324.3"/><use href="#bb" x="775.2" y="1324.1"/><use href="#bb" x="775.9" y="1325.3"/><use href="#bb" x="776.6" y="1325.1"/><use href="#bb" x="777.3" y="1323.3"/><use href="#bb" x="778.0" y="1322.7"/><use href="#bb" x="778.7" y="1321.3"/><use href="#bb" x="779.4" y="1318.8"/><use href="#bb" x="780.1" y="1315.1"/><use href="#bb" x="780.8" y="1311.2"/><use href="#bb" x="781.5" y="1305.0"/><use href="#bb" x="782.2" y="1302.9"/><use href="#bb" x="782.9" y="1299.4"/><use href="#bb" x="783.6" y="1298.0"/><use href="#bb" x="784.3" y="1300.4"/><use href="#bb" x="785.0" y="1304.2"/><use href="#bb" x="785.7" y="1308.5"/><use href="#bb" x="786.4" y="1313.1"/><use href="#bb" x="787.1" y="1316.7"/><use href="#bb" x="787.8" y="1318.8"/><use href="#bb" x="788.5" y="1324.0"/><use href="#bb" x="789.2" y="1324.1"/><use href="#bb" x="789.9" y="1326.7"/><use href="#bb" x="790.6" y="1325.3"/><use href="#bb" x="791.3" y="1327.4"/><use href="#bb" x="792.0" y="1326.3"/><use href="#bb" x="792.7" y="1327.9"/><use href="#bb" x="793.4" y="1327.6"/><use href="#bb" x="794.1" y="1327.6"/><use href="#bb" x="794.8" y="1326.9"/><use href="#bb" x="795.5" y="1327.4"/><use href="#bb" x="795.5" y="1328.3"/><use href="#bb" x="796.2" y="1325.6"/><use href="#bb" x="796.9" y="1326.7"/><use href="#bb" x="797.6" y="1326.3"/><use href="#bb" x="798.3" y="1326.7"/><use href="#bb" x="799.0" y="1328.0"/><use href="#bb" x="799.7" y="1328.2"/><use href="#bb" x="800.4" y="1327.3"/><use href="#bb" x="801.1" y="1328.5"/><use href="#bb" x="801.8" y="1326.9"/><use href="#bb" x="802.5" y="1327.0"/><use href="#bb" x="803.2" y="1327.6"/><use href="#bb" x="803.9" y="1327.8"/><use href="#bb" x="804.6" y="1327.3"/><use href="#bb" x="805.3" y="1326.5"/><use href="#bb" x="806.0" y="1327.8"/><use href="#bb" x="806.7" y="1328.7"/><use href="#bb" x="807.4" y="1326.9"/><use href="#bb" x="808.1" y="1327.1"/><use href="#bb" x="808.8" y="1326.1"/><use href="#bb" x="809.5" y="1326.9"/><use href="#bb" x="810.1" y="1326.0"/><use href="#bb" x="810.8" y="1326.7"/><use href="#bb" x="811.5" y="1327.6"/><use href="#bb" x="812.2" y="1326.4"/><use href="#bb" x="812.9" y="1325.0"/><use href="#bb" x="813.6" y="1325.8"/><use href="#bb" x="814.3" y="1323.0"/><use href="#bb" x="815.0" y="1324.3"/><use href="#bb" x="815.7" y="1321.9"/><use href="#bb" x="816.4" y="1318.3"/><use href="#bb" x="817.1" y="1315.4"/><use href="#bb" x="817.8" y="1310.0"/><use href="#bb" x="818.5" y="1306.0"/><use href="#bb" x="819.2" y="1297.1"/><use href="#bb" x="819.9" y="1287.5"/><use href="#bb" x="820.6" y="1279.9"/><use href="#bb" x="821.3" y="1275.1"/><use href="#bb" x="822.0" y="1273.4"/><use href="#bb" x="822.7" y="1277.7"/><use href="#bb" x="823.4" y="1284.8"/><use href="#bb" x="824.1" y="1291.7"/><use href="#bb" x="824.8" y="1301.5"/><use href="#bb" x="825.5" y="1309.4"/><use href="#bb" x="826.2" y="1313.9"/><use href="#bb" x="826.9" y="1318.3"/><use href="#bb" x="827.6" y="1320.3"/><use href="#bb" x="828.3" y="1322.3"/><use href="#bb" x="829.0" y="1324.3"/><use href="#bb" x="829.7" y="1324.2"/><use href="#bb" x="830.4" y="1324.2"/><use href="#bb" x="831.1" y="1326.6"/><use href="#bb" x="831.8" y="1325.8"/><use href="#bb" x="832.5" y="1326.8"/><use href="#bb" x="833.2" y="1326.9"/><use href="#bb" x="833.9" y="1327.3"/><use href="#bb" x="834.0" y="1327.5"/><use href="#bb" x="834.7" y="1327.6"/><use href="#bb" x="835.4" y="1327.0"/><use href="#bb" x="836.1" y="1328.0"/><use href="#bb" x="836.8" y="1327.1"/><use href="#bb" x="837.5" y="1327.8"/><use href="#bb" x="838.2" y="1327.0"/><use href="#bb" x="838.9" y="1327.6"/><use href="#bb" x="839.6" y="1326.9"/><use href="#bb" x="840.3" y="1328.7"/><use href="#bb" x="841.0" y="1327.8"/><use href="#bb" x="841.7" y="1327.0"/><use href="#bb" x="842.6" y="1326.1"/><use href="#bb" x="843.3" y="1326.9"/><use href="#bb" x="844.0" y="1328.4"/><use href="#bb" x="844.7" y="1326.7"/><use href="#bb" x="845.4" y="1327.8"/><use href="#bb" x="846.1" y="1326.6"/><use href="#bb" x="846.8" y="1326.2"/><use href="#bb" x="847.5" y="1325.1"/><use href="#bb" x="848.2" y="1325.3"/><use href="#bb" x="848.9" y="1324.7"/><use href="#bb" x="849.6" y="1322.7"/><use href="#bb" x="850.3" y="1320.1"/><use href="#bb" x="851.0" y="1315.7"/><use href="#bb" x="851.7" y="1312.7"/><use href="#bb" x="852.4" y="1307.5"/><use href="#bb" x="853.1" y="1303.8"/><use href="#bb" x="853.8" y="1302.0"/><use href="#bb" x="854.5" y="1300.3"/><use href="#bb" x="855.2" y="1303.4"/><use href="#bb" x="855.9" y="1306.3"/><use href="#bb" x="856.6" y="1311.8"/><use href="#bb" x="857.3" y="1314.7"/><use href="#bb" x="858.0" y="1318.7"/><use href="#bb" x="858.7" y="1321.9"/><use href="#bb" x="859.4" y="1323.7"/><use href="#bb" x="860.1" y="1325.2"/><use href="#bb" x="860.8" y="1324.3"/><use href="#bb" x="861.5" y="1327.0"/><use href="#bb" x="862.2" y="1325.5"/><use href="#bb" x="862.9" y="1326.5"/><use href="#bb" x="863.6" y="1325.4"/><use href="#bb" x="864.3" y="1327.1"/><use href="#bb" x="865.0" y="1327.0"/><use href="#bb" x="865.7" y="1327.4"/><use href="#bb" x="866.4" y="1326.9"/><use href="#bb" x="866.9" y="1327.6"/><use href="#bb" x="867.6" y="1327.2"/><use href="#bb" x="868.3" y="1327.6"/><use href="#bb" x="869.0" y="1328.4"/><use href="#bb" x="869.7" y="1326.1"/><use href="#bb" x="870.4" y="1327.7"/><use href="#bb" x="871.1" y="1327.6"/><use href="#bb" x="872.1" y="1326.5"/><use href="#bb" x="872.8" y="1327.2"/><use href="#bb" x="873.5" y="1328.5"/><use href="#bb" x="874.2" y="1327.6"/><use href="#bb" x="874.9" y="1326.7"/><use href="#bb" x="875.6" y="1327.4"/><use href="#bb" x="876.3" y="1326.8"/><use href="#bb" x="877.0" y="1325.0"/><use href="#bb" x="877.7" y="1324.9"/><use href="#bb" x="878.4" y="1324.0"/><use href="#bb" x="879.1" y="1322.4"/><use href="#bb" x="879.8" y="1320.3"/><use href="#bb" x="880.5" y="1317.0"/><use href="#bb" x="881.2" y="1313.4"/><use href="#bb" x="881.9" y="1308.9"/><use href="#bb" x="882.6" y="1305.3"/><use href="#bb" x="883.3" y="1302.6"/><use href="#bb" x="884.0" y="1302.7"/><use href="#bb" x="884.7" y="1303.9"/><use href="#bb" x="885.4" y="1306.8"/><use href="#bb" x="886.1" y="1311.6"/><use href="#bb" x="886.8" y="1316.5"/><use href="#bb" x="887.5" y="1317.8"/><use href="#bb" x="888.2" y="1321.3"/><use href="#bb" x="888.8" y="1321.5"/><use href="#bb" x="889.5" y="1323.3"/><use href="#bb" x="890.2" y="1324.5"/><use href="#bb" x="890.9" y="1325.0"/><use href="#bb" x="891.6" y="1325.7"/><use href="#bb" x="892.3" y="1323.6"/><use href="#bb" x="893.0" y="1323.3"/><use href="#bb" x="893.7" y="1323.2"/><use href="#bb" x="894.4" y="1321.4"/><use href="#bb" x="895.1" y="1317.1"/><use href="#bb" x="895.8" y="1313.8"/><use href="#bb" x="896.5" y="1308.9"/><use href="#bb" x="897.2" y="1301.8"/><use href="#bb" x="897.9" y="1291.5"/><use href="#bb" x="898.6" y="1282.9"/><use href="#bb" x="899.3" y="1272.0"/><use href="#bb" x="900.0" y="1268.1"/><use href="#bb" x="900.7" y="1267.4"/><use href="#bb" x="901.4" y="1269.6"/><use href="#bb" x="902.1" y="1278.3"/><use href="#bb" x="902.8" y="1287.1"/><use href="#bb" x="903.5" y="1297.1"/><use href="#bb" x="904.2" y="1305.9"/><use href="#bb" x="904.9" y="1312.4"/><use href="#bb" x="905.6" y="1317.1"/><use href="#bb" x="906.3" y="1319.2"/><use href="#bb" x="907.0" y="1321.8"/><use href="#bb" x="907.7" y="1325.3"/><use href="#bb" x="908.4" y="1325.2"/><use href="#bb" x="909.1" y="1325.4"/><use href="#bb" x="909.8" y="1326.4"/><use href="#bb" x="910.5" y="1326.3"/><use href="#bb" x="911.2" y="1327.1"/><use href="#bb" x="911.9" y="1326.7"/><use href="#bb" x="912.6" y="1327.0"/><use href="#bb" x="913.1" y="1326.5"/><use href="#bb" x="913.8" y="1329.0"/><use href="#bb" x="914.5" y="1328.5"/><use href="#bb" x="915.2" y="1328.5"/><use href="#bb" x="915.9" y="1328.8"/><use href="#bb" x="916.6" y="1328.2"/><use href="#bb" x="917.3" y="1327.6"/><use href="#bb" x="918.0" y="1328.8"/><use href="#bb" x="918.7" y="1329.0"/><use href="#bb" x="919.4" y="1329.0"/><use href="#bb" x="920.1" y="1328.4"/><use href="#bb" x="920.8" y="1327.7"/><use href="#bb" x="921.5" y="1329.3"/><use href="#bb" x="922.2" y="1329.1"/><use href="#bb" x="922.9" y="1328.8"/><use href="#bb" x="923.6" y="1328.7"/><use href="#bb" x="924.3" y="1328.8"/><use href="#bb" x="925.0" y="1328.5"/><use href="#bb" x="925.7" y="1327.9"/><use href="#bb" x="926.4" y="1328.9"/><use href="#bb" x="927.1" y="1328.7"/><use href="#bb" x="927.8" y="1329.2"/><use href="#bb" x="928.5" y="1328.8"/><use href="#bb" x="929.2" y="1329.2"/><use href="#bb" x="929.9" y="1328.2"/><use href="#bb" x="930.6" y="1329.3"/><use href="#bb" x="931.3" y="1330.4"/><use href="#bb" x="932.0" y="1328.9"/><use href="#bb" x="932.7" y="1329.4"/><use href="#bb" x="933.6" y="1329.5"/><use href="#bb" x="934.3" y="1329.1"/><use href="#bb" x="935.0" y="1329.0"/><use href="#bb" x="935.7" y="1327.7"/><use href="#bb" x="936.4" y="1328.1"/><use href="#bb" x="937.1" y="1329.6"/><use href="#bb" x="937.8" y="1328.5"/><use href="#bb" x="938.5" y="1328.3"/><use href="#bb" x="939.2" y="1329.1"/><use href="#bb" x="939.9" y="1326.0"/><use href="#bb" x="940.6" y="1327.0"/><use href="#bb" x="941.3" y="1325.6"/><use href="#bb" x="942.0" y="1322.4"/><use href="#bb" x="942.7" y="1321.4"/><use href="#bb" x="943.4" y="1320.1"/><use href="#bb" x="944.1" y="1317.5"/><use href="#bb" x="944.8" y="1316.2"/><use href="#bb" x="945.5" y="1316.8"/><use href="#bb" x="946.2" y="1317.1"/><use href="#bb" x="946.9" y="1319.0"/><use href="#bb" x="947.6" y="1320.8"/><use href="#bb" x="948.3" y="1322.9"/><use href="#bb" x="949.0" y="1324.6"/><use href="#bb" x="949.7" y="1327.2"/><use href="#bb" x="950.4" y="1326.9"/><use href="#bb" x="951.1" y="1326.9"/><use href="#bb" x="951.8" y="1328.0"/><use href="#bb" x="952.5" y="1328.2"/><use href="#bb" x="953.2" y="1330.3"/><use href="#bb" x="953.9" y="1327.3"/><use href="#bb" x="954.6" y="1328.7"/><use href="#bb" x="955.3" y="1328.4"/><use href="#bb" x="956.0" y="1329.2"/><use href="#bb" x="956.7" y="1327.5"/><use href="#bb" x="957.4" y="1327.2"/><use href="#bb" x="958.1" y="1328.0"/><use href="#bb" x="958.8" y="1328.1"/><use href="#bb" x="959.5" y="1327.4"/><use href="#bb" x="960.2" y="1326.9"/><use href="#bb" x="960.9" y="1325.5"/><use href="#bb" x="961.6" y="1324.7"/><use href="#bb" x="962.3" y="1322.1"/><use href="#bb" x="963.0" y="1318.8"/><use href="#bb" x="963.7" y="1316.3"/><use href="#bb" x="964.4" y="1310.2"/><use href="#bb" x="965.1" y="1304.8"/><use href="#bb" x="965.8" y="1300.9"/><use href="#bb" x="966.5" y="1297.8"/><use href="#bb" x="967.2" y="1297.2"/><use href="#bb" x="967.9" y="1299.3"/><use href="#bb" x="968.6" y="1303.9"/><use href="#bb" x="969.3" y="1308.4"/><use href="#bb" x="970.0" y="1312.9"/><use href="#bb" x="970.7" y="1318.5"/><use href="#bb" x="971.4" y="1320.9"/><use href="#bb" x="972.1" y="1324.1"/><use href="#bb" x="972.8" y="1325.3"/><use href="#bb" x="973.5" y="1326.7"/><use href="#bb" x="974.2" y="1328.2"/><use href="#bb" x="974.9" y="1326.6"/><use href="#bb" x="975.6" y="1328.8"/><use href="#bb" x="976.3" y="1328.4"/><use href="#bb" x="977.0" y="1329.1"/><use href="#bb" x="977.7" y="1328.5"/><use href="#bb" x="978.4" y="1328.9"/><use href="#bb" x="979.1" y="1328.9"/><use href="#bb" x="979.6" y="1328.4"/><use href="#bb" x="980.3" y="1329.2"/><use href="#bb" x="981.0" y="1330.4"/><use href="#bb" x="981.7" y="1330.1"/><use href="#bb" x="982.4" y="1330.3"/><use href="#bb" x="983.1" y="1329.3"/><use href="#bb" x="983.8" y="1329.4"/><use href="#bb" x="984.5" y="1329.3"/><use href="#bb" x="985.2" y="1328.3"/><use href="#bb" x="985.9" y="1329.5"/><use href="#bb" x="986.6" y="1329.2"/><use href="#bb" x="987.3" y="1330.3"/><use href="#bb" x="988.0" y="1330.3"/><use href="#bb" x="988.7" y="1330.1"/><use href="#bb" x="989.4" y="1329.3"/><use href="#bb" x="990.1" y="1329.5"/><use href="#bb" x="990.8" y="1330.7"/><use href="#bb" x="991.5" y="1330.1"/><use href="#bb" x="992.2" y="1330.5"/><use href="#bb" x="992.9" y="1329.7"/><use href="#bb" x="993.6" y="1330.5"/><use href="#bb" x="994.3" y="1329.8"/><use href="#bb" x="995.0" y="1329.7"/><use href="#bb" x="995.7" y="1330.2"/><use href="#bb" x="996.4" y="1329.6"/><use href="#bb" x="997.1" y="1329.3"/><use href="#bb" x="997.8" y="1330.9"/><use href="#bb" x="998.5" y="1330.5"/><use href="#bb" x="999.2" y="1329.8"/><use href="#bb" x="999.9" y="1330.1"/><use href="#bb" x="1000.6" y="1330.8"/><use href="#bb" x="1001.3" y="1329.8"/><use href="#bb" x="1002.0" y="1328.7"/><use href="#bb" x="1002.7" y="1331.5"/><use href="#bb" x="1003.4" y="1329.3"/><use href="#bb" x="1004.1" y="1329.9"/><use href="#bb" x="1004.8" y="1328.9"/><use href="#bb" x="1005.5" y="1328.9"/><use href="#bb" x="1006.2" y="1330.4"/><use href="#bb" x="1006.9" y="1329.4"/><use href="#bb" x="1007.6" y="1330.6"/><use href="#bb" x="1008.3" y="1330.2"/><use href="#bb" x="1009.0" y="1330.2"/><use href="#bb" x="1009.7" y="1330.7"/><use href="#bb" x="1010.4" y="1330.7"/><use href="#bb" x="1011.1" y="1331.1"/><use href="#bb" x="1011.8" y="1329.5"/><use href="#bb" x="1012.5" y="1329.9"/><use href="#bb" x="1013.2" y="1330.8"/><use href="#bb" x="1013.9" y="1330.8"/><use href="#bb" x="1014.6" y="1330.1"/><use href="#bb" x="1015.3" y="1329.7"/><use href="#bb" x="1016.0" y="1330.4"/><use href="#bb" x="1016.7" y="1328.6"/><use href="#bb" x="1017.4" y="1329.5"/><use href="#bb" x="1018.1" y="1331.1"/><use href="#bb" x="1018.8" y="1329.7"/><use href="#bb" x="1019.5" y="1331.7"/><use href="#bb" x="1020.2" y="1330.6"/><use href="#bb" x="1020.9" y="1330.7"/><use href="#bb" x="1021.6" y="1332.1"/><use href="#bb" x="1022.3" y="1331.1"/><use href="#bb" x="1023.0" y="1330.4"/><use href="#bb" x="1023.7" y="1330.2"/><use href="#bb" x="1024.4" y="1330.2"/><use href="#bb" x="1025.1" y="1329.3"/><use href="#bb" x="1025.8" y="1330.7"/><use href="#bb" x="1026.5" y="1330.5"/><use href="#bb" x="1027.2" y="1330.1"/><use href="#bb" x="1027.9" y="1331.0"/><use href="#bb" x="1028.3" y="1330.1"/><use href="#bb" x="1029.0" y="1329.3"/><use href="#bb" x="1029.7" y="1329.6"/><use href="#bb" x="1030.4" y="1330.2"/><use href="#bb" x="1031.1" y="1330.2"/><use href="#bb" x="1031.8" y="1330.9"/><use href="#bb" x="1032.5" y="1329.2"/><use href="#bb" x="1033.2" y="1329.3"/><use href="#bb" x="1033.9" y="1329.0"/><use href="#bb" x="1034.6" y="1327.8"/><use href="#bb" x="1035.3" y="1326.4"/><use href="#bb" x="1036.0" y="1324.0"/><use href="#bb" x="1036.7" y="1322.6"/><use href="#bb" x="1037.4" y="1322.1"/><use href="#bb" x="1038.1" y="1318.9"/><use href="#bb" x="1038.8" y="1316.9"/><use href="#bb" x="1039.5" y="1315.0"/><use href="#bb" x="1040.2" y="1315.7"/><use href="#bb" x="1040.9" y="1317.4"/><use href="#bb" x="1041.6" y="1317.6"/><use href="#bb" x="1042.3" y="1319.5"/><use href="#bb" x="1043.0" y="1322.1"/><use href="#bb" x="1043.7" y="1323.8"/><use href="#bb" x="1044.4" y="1325.4"/><use href="#bb" x="1045.1" y="1328.5"/><use href="#bb" x="1045.8" y="1328.8"/><use href="#bb" x="1046.5" y="1328.3"/><use href="#bb" x="1047.2" y="1329.7"/><use href="#bb" x="1047.9" y="1330.7"/><use href="#bb" x="1048.6" y="1330.3"/><use href="#bb" x="1049.3" y="1331.2"/><use href="#bb" x="1050.0" y="1330.2"/><use href="#bb" x="1050.7" y="1331.3"/><use href="#bb" x="1051.4" y="1331.0"/><use href="#bb" x="1052.1" y="1331.5"/><use href="#bb" x="1052.4" y="1331.1"/><use href="#bb" x="1053.1" y="1330.8"/><use href="#bb" x="1053.8" y="1331.5"/><use href="#bb" x="1054.5" y="1331.6"/><use href="#bb" x="1055.2" y="1331.8"/><use href="#bb" x="1055.9" y="1330.6"/><use href="#bb" x="1056.6" y="1331.1"/><use href="#bb" x="1057.3" y="1331.3"/><use href="#bb" x="1058.0" y="1331.3"/><use href="#bb" x="1058.7" y="1331.3"/><use href="#bb" x="1059.4" y="1331.5"/><use href="#bb" x="1060.1" y="1332.3"/><use href="#bb" x="1060.8" y="1332.5"/><use href="#bb" x="1061.5" y="1332.2"/><use href="#bb" x="1062.2" y="1331.8"/><use href="#bb" x="1062.9" y="1329.5"/><use href="#bb" x="1063.6" y="1331.1"/><use href="#bb" x="1064.3" y="1331.7"/><use href="#bb" x="1065.0" y="1330.9"/><use href="#bb" x="1065.7" y="1332.1"/><use href="#bb" x="1066.4" y="1331.0"/><use href="#bb" x="1067.1" y="1331.4"/><use href="#bb" x="1067.8" y="1331.0"/><use href="#bb" x="1068.5" y="1331.4"/><use href="#bb" x="1069.2" y="1330.4"/><use href="#bb" x="1069.9" y="1331.0"/><use href="#bb" x="1070.6" y="1330.6"/><use href="#bb" x="1071.3" y="1330.4"/><use href="#bb" x="1071.9" y="1330.1"/><use href="#bb" x="1072.6" y="1331.5"/><use href="#bb" x="1073.3" y="1330.2"/><use href="#bb" x="1074.0" y="1331.2"/><use href="#bb" x="1074.7" y="1330.5"/><use href="#bb" x="1075.4" y="1330.7"/><use href="#bb" x="1076.1" y="1330.1"/><use href="#bb" x="1076.8" y="1329.7"/><use href="#bb" x="1077.5" y="1328.4"/><use href="#bb" x="1078.2" y="1330.0"/><use href="#bb" x="1078.9" y="1328.0"/><use href="#bb" x="1079.6" y="1326.8"/><use href="#bb" x="1080.3" y="1323.4"/><use href="#bb" x="1081.0" y="1322.7"/><use href="#bb" x="1081.7" y="1321.1"/><use href="#bb" x="1082.4" y="1320.2"/><use href="#bb" x="1083.1" y="1318.7"/><use href="#bb" x="1083.8" y="1319.2"/><use href="#bb" x="1084.5" y="1319.4"/><use href="#bb" x="1084.8" y="1320.3"/><use href="#bb" x="1085.5" y="1321.8"/><use href="#bb" x="1086.2" y="1322.1"/><use href="#bb" x="1086.9" y="1323.7"/><use href="#bb" x="1087.6" y="1324.8"/><use href="#bb" x="1088.3" y="1326.9"/><use href="#bb" x="1089.0" y="1327.0"/><use href="#bb" x="1089.7" y="1327.2"/><use href="#bb" x="1090.4" y="1326.8"/><use href="#bb" x="1091.1" y="1327.6"/><use href="#bb" x="1091.8" y="1326.9"/><use href="#bb" x="1092.5" y="1326.3"/><use href="#bb" x="1093.2" y="1325.1"/><use href="#bb" x="1093.9" y="1323.4"/><use href="#bb" x="1094.6" y="1323.9"/><use href="#bb" x="1095.3" y="1322.2"/><use href="#bb" x="1096.0" y="1321.7"/><use href="#bb" x="1096.7" y="1320.9"/><use href="#bb" x="1097.4" y="1322.5"/><use href="#bb" x="1098.1" y="1322.0"/><use href="#bb" x="1098.8" y="1323.2"/><use href="#bb" x="1099.5" y="1324.0"/><use href="#bb" x="1100.2" y="1324.9"/><use href="#bb" x="1100.9" y="1326.8"/><use href="#bb" x="1101.6" y="1326.7"/><use href="#bb" x="1102.3" y="1326.9"/><use href="#bb" x="1103.0" y="1327.7"/><use href="#bb" x="1103.7" y="1327.8"/><use href="#bb" x="1104.4" y="1328.1"/><use href="#bb" x="1105.1" y="1327.8"/><use href="#bb" x="1105.8" y="1328.3"/><use href="#bb" x="1106.5" y="1327.1"/><use href="#bb" x="1107.2" y="1327.5"/><use href="#bb" x="1107.9" y="1328.3"/><use href="#bb" x="1108.6" y="1328.2"/><use href="#bb" x="1109.1" y="1326.5"/><use href="#bb" x="1109.8" y="1327.4"/><use href="#bb" x="1110.5" y="1326.8"/><use href="#bb" x="1111.2" y="1327.1"/><use href="#bb" x="1111.9" y="1325.2"/><use href="#bb" x="1112.6" y="1325.5"/><use href="#bb" x="1113.3" y="1325.2"/><use href="#bb" x="1114.0" y="1323.3"/><use href="#bb" x="1114.7" y="1323.0"/><use href="#bb" x="1115.4" y="1323.3"/><use href="#bb" x="1116.1" y="1322.0"/><use href="#bb" x="1116.8" y="1322.0"/><use href="#bb" x="1117.5" y="1320.9"/><use href="#bb" x="1118.2" y="1319.3"/><use href="#bb" x="1118.9" y="1319.6"/><use href="#bb" x="1119.6" y="1319.1"/><use href="#bb" x="1120.3" y="1317.9"/><use href="#bb" x="1121.0" y="1318.2"/><use href="#bb" x="1121.7" y="1316.0"/><use href="#bb" x="1122.4" y="1316.1"/><use href="#bb" x="1123.1" y="1315.2"/><use href="#bb" x="1123.8" y="1314.2"/><use href="#bb" x="1124.5" y="1313.1"/><use href="#bb" x="1125.2" y="1312.1"/><use href="#bb" x="1125.9" y="1312.0"/><use href="#bb" x="1126.6" y="1312.0"/><use href="#bb" x="1127.3" y="1311.4"/>
<path d="M49.0 1228.8L53.8 1230.3L82.5 1242.1L93.5 1246.0L95.5 1246.3L97.0 1245.9L98.2 1244.9L100.5 1242.2L101.5 1241.9L102.5 1243.0L106.0 1249.4L107.2 1250.7L109.0 1251.9L113.8 1253.9L116.8 1254.6L118.5 1254.2L121.2 1252.3L122.2 1252.2L123.2 1253.0L126.2 1257.1L128.2 1258.8L132.2 1260.6L139.2 1262.6L143.5 1263.4L147.2 1263.7L150.0 1263.5L152.5 1262.8L154.5 1261.6L156.2 1259.7L157.5 1257.5L158.8 1254.3L160.2 1247.5L161.5 1235.6L162.5 1215.2L163.2 1187.5L164.5 1104.6L166.8 873.0L167.5 842.4L168.0 856.7L168.5 895.0L171.0 1146.1L172.0 1200.9L173.0 1230.4L173.8 1242.5L174.8 1251.8L176.0 1258.4L177.5 1263.4L179.5 1267.7L182.2 1271.4L185.8 1274.4L190.2 1277.1L199.8 1280.9L209.2 1283.5L212.2 1283.8L214.5 1283.7L216.0 1283.1L217.2 1281.9L218.8 1278.1L220.0 1271.0L221.2 1258.6L223.5 1228.8L224.0 1224.7L224.5 1223.3L225.0 1225.0L225.5 1229.4L228.0 1263.6L229.8 1278.9L230.8 1283.4L232.0 1286.6L233.8 1288.9L236.5 1290.9L243.5 1293.8L251.5 1295.7L254.0 1295.3L257.2 1292.8L258.2 1292.6L259.2 1293.4L262.5 1297.4L265.5 1299.2L270.5 1300.5L277.5 1301.8L282.2 1302.3L285.2 1302.1L286.5 1301.6L287.5 1300.6L289.0 1297.4L290.2 1292.3L292.5 1279.5L293.5 1276.7L294.0 1277.2L294.5 1278.9L298.0 1298.2L299.2 1301.8L300.8 1304.0L302.0 1304.9L304.0 1305.8L310.2 1307.1L318.0 1307.8L323.5 1307.4L325.2 1306.6L326.5 1305.4L327.5 1303.5L328.5 1300.2L330.0 1291.0L332.5 1268.8L333.0 1266.3L333.5 1265.7L334.5 1270.4L337.8 1298.0L339.0 1303.5L340.5 1306.6L342.2 1308.1L345.2 1309.1L349.2 1309.3L353.2 1308.8L356.0 1307.8L358.5 1306.2L360.5 1303.9L362.0 1301.3L364.2 1294.4L365.8 1284.6L366.8 1270.9L367.8 1243.7L369.0 1175.0L371.5 931.3L372.2 897.7L372.8 908.2L373.2 942.5L375.8 1180.1L376.8 1231.1L377.8 1255.1L378.2 1259.6L378.5 1260.3L379.0 1258.7L380.0 1243.0L381.0 1209.4L383.0 1111.7L383.8 1096.1L384.2 1102.5L384.8 1120.9L387.2 1246.7L388.8 1283.9L390.0 1296.8L391.8 1304.3L393.0 1307.1L394.8 1309.7L396.8 1311.7L399.0 1313.2L402.8 1314.9L407.2 1316.0L412.2 1316.7L415.2 1316.5L416.5 1315.8L417.8 1314.4L421.0 1307.0L422.0 1306.0L423.0 1307.1L426.0 1314.5L428.0 1317.0L429.5 1317.6L431.8 1317.9L437.5 1317.4L439.8 1316.7L441.8 1315.6L443.2 1314.4L444.8 1312.5L447.0 1307.7L448.5 1301.3L449.5 1292.9L450.2 1281.6L451.5 1243.7L452.8 1168.2L454.8 999.2L455.5 974.4L456.0 985.9L456.5 1016.7L459.0 1219.1L459.8 1254.5L460.8 1282.4L462.0 1298.8L462.8 1303.9L464.0 1309.0L465.5 1312.8L467.2 1315.6L469.5 1318.0L472.2 1319.7L476.5 1321.3L482.0 1322.6L489.8 1323.6L499.2 1324.5L504.5 1324.7L507.2 1324.3L509.0 1323.5L511.8 1321.0L512.8 1320.7L513.8 1321.2L517.2 1324.4L519.0 1325.1L521.2 1325.4L531.8 1325.9L546.5 1326.0L554.5 1325.7L559.5 1325.0L561.2 1324.4L562.5 1323.5L563.5 1322.2L564.5 1319.9L566.0 1313.7L568.5 1298.1L569.0 1296.1L569.5 1295.4L570.0 1296.1L570.5 1298.0L572.8 1311.7L574.2 1318.2L575.2 1320.5L576.2 1321.6L577.5 1322.1L578.8 1321.8L580.0 1320.6L581.0 1318.7L582.0 1315.1L582.8 1310.8L584.0 1299.5L586.5 1268.2L587.0 1264.5L587.5 1263.4L588.2 1266.7L591.0 1292.9L591.5 1294.9L592.0 1295.6L593.5 1294.4L594.2 1295.8L597.5 1316.8L598.8 1321.1L600.5 1323.7L603.2 1325.0L607.8 1325.9L614.8 1326.4L623.2 1326.5L629.2 1326.1L633.5 1325.4L636.5 1324.3L638.5 1322.7L640.2 1319.0L641.8 1311.2L643.0 1299.4L645.2 1270.7L645.8 1266.5L646.2 1264.7L646.8 1265.8L647.2 1269.5L649.8 1300.5L651.2 1312.9L652.2 1317.3L653.2 1319.7L654.8 1321.2L656.5 1321.2L658.0 1320.1L659.0 1318.3L660.0 1314.8L660.8 1310.6L662.2 1296.7L664.5 1267.1L665.5 1260.9L666.0 1261.7L666.5 1264.9L668.5 1283.3L669.0 1285.8L669.5 1286.7L670.0 1286.1L670.5 1284.0L672.5 1269.8L673.0 1268.4L673.5 1269.3L674.2 1274.8L677.2 1308.3L678.5 1316.3L679.8 1320.6L681.2 1323.1L683.2 1324.6L686.5 1325.8L691.2 1326.7L707.8 1327.7L737.8 1328.1L747.8 1327.5L750.8 1326.9L753.0 1325.9L754.5 1324.5L755.5 1322.7L757.2 1316.7L758.8 1307.2L761.5 1283.6L762.5 1279.7L763.0 1280.2L763.8 1283.9L766.5 1307.5L768.0 1316.8L769.8 1322.5L771.0 1324.3L772.2 1325.2L773.5 1325.4L774.8 1324.9L775.8 1324.0L776.8 1322.3L778.2 1317.9L781.0 1306.2L781.8 1304.3L782.2 1304.0L782.8 1304.6L783.5 1306.8L786.0 1318.0L787.2 1322.3L788.5 1325.1L790.2 1327.1L792.0 1328.0L794.8 1328.6L803.5 1329.0L810.5 1328.3L812.8 1327.6L814.5 1326.5L815.8 1325.1L816.8 1323.2L818.5 1317.5L820.0 1309.2L823.0 1287.2L823.8 1283.7L824.5 1282.7L825.0 1283.6L825.8 1286.9L828.8 1308.9L830.2 1317.3L832.2 1323.7L833.2 1325.4L834.5 1326.7L837.5 1328.1L842.2 1328.7L846.2 1328.3L848.8 1326.9L850.2 1324.8L851.5 1322.0L855.5 1306.8L856.2 1305.0L857.0 1304.4L857.5 1304.9L858.2 1306.7L862.2 1322.0L863.5 1324.9L865.0 1327.1L867.2 1328.5L870.5 1329.2L875.8 1329.3L880.5 1328.7L882.2 1328.1L883.8 1327.1L885.8 1323.8L887.5 1317.8L890.5 1302.7L891.5 1300.6L892.0 1300.9L892.5 1302.0L895.8 1314.3L896.8 1315.5L897.2 1315.3L897.8 1314.5L898.8 1311.1L899.8 1305.4L903.0 1279.3L903.8 1275.7L904.2 1274.9L904.8 1275.6L905.5 1279.0L909.0 1308.5L910.2 1316.2L911.5 1321.4L912.8 1324.6L914.5 1327.0L917.0 1328.6L920.5 1329.6L926.2 1330.3L933.8 1330.6L940.2 1330.4L944.0 1329.6L946.0 1328.5L947.5 1326.8L951.5 1318.8L952.2 1317.7L953.0 1317.2L954.2 1317.9L957.5 1322.9L958.5 1323.5L959.2 1323.3L960.5 1321.6L961.8 1317.9L965.5 1298.1L966.2 1295.2L967.0 1294.2L967.5 1294.7L968.2 1297.1L971.8 1316.8L974.0 1324.7L975.2 1327.0L977.0 1328.8L979.2 1329.8L982.5 1330.5L992.8 1331.3L1014.5 1331.9L1024.5 1331.9L1029.5 1331.3L1032.0 1330.1L1034.0 1327.9L1035.8 1324.6L1039.0 1316.5L1039.8 1315.2L1040.5 1314.7L1041.2 1315.0L1042.0 1316.2L1046.0 1326.2L1047.2 1328.4L1048.8 1330.3L1050.2 1331.4L1052.2 1332.2L1058.8 1332.9L1071.8 1332.8L1075.2 1332.4L1077.5 1331.7L1079.0 1330.7L1080.5 1329.0L1084.5 1321.2L1085.2 1320.2L1086.0 1319.8L1087.2 1320.7L1090.2 1325.5L1091.2 1326.4L1092.0 1326.6L1092.8 1326.4L1093.8 1325.5L1097.0 1320.4L1098.2 1319.8L1099.5 1321.0L1102.2 1325.8L1104.0 1328.0L1106.2 1329.3L1108.8 1329.4L1110.5 1328.6L1112.5 1327.2L1121.8 1318.3" fill="none" stroke="#ff0000" stroke-width="7.8" stroke-linejoin="round" stroke-linecap="round"/>
<rect x="110.5" y="1353.3" width="3.0" height="25.7" fill="#ff00ff"/>
<rect x="145.6" y="1353.3" width="4.1" height="25.7" fill="#ff00ff"/>
<rect x="159.9" y="1353.3" width="3.8" height="25.7" fill="#ff00ff"/>
<rect x="171.4" y="1353.3" width="3.6" height="25.7" fill="#ff00ff"/>
<rect x="247.5" y="1353.3" width="3.1" height="25.7" fill="#ff00ff"/>
<rect x="255.2" y="1353.3" width="4.4" height="25.7" fill="#ff00ff"/>
<rect x="278.8" y="1353.3" width="3.8" height="25.7" fill="#ff00ff"/>
<rect x="308.5" y="1353.3" width="3.9" height="25.7" fill="#ff00ff"/>
<rect x="352.2" y="1353.3" width="4.1" height="25.7" fill="#ff00ff"/>
<rect x="367.6" y="1353.3" width="4.1" height="25.7" fill="#ff00ff"/>
<rect x="388.8" y="1353.3" width="4.4" height="25.7" fill="#ff00ff"/>
<rect x="404.5" y="1353.3" width="4.7" height="25.7" fill="#ff00ff"/>
<rect x="424.6" y="1353.3" width="4.4" height="25.7" fill="#ff00ff"/>
<rect x="434.9" y="1353.3" width="4.4" height="25.7" fill="#ff00ff"/>
<rect x="441.7" y="1353.3" width="5.5" height="25.7" fill="#ff00ff"/>
<rect x="455.0" y="1353.3" width="5.1" height="25.7" fill="#ff00ff"/>
<rect x="478.1" y="1353.3" width="5.1" height="25.7" fill="#ff00ff"/>
<rect x="505.0" y="1353.3" width="7.9" height="25.7" fill="#ff00ff"/>
<rect x="525.9" y="1353.3" width="5.2" height="25.7" fill="#ff00ff"/>
<rect x="541.3" y="1353.3" width="4.3" height="25.7" fill="#ff00ff"/>
<rect x="561.0" y="1353.3" width="4.2" height="25.7" fill="#ff00ff"/>
<rect x="570.0" y="1353.3" width="4.9" height="25.7" fill="#ff00ff"/>
<rect x="585.5" y="1353.3" width="4.1" height="25.7" fill="#ff00ff"/>
<rect x="596.9" y="1353.3" width="9.2" height="25.7" fill="#ff00ff"/>
<rect x="627.1" y="1353.3" width="5.2" height="25.7" fill="#ff00ff"/>
<rect x="635.5" y="1353.3" width="5.7" height="25.7" fill="#ff00ff"/>
<rect x="642.5" y="1353.3" width="7.7" height="25.7" fill="#ff00ff"/>
<rect x="654.5" y="1353.3" width="5.1" height="25.7" fill="#ff00ff"/>
<rect x="661.7" y="1353.3" width="9.2" height="25.7" fill="#ff00ff"/>
<rect x="677.7" y="1353.3" width="9.3" height="25.7" fill="#ff00ff"/>
<rect x="699.0" y="1353.3" width="3.8" height="25.7" fill="#ff00ff"/>
<rect x="704.5" y="1353.3" width="5.1" height="25.7" fill="#ff00ff"/>
<rect x="715.2" y="1353.3" width="7.3" height="25.7" fill="#ff00ff"/>
<rect x="763.0" y="1353.3" width="15.0" height="25.7" fill="#ff00ff"/>
<rect x="779.7" y="1353.3" width="5.1" height="25.7" fill="#ff00ff"/>
<rect x="793.6" y="1353.3" width="12.9" height="25.7" fill="#ff00ff"/>
<rect x="807.7" y="1353.3" width="3.9" height="25.7" fill="#ff00ff"/>
<rect x="812.9" y="1353.3" width="5.1" height="25.7" fill="#ff00ff"/>
<rect x="823.0" y="1353.3" width="7.8" height="25.7" fill="#ff00ff"/>
<rect x="834.6" y="1353.3" width="5.4" height="25.7" fill="#ff00ff"/>
<rect x="841.0" y="1353.3" width="3.1" height="25.7" fill="#ff00ff"/>
<rect x="845.9" y="1353.3" width="4.6" height="25.7" fill="#ff00ff"/>
<rect x="856.9" y="1353.3" width="5.1" height="25.7" fill="#ff00ff"/>
<rect x="864.6" y="1353.3" width="7.7" height="25.7" fill="#ff00ff"/>
<rect x="875.6" y="1353.3" width="4.9" height="25.7" fill="#ff00ff"/>
<rect x="893.5" y="1353.3" width="12.9" height="25.7" fill="#ff00ff"/>
<rect x="910.2" y="1353.3" width="14.1" height="25.7" fill="#ff00ff"/>
<rect x="931.2" y="1353.3" width="7.7" height="25.7" fill="#ff00ff"/>
<rect x="942.7" y="1353.3" width="2.6" height="25.7" fill="#ff00ff"/>
<rect x="947.3" y="1353.3" width="7.0" height="25.7" fill="#ff00ff"/>
<rect x="961.2" y="1353.3" width="4.6" height="25.7" fill="#ff00ff"/>
<rect x="975.5" y="1353.3" width="16.0" height="25.7" fill="#ff00ff"/>
<rect x="993.2" y="1353.3" width="6.0" height="25.7" fill="#ff00ff"/>
<rect x="1000.9" y="1353.3" width="12.8" height="25.7" fill="#ff00ff"/>
<rect x="1015.0" y="1353.3" width="2.6" height="25.7" fill="#ff00ff"/>
<rect x="1019.3" y="1353.3" width="4.7" height="25.7" fill="#ff00ff"/>
<rect x="1025.7" y="1353.3" width="5.1" height="25.7" fill="#ff00ff"/>
<rect x="1032.9" y="1353.3" width="7.7" height="25.7" fill="#ff00ff"/>
<rect x="1042.3" y="1353.3" width="2.6" height="25.7" fill="#ff00ff"/>
<rect x="1048.7" y="1353.3" width="6.5" height="25.7" fill="#ff00ff"/>
<rect x="1058.1" y="1353.3" width="7.3" height="25.7" fill="#ff00ff"/>
<rect x="1067.1" y="1353.3" width="2.1" height="25.7" fill="#ff00ff"/>
<rect x="1071.0" y="1353.3" width="4.6" height="25.7" fill="#ff00ff"/>
<rect x="1077.4" y="1353.3" width="5.0" height="25.7" fill="#ff00ff"/>
<rect x="1083.6" y="1353.3" width="5.2" height="25.7" fill="#ff00ff"/>
<rect x="1091.3" y="1353.3" width="6.4" height="25.7" fill="#ff00ff"/>
<rect x="1100.3" y="1353.3" width="3.9" height="25.7" fill="#ff00ff"/>
<rect x="1106.7" y="1353.3" width="5.1" height="25.7" fill="#ff00ff"/>
<rect x="1113.1" y="1353.3" width="3.9" height="25.7" fill="#ff00ff"/>
<rect x="1118.2" y="1353.3" width="2.6" height="25.7" fill="#ff00ff"/>
<path d="M49.0 1445.0L49.8 1446.5L50.6 1446.5L51.0 1447.8L51.4 1447.0L52.2 1450.4L53.8 1451.1L54.6 1447.8L55.4 1447.9L57.0 1443.5L59.4 1448.0L60.2 1447.5L61.8 1448.6L62.6 1448.3L63.4 1448.8L65.0 1446.5L65.8 1446.1L66.6 1446.8L69.0 1442.9L69.8 1446.6L70.6 1444.4L71.4 1443.8L72.2 1446.7L73.0 1444.7L73.8 1447.6L74.6 1446.6L75.4 1443.7L76.2 1445.0L77.8 1445.6L79.4 1443.2L80.0 1446.6L81.0 1444.2L81.8 1446.1L82.6 1446.0L84.2 1441.8L85.0 1444.7L85.8 1442.8L86.6 1444.8L87.4 1443.4L88.2 1445.5L89.0 1442.5L89.8 1444.3L90.6 1443.1L91.4 1447.8L92.2 1448.6L93.0 1445.4L94.6 1443.3L95.4 1445.2L96.2 1440.4L97.0 1439.0L97.8 1439.8L99.4 1446.2L100.2 1444.0L101.0 1444.3L101.8 1446.4L102.6 1444.7L103.4 1444.4L105.0 1440.0L105.8 1440.3L106.6 1442.1L107.4 1439.3L108.2 1441.4L110.0 1442.4L111.4 1440.7L112.2 1443.3L113.0 1442.0L113.8 1442.9L114.6 1441.0L115.4 1443.5L116.2 1438.2L117.0 1441.4L117.8 1440.2L118.6 1440.5L121.0 1445.7L121.8 1442.8L122.6 1444.2L123.4 1440.5L124.2 1440.1L125.0 1440.4L125.8 1438.8L126.6 1440.7L128.2 1439.8L129.0 1438.2L129.8 1438.0L130.6 1440.8L131.4 1438.7L132.2 1438.2L133.0 1439.2L134.6 1438.3L135.4 1438.4L137.8 1440.2L138.6 1439.6L139.4 1440.5L140.0 1439.0L140.2 1441.9L141.0 1443.8L141.8 1442.0L142.6 1441.4L143.4 1443.2L144.2 1439.8L145.0 1439.4L145.8 1442.4L146.6 1439.5L147.4 1442.9L148.2 1440.8L149.0 1442.5L150.0 1442.4L150.6 1444.2L151.4 1443.7L152.2 1440.6L153.0 1442.7L155.4 1444.4L157.0 1447.8L157.8 1444.5L158.6 1447.6L160.2 1443.2L161.8 1441.7L162.5 1439.3L164.2 1410.5L165.0 1415.5L166.0 1486.5L167.5 1450.6L168.2 1450.5L169.0 1444.6L170.0 1442.6L170.6 1446.2L171.4 1443.7L172.2 1447.9L173.8 1445.8L174.6 1448.8L175.0 1448.9L175.4 1446.1L177.0 1449.3L177.8 1447.2L179.4 1448.1L180.2 1445.1L181.0 1448.4L183.4 1449.9L184.2 1447.4L185.0 1447.5L185.8 1449.5L186.6 1445.7L187.4 1445.9L188.2 1448.4L189.0 1447.8L189.8 1448.6L190.6 1447.2L192.2 1450.1L193.0 1448.3L193.8 1448.3L195.4 1447.0L197.8 1449.7L199.4 1449.4L200.2 1448.5L201.0 1444.9L201.8 1448.4L202.6 1448.9L203.4 1450.6L205.8 1444.3L206.6 1446.9L209.0 1444.2L209.8 1449.2L210.6 1447.1L213.0 1448.9L214.6 1444.3L215.4 1449.0L216.2 1444.7L217.8 1447.2L218.6 1447.6L219.4 1446.5L220.0 1448.9L222.5 1429.1L225.5 1462.3L226.6 1459.1L228.2 1444.8L229.0 1446.2L229.8 1445.3L230.6 1445.9L231.4 1447.9L232.2 1445.4L233.8 1447.1L234.6 1444.4L235.4 1445.9L236.2 1445.9L237.0 1446.7L237.8 1444.7L238.6 1445.8L241.0 1446.9L241.8 1448.1L243.4 1449.0L244.2 1449.0L245.0 1446.4L245.8 1449.2L246.6 1445.2L247.4 1444.8L248.2 1448.2L249.0 1445.6L250.6 1448.5L251.4 1445.4L252.2 1446.5L253.8 1446.5L254.6 1447.5L255.4 1447.4L257.0 1450.1L257.8 1448.2L259.4 1448.3L260.2 1446.1L261.0 1449.6L261.8 1446.0L262.6 1445.5L263.4 1448.4L264.2 1447.2L265.8 1450.7L266.6 1447.0L267.4 1451.4L268.2 1447.6L269.0 1447.5L269.8 1446.4L270.6 1448.0L271.4 1444.9L273.0 1447.5L274.6 1448.7L276.2 1451.0L277.0 1449.0L277.8 1448.5L278.6 1445.9L279.4 1447.5L280.2 1447.0L281.0 1448.8L281.8 1447.5L282.6 1447.9L283.4 1446.6L285.0 1450.9L285.8 1450.3L286.6 1448.7L287.4 1449.2L288.2 1446.5L289.0 1448.2L289.8 1448.6L290.6 1446.5L292.2 1447.6L293.0 1449.5L293.8 1448.6L296.2 1448.1L297.0 1445.3L297.8 1446.4L298.6 1445.1L300.0 1445.3L300.2 1444.0L302.6 1445.0L303.4 1448.4L305.0 1447.9L306.6 1449.4L307.4 1446.8L308.2 1447.6L309.0 1445.5L309.8 1444.9L310.6 1447.3L313.0 1445.7L313.8 1447.0L314.6 1444.4L315.4 1443.8L316.2 1444.1L317.0 1442.6L317.8 1447.4L318.6 1446.5L320.2 1446.6L321.0 1445.5L321.8 1442.2L322.6 1443.2L323.4 1442.8L324.2 1446.3L325.8 1445.3L327.4 1443.2L328.2 1444.5L329.8 1442.9L330.6 1444.1L331.4 1443.6L333.8 1444.5L334.6 1438.0L336.2 1444.9L337.0 1441.4L337.8 1444.7L338.6 1444.7L339.4 1443.3L340.2 1446.0L341.0 1442.7L341.8 1442.5L342.6 1444.4L343.4 1443.9L345.0 1440.6L345.8 1443.8L347.4 1445.4L348.2 1443.4L349.8 1442.6L350.6 1445.8L351.4 1444.7L352.2 1446.4L353.8 1443.3L354.6 1445.2L356.2 1443.0L357.0 1444.1L358.0 1442.1L359.4 1445.1L360.2 1449.3L361.8 1450.6L362.0 1449.5L363.4 1458.9L364.2 1458.5L365.5 1467.4L365.8 1464.7L366.6 1467.5L367.4 1462.5L368.5 1446.1L369.8 1362.7L371.5 1374.9L372.7 1503.3L374.6 1377.8L375.4 1380.3L376.2 1381.1L377.8 1379.8L381.0 1405.0L381.0 1403.0L381.8 1404.7L383.4 1411.4L385.0 1436.0L387.4 1439.2L388.0 1442.2L388.2 1441.1L389.0 1443.1L390.6 1443.4L391.4 1444.9L392.2 1444.4L393.0 1445.7L393.8 1443.4L394.6 1442.5L395.4 1442.9L396.2 1442.4L397.0 1444.0L399.4 1440.0L400.2 1440.5L401.0 1440.1L401.8 1441.7L402.6 1441.5L403.4 1443.7L404.2 1442.1L405.8 1443.9L406.6 1443.5L407.4 1442.1L408.2 1442.1L409.0 1440.4L409.8 1442.3L410.6 1441.1L411.4 1441.7L412.2 1443.5L413.0 1440.0L413.8 1441.7L414.6 1441.9L416.2 1438.9L417.0 1441.1L417.8 1438.9L418.0 1442.5L418.6 1438.6L421.0 1431.3L421.8 1430.2L422.0 1431.9L422.6 1430.7L424.2 1438.2L425.8 1442.1L426.0 1441.0L426.6 1441.6L427.4 1444.4L428.2 1440.8L429.0 1443.6L430.6 1440.9L431.4 1442.9L432.2 1441.1L433.0 1445.1L434.6 1442.7L435.4 1442.8L436.2 1443.8L437.0 1440.6L437.8 1444.2L438.6 1444.2L440.2 1446.0L441.0 1445.5L441.8 1443.8L443.4 1447.2L444.2 1444.7L445.0 1444.6L445.8 1442.8L448.2 1454.6L449.0 1456.7L449.0 1459.3L449.8 1460.9L450.6 1459.7L451.4 1466.3L452.2 1469.2L454.0 1452.6L455.5 1389.6L456.2 1391.7L457.0 1391.1L457.8 1394.9L459.0 1406.9L459.4 1407.5L460.2 1404.9L461.0 1408.4L462.0 1404.6L463.5 1438.7L464.2 1444.0L465.0 1449.0L465.8 1450.6L467.4 1448.9L469.0 1454.5L469.8 1453.5L470.6 1453.8L471.4 1451.2L474.6 1447.4L476.2 1442.9L477.0 1442.5L478.6 1444.6L479.4 1444.5L480.0 1442.7L480.2 1444.6L481.0 1442.9L481.8 1443.5L482.6 1446.1L483.4 1445.5L484.2 1441.8L485.0 1441.6L485.8 1444.5L486.6 1441.7L487.4 1444.0L488.2 1442.9L489.8 1446.0L491.4 1443.2L492.2 1444.1L493.0 1441.8L493.8 1446.2L494.6 1441.8L495.4 1444.3L496.2 1443.8L497.0 1444.5L497.8 1444.3L498.6 1444.7L499.4 1442.8L500.2 1444.4L501.0 1444.3L501.8 1445.5L502.6 1442.2L503.4 1446.8L505.0 1441.7L506.6 1446.2L508.2 1446.9L509.0 1444.9L509.8 1444.9L510.6 1446.5L511.4 1445.2L512.2 1440.8L513.0 1440.7L513.8 1443.0L514.6 1443.0L515.4 1439.5L516.2 1443.0L517.0 1443.4L517.8 1443.0L518.6 1444.7L519.4 1442.8L520.2 1443.4L521.0 1441.4L521.8 1441.1L522.6 1442.5L523.4 1442.1L524.2 1442.4L525.0 1441.8L525.8 1444.0L526.6 1443.1L527.4 1446.0L528.2 1443.8L529.0 1444.3L529.8 1442.3L530.6 1448.9L531.4 1445.8L532.2 1448.0L533.8 1444.1L534.6 1443.6L535.4 1441.7L536.2 1444.2L539.4 1439.4L541.8 1442.7L542.6 1445.8L543.4 1444.8L545.0 1444.3L545.8 1442.1L549.0 1446.3L549.8 1442.8L550.6 1443.6L551.4 1439.4L552.2 1440.6L553.8 1439.3L554.6 1443.5L555.4 1443.5L556.2 1442.1L557.0 1442.2L557.8 1441.1L558.6 1440.9L559.4 1446.7L561.0 1444.2L562.6 1446.7L565.0 1443.2L565.8 1439.4L566.6 1443.0L569.0 1441.1L569.8 1439.7L570.6 1442.6L571.4 1443.6L572.2 1440.2L573.0 1442.4L573.8 1442.7L574.6 1439.4L575.4 1439.4L576.2 1441.4L577.0 1438.7L577.8 1441.2L578.6 1440.2L579.4 1442.1L580.0 1442.0L581.0 1439.6L581.8 1434.6L583.0 1431.7L587.0 1468.0L590.0 1440.8L590.6 1441.1L591.4 1440.6L592.2 1436.7L593.0 1437.7L593.8 1435.6L594.6 1437.2L595.4 1437.6L597.0 1435.9L597.8 1436.7L598.6 1436.8L600.2 1444.4L601.0 1445.2L602.6 1443.8L603.4 1444.7L604.2 1441.5L605.0 1443.0L605.8 1439.0L606.6 1439.7L608.2 1438.9L609.0 1441.7L609.8 1441.0L610.6 1442.8L612.2 1441.9L613.0 1447.9L613.8 1445.6L614.6 1445.3L616.2 1442.6L617.0 1443.2L617.8 1442.7L618.6 1443.4L619.4 1442.0L621.0 1442.7L621.8 1441.6L623.4 1443.1L624.2 1441.9L625.0 1443.1L625.8 1442.7L626.6 1443.2L627.4 1441.3L629.8 1445.4L630.6 1443.7L632.2 1445.3L633.0 1445.2L633.8 1443.9L635.4 1444.5L637.0 1439.5L637.8 1443.1L638.6 1441.7L639.4 1442.9L640.0 1439.5L640.2 1442.8L641.0 1445.8L641.8 1447.0L642.6 1451.0L643.4 1451.8L645.0 1459.2L645.8 1457.2L647.4 1445.6L648.2 1443.1L651.4 1421.4L652.2 1430.0L653.0 1432.7L653.8 1439.3L655.0 1453.0L656.2 1451.5L657.8 1446.1L658.6 1446.4L661.0 1437.5L662.6 1436.7L663.4 1434.0L664.2 1433.4L665.0 1430.0L665.0 1432.0L666.6 1435.8L667.4 1439.8L668.2 1441.1L671.4 1456.8L672.0 1457.6L674.6 1444.6L675.4 1445.6L676.2 1441.0L677.0 1439.7L677.8 1439.7L679.4 1432.9L680.0 1432.6L680.2 1429.6L681.8 1435.2L682.6 1434.8L683.4 1435.3L685.0 1439.3L685.8 1440.0L686.0 1442.1L686.6 1439.7L688.2 1443.7L689.0 1444.0L689.8 1445.7L690.6 1443.3L691.4 1445.4L692.2 1443.3L693.0 1444.2L694.6 1443.0L695.4 1443.8L696.2 1442.0L697.0 1442.7L697.8 1441.8L698.6 1443.2L700.2 1441.6L701.8 1441.0L702.6 1443.4L703.4 1440.6L704.2 1442.9L705.0 1441.6L706.6 1444.5L707.4 1443.6L708.2 1447.0L709.0 1446.4L710.6 1440.6L711.4 1440.4L712.2 1443.6L713.8 1439.7L714.6 1440.7L715.4 1439.1L718.6 1448.2L721.0 1444.2L721.8 1440.9L722.6 1441.5L723.4 1440.4L724.2 1442.3L725.0 1442.2L725.8 1444.5L726.6 1443.6L727.4 1444.7L728.2 1441.0L729.0 1443.8L729.8 1440.7L731.4 1447.1L732.2 1448.1L733.0 1445.1L733.8 1444.7L734.6 1443.3L735.4 1443.8L736.2 1443.1L737.0 1443.7L737.8 1443.0L739.4 1444.2L740.2 1444.3L741.0 1442.7L741.8 1443.1L742.6 1447.0L745.0 1441.0L745.8 1444.4L746.6 1444.3L747.4 1447.0L748.2 1446.8L749.0 1444.0L749.8 1443.5L750.6 1441.8L751.4 1442.2L753.0 1446.4L753.8 1446.4L754.6 1444.5L755.4 1445.3L757.0 1441.4L757.8 1443.7L758.6 1443.1L759.4 1444.5L761.0 1443.6L761.8 1442.0L762.6 1446.8L763.4 1445.9L764.2 1447.7L765.0 1447.8L765.8 1446.7L766.6 1442.5L767.4 1441.6L769.0 1445.1L769.8 1442.2L770.6 1442.9L771.4 1441.6L772.2 1442.0L773.0 1444.3L773.8 1443.5L775.4 1446.8L776.2 1443.0L777.0 1445.1L777.8 1441.5L778.6 1441.9L779.4 1444.1L780.2 1440.2L781.0 1444.7L781.8 1442.8L782.6 1442.8L783.4 1445.8L785.0 1445.0L785.8 1442.9L786.6 1442.7L787.4 1443.8L788.2 1442.3L789.0 1445.1L789.8 1443.3L790.6 1443.1L791.4 1445.7L792.2 1444.2L793.8 1443.7L794.6 1442.0L795.4 1444.3L796.2 1442.1L797.8 1442.8L798.6 1444.0L799.4 1440.8L800.2 1441.5L801.8 1438.7L802.6 1442.2L803.4 1443.4L805.0 1440.8L805.8 1440.6L806.6 1441.9L807.4 1440.9L808.2 1438.5L809.0 1438.7L810.6 1435.9L811.4 1437.3L812.2 1437.2L813.0 1438.1L815.4 1435.3L816.2 1433.6L817.8 1432.5L819.0 1436.9L821.8 1454.5L822.0 1453.4L822.6 1453.2L823.4 1446.7L824.2 1446.9L825.0 1441.0L827.4 1445.0L828.2 1443.3L829.0 1445.7L829.8 1445.7L830.6 1443.2L831.4 1443.8L832.2 1441.5L833.0 1443.9L833.8 1440.6L836.2 1444.9L837.0 1447.5L838.6 1444.9L839.4 1446.7L841.0 1442.1L842.6 1441.4L844.2 1439.9L846.6 1444.2L847.4 1443.2L848.2 1444.3L849.0 1444.3L849.8 1445.9L850.6 1445.1L851.4 1446.6L853.0 1444.7L853.8 1444.6L854.6 1444.9L855.4 1446.5L856.2 1444.6L857.0 1446.1L857.8 1444.0L858.6 1444.8L859.4 1447.0L861.0 1442.7L861.8 1443.2L863.4 1441.7L864.2 1444.7L865.8 1443.1L866.6 1444.6L868.2 1442.1L869.0 1445.4L869.8 1446.0L870.6 1444.2L872.2 1445.5L873.0 1442.0L873.8 1444.0L875.4 1441.0L876.2 1444.1L877.0 1439.2L877.8 1445.1L879.4 1442.1L880.2 1444.5L881.0 1445.1L881.8 1444.2L882.6 1445.2L883.4 1441.8L884.2 1444.3L885.0 1442.9L886.6 1444.9L888.2 1443.8L889.0 1446.0L889.8 1446.9L890.6 1444.9L892.2 1443.8L893.0 1441.1L893.8 1444.5L894.6 1445.2L895.4 1445.2L896.2 1444.1L897.0 1443.9L898.6 1446.2L901.0 1424.3L901.8 1425.1L902.0 1422.4L907.0 1466.5L907.4 1461.3L908.2 1459.4L909.8 1449.0L910.6 1449.0L912.0 1440.4L912.2 1440.1L913.0 1441.3L913.8 1438.0L914.6 1442.0L915.4 1439.5L917.0 1442.0L917.8 1441.2L918.6 1444.2L919.4 1441.5L921.0 1440.0L922.6 1441.5L923.4 1444.1L924.2 1443.7L926.6 1439.7L927.4 1441.8L928.2 1440.1L929.0 1441.7L929.8 1441.3L930.6 1441.7L931.4 1439.3L932.2 1439.7L933.0 1437.2L933.8 1439.8L934.6 1440.2L936.2 1442.7L937.0 1442.6L937.8 1441.2L938.6 1443.9L939.4 1441.2L941.0 1439.5L941.8 1440.4L942.6 1443.6L943.4 1443.6L944.2 1440.5L945.0 1442.6L946.6 1438.0L947.4 1437.3L948.2 1439.4L952.2 1441.8L953.0 1441.8L954.6 1439.0L955.4 1439.4L956.2 1444.6L957.0 1444.7L957.8 1441.9L958.6 1445.5L960.2 1441.0L962.6 1442.7L963.4 1441.9L964.2 1444.1L965.0 1441.6L965.8 1444.3L966.6 1443.9L967.4 1440.9L968.2 1443.1L969.0 1440.2L969.8 1442.1L970.6 1442.2L971.4 1444.5L972.2 1444.3L973.0 1444.8L973.8 1440.8L974.6 1440.8L975.4 1439.1L976.2 1441.1L977.0 1441.6L978.6 1438.8L980.2 1440.0L981.0 1445.6L981.8 1443.5L982.6 1444.7L984.2 1442.5L986.6 1442.2L987.4 1443.4L989.0 1440.4L989.8 1440.4L990.6 1438.3L992.2 1443.6L993.8 1442.8L994.6 1444.0L995.4 1440.8L997.0 1442.0L997.8 1441.8L999.4 1436.6L1000.2 1439.4L1001.0 1438.7L1001.8 1443.3L1002.6 1445.0L1003.4 1443.1L1004.2 1446.1L1006.6 1439.9L1007.4 1442.2L1008.2 1440.3L1009.0 1443.5L1012.2 1440.7L1013.8 1441.6L1014.6 1443.0L1015.4 1442.2L1016.2 1442.6L1017.0 1440.6L1017.8 1443.9L1018.6 1441.3L1020.2 1443.7L1021.0 1441.1L1021.8 1443.5L1022.6 1442.3L1023.4 1442.9L1024.2 1440.8L1025.0 1442.9L1025.8 1439.4L1026.6 1441.6L1028.2 1439.3L1029.0 1443.6L1029.8 1442.4L1031.4 1443.2L1032.2 1442.0L1033.0 1442.0L1033.8 1440.7L1034.6 1444.3L1035.4 1442.3L1037.0 1441.3L1037.8 1443.8L1039.4 1442.7L1041.0 1445.8L1041.8 1445.9L1042.6 1447.8L1043.4 1445.4L1044.2 1444.5L1045.0 1445.6L1045.8 1444.9L1048.2 1445.0L1049.0 1447.2L1049.8 1447.1L1050.6 1443.6L1051.4 1442.3L1052.2 1444.7L1053.8 1441.2L1054.6 1442.3L1055.4 1441.0L1056.2 1443.4L1057.0 1444.2L1057.8 1442.4L1058.6 1443.1L1060.2 1439.8L1061.8 1442.9L1062.6 1442.9L1063.4 1445.5L1065.0 1447.0L1066.6 1444.3L1067.4 1444.2L1069.0 1445.6L1069.8 1441.9L1070.6 1441.7L1071.4 1440.8L1072.2 1443.9L1073.0 1443.0L1073.8 1444.2L1074.6 1444.4L1075.4 1442.4L1076.2 1442.4L1077.0 1443.1L1077.8 1445.4L1078.6 1443.3L1079.4 1443.4L1080.2 1444.5L1081.0 1442.5L1081.8 1442.6L1082.6 1444.5L1083.4 1445.0L1084.2 1443.8L1085.0 1447.0L1085.8 1446.7L1086.6 1447.3L1088.2 1443.5L1089.0 1442.9L1089.8 1445.0L1090.6 1442.1L1092.2 1445.3L1093.0 1442.8L1093.8 1445.5L1094.6 1445.2L1095.4 1443.6L1097.0 1447.7L1097.8 1446.7L1098.6 1447.0L1099.4 1444.4L1100.2 1447.2L1101.0 1446.3L1101.8 1443.8L1102.6 1443.1L1103.4 1445.8L1104.2 1446.6L1105.0 1445.8L1105.8 1446.5L1106.6 1445.5L1107.4 1447.2L1108.2 1447.3L1109.0 1445.5L1110.6 1449.9L1112.2 1446.2L1113.0 1447.9L1114.6 1445.8L1115.4 1443.3L1116.2 1445.5L1117.0 1443.5L1117.8 1442.9L1118.6 1443.6L1119.4 1443.4L1121.0 1444.9L1121.8 1447.0" fill="none" stroke="#0000ff" stroke-width="7.6" stroke-linejoin="round" stroke-linecap="round"/>
</g>
<g clip-path="url(#cc)">
<use href="#bc" x="43.0" y="1989.3"/><use href="#bc" x="43.7" y="1983.0"/><use href="#bc" x="44.4" y="1981.7"/><use href="#bc" x="45.1" y="1972.3"/><use href="#bc" x="45.8" y="1980.5"/><use href="#bc" x="46.5" y="1980.4"/><use href="#bc" x="47.2" y="1981.9"/><use href="#bc" x="47.9" y="1979.3"/><use href="#bc" x="48.6" y="1982.4"/><use href="#bc" x="49.3" y="1980.3"/><use href="#bc" x="50.0" y="1976.3"/><use href="#bc" x="50.7" y="1987.4"/><use href="#bc" x="51.4" y="1987.5"/><use href="#bc" x="52.1" y="1991.7"/><use href="#bc" x="52.8" y="1983.6"/><use href="#bc" x="53.5" y="1981.5"/><use href="#bc" x="54.2" y="1981.0"/><use href="#bc" x="54.9" y="1976.3"/><use href="#bc" x="55.6" y="1989.2"/><use href="#bc" x="56.3" y="1979.0"/><use href="#bc" x="57.0" y="1978.8"/><use href="#bc" x="57.7" y="1984.0"/><use href="#bc" x="58.4" y="1992.7"/><use href="#bc" x="59.1" y="1986.7"/><use href="#bc" x="59.8" y="1980.7"/><use href="#bc" x="60.5" y="1982.5"/><use href="#bc" x="61.2" y="1989.4"/><use href="#bc" x="61.9" y="1985.8"/><use href="#bc" x="62.6" y="1983.0"/><use href="#bc" x="63.3" y="1985.9"/><use href="#bc" x="64.0" y="1991.1"/><use href="#bc" x="64.7" y="1997.5"/><use href="#bc" x="65.4" y="1981.6"/><use href="#bc" x="66.1" y="1985.0"/><use href="#bc" x="66.8" y="1984.4"/><use href="#bc" x="67.5" y="1976.6"/><use href="#bc" x="68.2" y="1984.3"/><use href="#bc" x="68.9" y="1984.1"/><use href="#bc" x="69.6" y="1995.1"/><use href="#bc" x="70.3" y="1989.1"/><use href="#bc" x="71.0" y="1981.9"/><use href="#bc" x="71.7" y="1993.5"/><use href="#bc" x="72.4" y="1988.8"/><use href="#bc" x="73.1" y="1982.2"/><use href="#bc" x="73.8" y="1988.2"/><use href="#bc" x="74.5" y="1988.5"/><use href="#bc" x="75.2" y="1987.4"/><use href="#bc" x="75.9" y="1992.2"/><use href="#bc" x="76.6" y="1981.1"/><use href="#bc" x="77.3" y="1991.3"/><use href="#bc" x="78.0" y="1998.0"/><use href="#bc" x="78.7" y="1997.5"/><use href="#bc" x="79.4" y="1999.1"/><use href="#bc" x="80.1" y="1999.4"/><use href="#bc" x="80.8" y="2001.6"/><use href="#bc" x="81.5" y="1988.8"/><use href="#bc" x="82.2" y="1999.0"/><use href="#bc" x="82.9" y="1985.7"/><use href="#bc" x="83.6" y="1992.3"/><use href="#bc" x="84.3" y="1986.1"/><use href="#bc" x="85.0" y="2001.2"/><use href="#bc" x="85.7" y="2002.9"/><use href="#bc" x="86.4" y="1995.5"/><use href="#bc" x="87.1" y="2005.7"/><use href="#bc" x="87.8" y="1993.8"/><use href="#bc" x="88.5" y="1998.2"/><use href="#bc" x="89.2" y="1998.5"/><use href="#bc" x="89.9" y="1992.7"/><use href="#bc" x="90.6" y="2000.5"/><use href="#bc" x="91.3" y="2008.2"/><use href="#bc" x="92.0" y="1993.7"/><use href="#bc" x="92.7" y="2003.6"/><use href="#bc" x="93.4" y="1998.5"/><use href="#bc" x="94.1" y="2008.4"/><use href="#bc" x="94.8" y="2002.1"/><use href="#bc" x="95.5" y="2003.3"/><use href="#bc" x="96.3" y="2003.2"/><use href="#bc" x="97.0" y="2001.3"/><use href="#bc" x="97.7" y="1993.1"/><use href="#bc" x="98.4" y="2007.0"/><use href="#bc" x="99.1" y="1993.1"/><use href="#bc" x="99.8" y="2001.0"/><use href="#bc" x="100.5" y="2002.6"/><use href="#bc" x="101.2" y="1995.0"/><use href="#bc" x="101.9" y="1999.5"/><use href="#bc" x="102.6" y="2004.2"/><use href="#bc" x="103.3" y="1997.7"/><use href="#bc" x="104.0" y="1992.8"/><use href="#bc" x="104.7" y="1982.2"/><use href="#bc" x="105.4" y="1991.5"/><use href="#bc" x="106.1" y="1993.0"/><use href="#bc" x="106.8" y="1993.2"/><use href="#bc" x="107.5" y="1991.0"/><use href="#bc" x="108.2" y="1998.0"/><use href="#bc" x="108.9" y="1993.8"/><use href="#bc" x="109.6" y="1996.9"/><use href="#bc" x="110.3" y="2001.8"/><use href="#bc" x="111.0" y="1995.2"/><use href="#bc" x="111.7" y="1999.1"/><use href="#bc" x="112.4" y="2012.6"/><use href="#bc" x="113.1" y="2007.4"/><use href="#bc" x="113.8" y="1997.7"/><use href="#bc" x="114.5" y="2004.9"/><use href="#bc" x="115.2" y="2009.1"/><use href="#bc" x="115.9" y="2013.4"/><use href="#bc" x="116.6" y="2008.9"/><use href="#bc" x="117.3" y="2006.3"/><use href="#bc" x="118.0" y="2006.1"/><use href="#bc" x="118.7" y="2013.6"/><use href="#bc" x="119.4" y="2012.6"/><use href="#bc" x="120.0" y="2008.9"/><use href="#bc" x="120.1" y="2010.6"/><use href="#bc" x="120.7" y="2010.0"/><use href="#bc" x="121.4" y="2016.2"/><use href="#bc" x="122.1" y="2009.6"/><use href="#bc" x="122.8" y="2015.9"/><use href="#bc" x="123.5" y="2018.1"/><use href="#bc" x="124.2" y="2016.7"/><use href="#bc" x="124.9" y="2010.5"/><use href="#bc" x="125.6" y="2021.8"/><use href="#bc" x="126.3" y="2012.0"/><use href="#bc" x="127.0" y="2017.9"/><use href="#bc" x="127.7" y="2012.4"/><use href="#bc" x="128.4" y="2007.8"/><use href="#bc" x="129.1" y="2018.0"/><use href="#bc" x="129.8" y="2018.6"/><use href="#bc" x="130.5" y="2017.1"/><use href="#bc" x="131.2" y="2019.2"/><use href="#bc" x="131.9" y="2014.9"/><use href="#bc" x="132.6" y="2014.8"/><use href="#bc" x="133.3" y="2018.0"/><use href="#bc" x="134.0" y="2028.7"/><use href="#bc" x="134.7" y="2023.5"/><use href="#bc" x="135.4" y="2017.2"/><use href="#bc" x="136.1" y="2022.9"/><use href="#bc" x="136.8" y="2018.0"/><use href="#bc" x="137.5" y="2018.4"/><use href="#bc" x="138.2" y="2025.2"/><use href="#bc" x="138.9" y="2018.6"/><use href="#bc" x="139.6" y="2013.1"/><use href="#bc" x="140.3" y="2017.1"/><use href="#bc" x="141.0" y="2022.3"/><use href="#bc" x="141.7" y="2022.7"/><use href="#bc" x="142.4" y="2028.4"/><use href="#bc" x="143.1" y="2018.8"/><use href="#bc" x="143.8" y="2026.1"/><use href="#bc" x="144.5" y="2024.6"/><use href="#bc" x="145.2" y="2021.8"/><use href="#bc" x="145.9" y="2026.6"/><use href="#bc" x="146.6" y="2024.8"/><use href="#bc" x="147.3" y="2017.9"/><use href="#bc" x="148.0" y="2027.3"/><use href="#bc" x="148.7" y="2015.5"/><use href="#bc" x="149.4" y="2021.5"/><use href="#bc" x="150.1" y="2020.7"/><use href="#bc" x="150.8" y="2022.2"/><use href="#bc" x="151.5" y="2015.7"/><use href="#bc" x="152.2" y="2018.2"/><use href="#bc" x="152.9" y="2016.6"/><use href="#bc" x="153.6" y="2020.9"/><use href="#bc" x="154.3" y="2010.5"/><use href="#bc" x="155.1" y="2012.8"/><use href="#bc" x="155.8" y="2009.0"/><use href="#bc" x="156.5" y="2001.4"/><use href="#bc" x="157.2" y="2017.9"/><use href="#bc" x="157.9" y="2001.1"/><use href="#bc" x="158.6" y="1990.3"/><use href="#bc" x="159.3" y="1999.8"/><use href="#bc" x="160.0" y="1982.5"/><use href="#bc" x="160.7" y="1983.3"/><use href="#bc" x="161.4" y="1978.6"/><use href="#bc" x="162.1" y="1963.2"/><use href="#bc" x="162.8" y="1954.9"/><use href="#bc" x="163.5" y="1943.5"/><use href="#bc" x="164.2" y="1933.0"/><use href="#bc" x="164.9" y="1911.5"/><use href="#bc" x="165.6" y="1896.8"/><use href="#bc" x="166.3" y="1883.0"/><use href="#bc" x="167.0" y="1879.0"/><use href="#bc" x="167.7" y="1897.8"/><use href="#bc" x="168.4" y="1921.0"/><use href="#bc" x="169.1" y="1931.8"/><use href="#bc" x="169.8" y="1939.8"/><use href="#bc" x="170.5" y="1953.5"/><use href="#bc" x="171.2" y="1954.9"/><use href="#bc" x="171.9" y="1968.8"/><use href="#bc" x="172.6" y="1976.3"/><use href="#bc" x="173.3" y="1988.9"/><use href="#bc" x="174.0" y="1996.3"/><use href="#bc" x="174.7" y="1995.4"/><use href="#bc" x="175.4" y="1999.2"/><use href="#bc" x="176.1" y="1997.9"/><use href="#bc" x="176.8" y="2006.7"/><use href="#bc" x="177.5" y="2010.0"/><use href="#bc" x="178.2" y="2011.7"/><use href="#bc" x="178.9" y="2006.3"/><use href="#bc" x="179.6" y="2018.4"/><use href="#bc" x="180.3" y="2013.8"/><use href="#bc" x="181.0" y="2006.5"/><use href="#bc" x="181.7" y="2002.8"/><use href="#bc" x="182.4" y="2001.9"/><use href="#bc" x="183.1" y="2002.3"/><use href="#bc" x="183.8" y="2000.4"/><use href="#bc" x="184.5" y="2002.2"/><use href="#bc" x="185.2" y="2004.1"/><use href="#bc" x="185.9" y="2008.5"/><use href="#bc" x="186.6" y="2010.2"/><use href="#bc" x="187.3" y="2008.0"/><use href="#bc" x="188.0" y="2014.0"/><use href="#bc" x="188.7" y="2014.5"/><use href="#bc" x="189.4" y="2017.4"/><use href="#bc" x="190.1" y="2031.9"/><use href="#bc" x="190.8" y="2024.9"/><use href="#bc" x="191.5" y="2038.5"/><use href="#bc" x="192.2" y="2030.9"/><use href="#bc" x="192.9" y="2035.7"/><use href="#bc" x="193.6" y="2041.1"/><use href="#bc" x="194.3" y="2038.1"/><use href="#bc" x="195.0" y="2041.0"/><use href="#bc" x="195.7" y="2039.4"/><use href="#bc" x="196.4" y="2039.3"/><use href="#bc" x="197.0" y="2041.3"/><use href="#bc" x="197.1" y="2039.3"/><use href="#bc" x="197.7" y="2049.6"/><use href="#bc" x="198.4" y="2042.6"/><use href="#bc" x="199.1" y="2051.1"/><use href="#bc" x="199.8" y="2033.0"/><use href="#bc" x="200.5" y="2044.9"/><use href="#bc" x="201.2" y="2047.6"/><use href="#bc" x="201.9" y="2044.4"/><use href="#bc" x="202.6" y="2050.5"/><use href="#bc" x="203.3" y="2049.0"/><use href="#bc" x="204.0" y="2045.6"/><use href="#bc" x="204.7" y="2048.8"/><use href="#bc" x="205.4" y="2058.9"/><use href="#bc" x="206.1" y="2048.7"/><use href="#bc" x="206.8" y="2049.2"/><use href="#bc" x="207.5" y="2046.5"/><use href="#bc" x="208.2" y="2049.1"/><use href="#bc" x="208.9" y="2043.6"/><use href="#bc" x="209.6" y="2048.2"/><use href="#bc" x="210.3" y="2059.2"/><use href="#bc" x="211.0" y="2053.8"/><use href="#bc" x="211.7" y="2052.3"/><use href="#bc" x="212.4" y="2054.3"/><use href="#bc" x="212.8" y="2057.5"/><use href="#bc" x="213.5" y="2052.5"/><use href="#bc" x="214.2" y="2058.5"/><use href="#bc" x="214.9" y="2054.6"/><use href="#bc" x="215.6" y="2051.1"/><use href="#bc" x="216.3" y="2057.2"/><use href="#bc" x="217.0" y="2041.0"/><use href="#bc" x="217.7" y="2047.7"/><use href="#bc" x="218.4" y="2050.4"/><use href="#bc" x="219.1" y="2044.7"/><use href="#bc" x="219.8" y="2045.6"/><use href="#bc" x="220.5" y="2040.3"/><use href="#bc" x="221.2" y="2035.1"/><use href="#bc" x="221.9" y="2041.0"/><use href="#bc" x="222.6" y="2024.2"/><use href="#bc" x="223.3" y="2012.6"/><use href="#bc" x="224.0" y="2011.1"/><use href="#bc" x="224.7" y="2004.0"/><use href="#bc" x="225.4" y="2013.3"/><use href="#bc" x="226.1" y="2020.2"/><use href="#bc" x="226.8" y="2034.6"/><use href="#bc" x="227.5" y="2031.6"/><use href="#bc" x="228.2" y="2046.4"/><use href="#bc" x="228.9" y="2048.7"/><use href="#bc" x="229.6" y="2047.1"/><use href="#bc" x="230.3" y="2057.4"/><use href="#bc" x="231.0" y="2051.6"/><use href="#bc" x="231.7" y="2061.8"/><use href="#bc" x="232.4" y="2058.5"/><use href="#bc" x="233.1" y="2059.7"/><use href="#bc" x="233.8" y="2058.0"/><use href="#bc" x="234.5" y="2061.5"/><use href="#bc" x="235.2" y="2051.9"/><use href="#bc" x="235.9" y="2059.4"/><use href="#bc" x="236.6" y="2057.2"/><use href="#bc" x="236.9" y="2060.7"/><use href="#bc" x="237.6" y="2059.8"/><use href="#bc" x="238.3" y="2062.6"/><use href="#bc" x="239.0" y="2057.7"/><use href="#bc" x="239.7" y="2067.6"/><use href="#bc" x="240.4" y="2069.6"/><use href="#bc" x="241.1" y="2060.9"/><use href="#bc" x="241.8" y="2061.9"/><use href="#bc" x="242.5" y="2063.3"/><use href="#bc" x="243.2" y="2067.0"/><use href="#bc" x="243.9" y="2069.5"/><use href="#bc" x="244.6" y="2058.9"/><use href="#bc" x="245.3" y="2061.3"/><use href="#bc" x="246.0" y="2060.0"/><use href="#bc" x="246.7" y="2060.1"/><use href="#bc" x="247.4" y="2058.6"/><use href="#bc" x="248.1" y="2065.8"/><use href="#bc" x="248.8" y="2060.9"/><use href="#bc" x="249.5" y="2070.2"/><use href="#bc" x="250.2" y="2068.4"/><use href="#bc" x="250.9" y="2062.1"/><use href="#bc" x="251.6" y="2062.4"/><use href="#bc" x="252.3" y="2064.1"/><use href="#bc" x="253.0" y="2071.2"/><use href="#bc" x="253.7" y="2063.8"/><use href="#bc" x="254.4" y="2061.9"/><use href="#bc" x="255.1" y="2067.0"/><use href="#bc" x="255.8" y="2068.7"/><use href="#bc" x="256.5" y="2065.5"/><use href="#bc" x="257.2" y="2073.5"/><use href="#bc" x="257.9" y="2069.0"/><use href="#bc" x="258.6" y="2070.0"/><use href="#bc" x="259.3" y="2065.8"/><use href="#bc" x="260.0" y="2068.8"/><use href="#bc" x="260.7" y="2068.6"/><use href="#bc" x="261.4" y="2061.7"/><use href="#bc" x="262.1" y="2070.6"/><use href="#bc" x="262.8" y="2063.7"/><use href="#bc" x="263.5" y="2069.9"/><use href="#bc" x="264.2" y="2065.2"/><use href="#bc" x="264.9" y="2077.3"/><use href="#bc" x="265.6" y="2071.7"/><use href="#bc" x="266.3" y="2073.7"/><use href="#bc" x="267.0" y="2074.1"/><use href="#bc" x="267.7" y="2066.7"/><use href="#bc" x="268.4" y="2063.6"/><use href="#bc" x="269.1" y="2070.4"/><use href="#bc" x="269.8" y="2074.8"/><use href="#bc" x="270.5" y="2072.2"/><use href="#bc" x="271.2" y="2074.7"/><use href="#bc" x="271.9" y="2075.4"/><use href="#bc" x="272.6" y="2067.3"/><use href="#bc" x="273.3" y="2073.5"/><use href="#bc" x="274.0" y="2079.4"/><use href="#bc" x="274.7" y="2070.9"/><use href="#bc" x="275.4" y="2066.1"/><use href="#bc" x="276.1" y="2072.4"/><use href="#bc" x="276.8" y="2071.8"/><use href="#bc" x="277.5" y="2074.9"/><use href="#bc" x="278.2" y="2070.6"/><use href="#bc" x="278.9" y="2074.1"/><use href="#bc" x="279.6" y="2066.4"/><use href="#bc" x="280.3" y="2076.9"/><use href="#bc" x="281.0" y="2079.6"/><use href="#bc" x="281.7" y="2078.7"/><use href="#bc" x="282.4" y="2069.3"/><use href="#bc" x="283.1" y="2075.6"/><use href="#bc" x="283.8" y="2064.5"/><use href="#bc" x="284.3" y="2075.7"/><use href="#bc" x="285.0" y="2074.6"/><use href="#bc" x="285.7" y="2071.5"/><use href="#bc" x="286.4" y="2076.1"/><use href="#bc" x="287.1" y="2075.5"/><use href="#bc" x="287.8" y="2078.3"/><use href="#bc" x="288.5" y="2075.5"/><use href="#bc" x="289.2" y="2075.8"/><use href="#bc" x="289.9" y="2068.2"/><use href="#bc" x="290.6" y="2070.5"/><use href="#bc" x="291.3" y="2072.2"/><use href="#bc" x="292.0" y="2074.0"/><use href="#bc" x="292.7" y="2071.8"/><use href="#bc" x="293.4" y="2075.6"/><use href="#bc" x="294.1" y="2066.0"/><use href="#bc" x="294.8" y="2066.7"/><use href="#bc" x="295.5" y="2067.4"/><use href="#bc" x="296.2" y="2065.7"/><use href="#bc" x="296.9" y="2069.0"/><use href="#bc" x="297.6" y="2066.9"/><use href="#bc" x="298.3" y="2075.4"/><use href="#bc" x="299.0" y="2071.2"/><use href="#bc" x="299.7" y="2077.5"/><use href="#bc" x="300.4" y="2074.8"/><use href="#bc" x="301.1" y="2080.9"/><use href="#bc" x="301.8" y="2071.8"/><use href="#bc" x="302.5" y="2078.8"/><use href="#bc" x="303.2" y="2075.9"/><use href="#bc" x="303.9" y="2078.4"/><use href="#bc" x="304.6" y="2081.9"/><use href="#bc" x="305.3" y="2074.2"/><use href="#bc" x="306.0" y="2073.7"/><use href="#bc" x="306.7" y="2075.0"/><use href="#bc" x="307.4" y="2079.4"/><use href="#bc" x="308.1" y="2072.2"/><use href="#bc" x="308.3" y="2079.0"/><use href="#bc" x="309.0" y="2074.4"/><use href="#bc" x="309.7" y="2075.0"/><use href="#bc" x="310.4" y="2077.7"/><use href="#bc" x="311.1" y="2080.4"/><use href="#bc" x="311.8" y="2077.1"/><use href="#bc" x="312.5" y="2077.6"/><use href="#bc" x="313.2" y="2079.2"/><use href="#bc" x="313.9" y="2078.5"/><use href="#bc" x="314.6" y="2070.4"/><use href="#bc" x="315.3" y="2078.1"/><use href="#bc" x="316.0" y="2079.9"/><use href="#bc" x="316.7" y="2083.4"/><use href="#bc" x="317.4" y="2086.7"/><use href="#bc" x="318.1" y="2082.1"/><use href="#bc" x="318.8" y="2080.1"/><use href="#bc" x="319.5" y="2076.6"/><use href="#bc" x="320.2" y="2080.2"/><use href="#bc" x="320.9" y="2082.6"/><use href="#bc" x="321.6" y="2084.2"/><use href="#bc" x="322.3" y="2076.9"/><use href="#bc" x="323.0" y="2080.7"/><use href="#bc" x="323.7" y="2082.6"/><use href="#bc" x="324.4" y="2086.0"/><use href="#bc" x="325.1" y="2080.4"/><use href="#bc" x="325.8" y="2077.4"/><use href="#bc" x="326.5" y="2076.6"/><use href="#bc" x="327.2" y="2077.1"/><use href="#bc" x="327.9" y="2075.2"/><use href="#bc" x="328.6" y="2078.9"/><use href="#bc" x="329.3" y="2077.7"/><use href="#bc" x="330.0" y="2073.7"/><use href="#bc" x="330.7" y="2071.7"/><use href="#bc" x="331.4" y="2061.7"/><use href="#bc" x="332.1" y="2059.7"/><use href="#bc" x="332.8" y="2052.6"/><use href="#bc" x="333.5" y="2050.9"/><use href="#bc" x="334.2" y="2054.3"/><use href="#bc" x="334.9" y="2052.1"/><use href="#bc" x="335.6" y="2049.9"/><use href="#bc" x="336.3" y="2060.1"/><use href="#bc" x="337.0" y="2063.2"/><use href="#bc" x="337.7" y="2064.5"/><use href="#bc" x="338.4" y="2070.0"/><use href="#bc" x="339.1" y="2078.3"/><use href="#bc" x="339.8" y="2082.3"/><use href="#bc" x="340.5" y="2075.9"/><use href="#bc" x="341.2" y="2081.5"/><use href="#bc" x="341.9" y="2082.4"/><use href="#bc" x="342.6" y="2074.5"/><use href="#bc" x="343.3" y="2078.3"/><use href="#bc" x="344.0" y="2078.1"/><use href="#bc" x="344.7" y="2078.6"/><use href="#bc" x="345.4" y="2072.3"/><use href="#bc" x="346.1" y="2076.1"/><use href="#bc" x="346.1" y="2080.9"/><use href="#bc" x="346.8" y="2081.1"/><use href="#bc" x="347.5" y="2082.4"/><use href="#bc" x="348.2" y="2074.4"/><use href="#bc" x="348.9" y="2081.1"/><use href="#bc" x="349.6" y="2076.0"/><use href="#bc" x="350.3" y="2068.1"/><use href="#bc" x="351.0" y="2074.1"/><use href="#bc" x="351.7" y="2069.0"/><use href="#bc" x="352.4" y="2070.4"/><use href="#bc" x="353.1" y="2066.6"/><use href="#bc" x="353.8" y="2069.1"/><use href="#bc" x="354.5" y="2063.6"/><use href="#bc" x="355.2" y="2059.4"/><use href="#bc" x="355.9" y="2060.8"/><use href="#bc" x="356.6" y="2055.3"/><use href="#bc" x="357.3" y="2049.5"/><use href="#bc" x="358.0" y="2051.3"/><use href="#bc" x="358.7" y="2041.3"/><use href="#bc" x="359.4" y="2035.6"/><use href="#bc" x="360.1" y="2030.4"/><use href="#bc" x="360.8" y="2021.2"/><use href="#bc" x="361.5" y="2017.4"/><use href="#bc" x="362.2" y="2017.7"/><use href="#bc" x="362.9" y="1999.8"/><use href="#bc" x="363.6" y="1993.2"/><use href="#bc" x="364.3" y="1978.6"/><use href="#bc" x="365.0" y="1968.2"/><use href="#bc" x="365.7" y="1961.7"/><use href="#bc" x="366.4" y="1944.4"/><use href="#bc" x="367.1" y="1922.5"/><use href="#bc" x="367.8" y="1905.5"/><use href="#bc" x="368.5" y="1881.5"/><use href="#bc" x="369.2" y="1857.9"/><use href="#bc" x="369.9" y="1830.9"/><use href="#bc" x="370.6" y="1801.3"/><use href="#bc" x="371.3" y="1772.1"/><use href="#bc" x="372.0" y="1735.8"/><use href="#bc" x="372.7" y="1716.9"/><use href="#bc" x="373.4" y="1753.8"/><use href="#bc" x="374.3" y="1794.0"/><use href="#bc" x="375.0" y="1828.2"/><use href="#bc" x="375.7" y="1852.3"/><use href="#bc" x="376.4" y="1882.0"/><use href="#bc" x="377.1" y="1902.1"/><use href="#bc" x="377.8" y="1921.4"/><use href="#bc" x="378.5" y="1934.1"/><use href="#bc" x="379.2" y="1943.3"/><use href="#bc" x="379.9" y="1963.9"/><use href="#bc" x="380.6" y="1974.2"/><use href="#bc" x="381.3" y="1972.6"/><use href="#bc" x="382.0" y="1982.7"/><use href="#bc" x="382.7" y="1989.0"/><use href="#bc" x="383.4" y="1983.1"/><use href="#bc" x="384.1" y="1992.5"/><use href="#bc" x="384.8" y="1986.1"/><use href="#bc" x="385.5" y="1985.6"/><use href="#bc" x="386.2" y="1997.8"/><use href="#bc" x="386.9" y="2001.6"/><use href="#bc" x="387.6" y="2008.0"/><use href="#bc" x="388.3" y="2023.2"/><use href="#bc" x="389.0" y="2024.4"/><use href="#bc" x="389.7" y="2045.7"/><use href="#bc" x="390.4" y="2045.6"/><use href="#bc" x="391.1" y="2056.1"/><use href="#bc" x="391.8" y="2059.6"/><use href="#bc" x="392.5" y="2066.8"/><use href="#bc" x="393.2" y="2071.8"/><use href="#bc" x="393.9" y="2069.4"/><use href="#bc" x="394.6" y="2076.8"/><use href="#bc" x="395.3" y="2075.4"/><use href="#bc" x="396.0" y="2075.8"/><use href="#bc" x="396.7" y="2078.7"/><use href="#bc" x="397.4" y="2077.5"/><use href="#bc" x="398.1" y="2079.2"/><use href="#bc" x="398.6" y="2085.4"/><use href="#bc" x="399.3" y="2082.8"/><use href="#bc" x="400.0" y="2087.6"/><use href="#bc" x="400.7" y="2086.2"/><use href="#bc" x="401.4" y="2082.3"/><use href="#bc" x="402.1" y="2080.2"/><use href="#bc" x="402.8" y="2084.5"/><use href="#bc" x="403.5" y="2087.9"/><use href="#bc" x="404.2" y="2087.5"/><use href="#bc" x="404.9" y="2085.4"/><use href="#bc" x="405.6" y="2091.4"/><use href="#bc" x="406.3" y="2083.3"/><use href="#bc" x="407.0" y="2085.1"/><use href="#bc" x="407.7" y="2089.6"/><use href="#bc" x="408.4" y="2096.2"/><use href="#bc" x="409.1" y="2091.0"/><use href="#bc" x="409.8" y="2086.9"/><use href="#bc" x="410.5" y="2091.9"/><use href="#bc" x="411.2" y="2092.4"/><use href="#bc" x="411.9" y="2093.3"/><use href="#bc" x="412.6" y="2089.4"/><use href="#bc" x="413.3" y="2088.4"/><use href="#bc" x="414.0" y="2091.3"/><use href="#bc" x="414.7" y="2092.3"/><use href="#bc" x="415.4" y="2096.0"/><use href="#bc" x="415.9" y="2097.5"/><use href="#bc" x="416.6" y="2089.1"/><use href="#bc" x="417.3" y="2089.8"/><use href="#bc" x="418.0" y="2091.2"/><use href="#bc" x="418.7" y="2090.7"/><use href="#bc" x="419.4" y="2092.8"/><use href="#bc" x="420.1" y="2092.7"/><use href="#bc" x="420.8" y="2091.9"/><use href="#bc" x="421.5" y="2094.8"/><use href="#bc" x="422.2" y="2089.9"/><use href="#bc" x="422.9" y="2086.6"/><use href="#bc" x="423.6" y="2084.3"/><use href="#bc" x="424.3" y="2084.9"/><use href="#bc" x="425.0" y="2083.8"/><use href="#bc" x="425.7" y="2080.2"/><use href="#bc" x="426.4" y="2086.7"/><use href="#bc" x="427.1" y="2084.6"/><use href="#bc" x="427.8" y="2082.7"/><use href="#bc" x="428.5" y="2081.7"/><use href="#bc" x="429.2" y="2080.6"/><use href="#bc" x="429.9" y="2083.5"/><use href="#bc" x="430.6" y="2092.7"/><use href="#bc" x="431.3" y="2081.8"/><use href="#bc" x="432.0" y="2089.4"/><use href="#bc" x="432.7" y="2091.8"/><use href="#bc" x="433.4" y="2090.4"/><use href="#bc" x="434.1" y="2089.3"/><use href="#bc" x="434.8" y="2092.4"/><use href="#bc" x="435.5" y="2086.9"/><use href="#bc" x="436.2" y="2091.5"/><use href="#bc" x="436.9" y="2093.7"/><use href="#bc" x="437.6" y="2086.2"/><use href="#bc" x="438.3" y="2086.3"/><use href="#bc" x="439.0" y="2088.4"/><use href="#bc" x="439.7" y="2090.2"/><use href="#bc" x="439.9" y="2091.0"/><use href="#bc" x="440.6" y="2088.2"/><use href="#bc" x="441.3" y="2083.4"/><use href="#bc" x="442.0" y="2081.1"/><use href="#bc" x="442.7" y="2083.7"/><use href="#bc" x="443.4" y="2082.7"/><use href="#bc" x="444.1" y="2076.9"/><use href="#bc" x="444.8" y="2078.4"/><use href="#bc" x="445.5" y="2077.2"/><use href="#bc" x="446.2" y="2076.9"/><use href="#bc" x="446.9" y="2068.6"/><use href="#bc" x="447.9" y="2068.8"/><use href="#bc" x="448.6" y="2060.6"/><use href="#bc" x="449.3" y="2058.9"/><use href="#bc" x="450.0" y="2055.6"/><use href="#bc" x="450.7" y="2055.4"/><use href="#bc" x="451.4" y="2055.0"/><use href="#bc" x="452.1" y="2040.5"/><use href="#bc" x="452.8" y="2034.5"/><use href="#bc" x="453.5" y="2028.4"/><use href="#bc" x="454.2" y="2013.5"/><use href="#bc" x="454.9" y="2010.0"/><use href="#bc" x="455.6" y="1993.9"/><use href="#bc" x="456.3" y="1990.1"/><use href="#bc" x="457.0" y="1976.4"/><use href="#bc" x="457.7" y="1959.1"/><use href="#bc" x="458.4" y="1939.0"/><use href="#bc" x="459.1" y="1927.4"/><use href="#bc" x="459.8" y="1914.4"/><use href="#bc" x="460.5" y="1933.6"/><use href="#bc" x="461.2" y="1952.4"/><use href="#bc" x="461.9" y="1961.9"/><use href="#bc" x="462.6" y="1981.8"/><use href="#bc" x="463.3" y="1995.9"/><use href="#bc" x="464.0" y="2005.4"/><use href="#bc" x="464.7" y="2014.9"/><use href="#bc" x="465.4" y="2021.0"/><use href="#bc" x="466.1" y="2033.4"/><use href="#bc" x="466.8" y="2039.5"/><use href="#bc" x="467.5" y="2045.4"/><use href="#bc" x="468.2" y="2049.7"/><use href="#bc" x="468.9" y="2058.7"/><use href="#bc" x="469.6" y="2064.4"/><use href="#bc" x="470.3" y="2066.3"/><use href="#bc" x="471.0" y="2071.4"/><use href="#bc" x="471.7" y="2075.9"/><use href="#bc" x="472.1" y="2078.5"/><use href="#bc" x="472.8" y="2077.7"/><use href="#bc" x="473.5" y="2079.0"/><use href="#bc" x="474.2" y="2080.8"/><use href="#bc" x="474.9" y="2084.0"/><use href="#bc" x="475.6" y="2087.3"/><use href="#bc" x="476.3" y="2089.9"/><use href="#bc" x="477.0" y="2087.8"/><use href="#bc" x="477.7" y="2090.7"/><use href="#bc" x="478.4" y="2088.9"/><use href="#bc" x="479.1" y="2095.9"/><use href="#bc" x="479.8" y="2092.6"/><use href="#bc" x="480.5" y="2095.4"/><use href="#bc" x="481.2" y="2093.4"/><use href="#bc" x="481.9" y="2095.3"/><use href="#bc" x="482.6" y="2094.9"/><use href="#bc" x="483.3" y="2101.7"/><use href="#bc" x="484.0" y="2098.8"/><use href="#bc" x="484.7" y="2097.9"/><use href="#bc" x="485.4" y="2096.4"/><use href="#bc" x="486.1" y="2097.6"/><use href="#bc" x="486.8" y="2101.1"/><use href="#bc" x="487.5" y="2104.2"/><use href="#bc" x="488.2" y="2096.6"/><use href="#bc" x="488.9" y="2098.2"/><use href="#bc" x="489.6" y="2100.4"/><use href="#bc" x="490.3" y="2099.5"/><use href="#bc" x="491.0" y="2097.1"/><use href="#bc" x="491.7" y="2101.6"/><use href="#bc" x="492.4" y="2103.6"/><use href="#bc" x="493.1" y="2097.9"/><use href="#bc" x="493.8" y="2102.6"/><use href="#bc" x="494.5" y="2104.6"/><use href="#bc" x="495.2" y="2104.8"/><use href="#bc" x="495.9" y="2101.4"/><use href="#bc" x="496.6" y="2108.4"/><use href="#bc" x="497.3" y="2104.1"/><use href="#bc" x="498.0" y="2100.8"/><use href="#bc" x="498.7" y="2105.4"/><use href="#bc" x="499.4" y="2100.2"/><use href="#bc" x="500.1" y="2105.3"/><use href="#bc" x="500.8" y="2100.0"/><use href="#bc" x="501.5" y="2105.2"/><use href="#bc" x="502.2" y="2101.8"/><use href="#bc" x="502.9" y="2106.2"/><use href="#bc" x="503.6" y="2105.3"/><use href="#bc" x="504.3" y="2104.6"/><use href="#bc" x="505.0" y="2103.7"/><use href="#bc" x="505.7" y="2106.3"/><use href="#bc" x="506.4" y="2099.2"/><use href="#bc" x="507.1" y="2104.8"/><use href="#bc" x="507.8" y="2104.8"/><use href="#bc" x="508.5" y="2105.2"/><use href="#bc" x="509.2" y="2105.9"/><use href="#bc" x="509.9" y="2113.2"/><use href="#bc" x="510.6" y="2104.3"/><use href="#bc" x="511.3" y="2106.0"/><use href="#bc" x="512.0" y="2104.4"/><use href="#bc" x="512.7" y="2108.0"/><use href="#bc" x="513.4" y="2099.1"/><use href="#bc" x="514.1" y="2108.4"/><use href="#bc" x="514.8" y="2102.5"/><use href="#bc" x="515.5" y="2098.6"/><use href="#bc" x="516.2" y="2101.6"/><use href="#bc" x="516.9" y="2103.9"/><use href="#bc" x="517.6" y="2104.9"/><use href="#bc" x="518.3" y="2104.3"/><use href="#bc" x="519.0" y="2106.5"/><use href="#bc" x="519.7" y="2104.4"/><use href="#bc" x="520.4" y="2104.4"/><use href="#bc" x="521.1" y="2099.2"/><use href="#bc" x="521.8" y="2105.9"/><use href="#bc" x="522.5" y="2107.2"/><use href="#bc" x="523.2" y="2103.7"/><use href="#bc" x="523.9" y="2100.0"/><use href="#bc" x="524.6" y="2101.4"/><use href="#bc" x="525.3" y="2109.0"/><use href="#bc" x="526.0" y="2103.3"/><use href="#bc" x="526.7" y="2103.2"/><use href="#bc" x="527.4" y="2102.8"/><use href="#bc" x="528.1" y="2106.6"/><use href="#bc" x="528.8" y="2103.5"/><use href="#bc" x="529.5" y="2102.8"/><use href="#bc" x="530.2" y="2101.2"/><use href="#bc" x="530.9" y="2104.8"/><use href="#bc" x="531.6" y="2107.6"/><use href="#bc" x="532.3" y="2104.7"/><use href="#bc" x="533.0" y="2107.3"/><use href="#bc" x="533.7" y="2105.6"/><use href="#bc" x="534.4" y="2105.5"/><use href="#bc" x="535.1" y="2105.6"/><use href="#bc" x="535.8" y="2105.3"/><use href="#bc" x="536.5" y="2107.8"/><use href="#bc" x="537.2" y="2106.5"/><use href="#bc" x="537.9" y="2103.8"/><use href="#bc" x="538.6" y="2105.6"/><use href="#bc" x="539.3" y="2105.1"/><use href="#bc" x="540.0" y="2106.5"/><use href="#bc" x="540.7" y="2105.8"/><use href="#bc" x="541.4" y="2106.4"/><use href="#bc" x="542.1" y="2101.6"/><use href="#bc" x="542.8" y="2106.3"/><use href="#bc" x="543.5" y="2108.6"/><use href="#bc" x="544.2" y="2102.0"/><use href="#bc" x="544.9" y="2109.4"/><use href="#bc" x="545.6" y="2106.1"/><use href="#bc" x="546.3" y="2104.8"/><use href="#bc" x="547.0" y="2100.8"/><use href="#bc" x="547.7" y="2108.1"/><use href="#bc" x="548.4" y="2102.9"/><use href="#bc" x="549.1" y="2104.1"/><use href="#bc" x="549.8" y="2106.7"/><use href="#bc" x="550.5" y="2102.7"/><use href="#bc" x="551.2" y="2102.8"/><use href="#bc" x="551.9" y="2102.4"/><use href="#bc" x="552.6" y="2105.0"/><use href="#bc" x="553.3" y="2106.7"/><use href="#bc" x="554.0" y="2106.2"/><use href="#bc" x="554.7" y="2106.2"/><use href="#bc" x="555.4" y="2104.3"/><use href="#bc" x="556.1" y="2105.5"/><use href="#bc" x="556.8" y="2103.4"/><use href="#bc" x="557.5" y="2110.1"/><use href="#bc" x="558.2" y="2105.6"/><use href="#bc" x="558.9" y="2100.2"/><use href="#bc" x="559.6" y="2102.4"/><use href="#bc" x="560.3" y="2109.0"/><use href="#bc" x="561.0" y="2101.6"/><use href="#bc" x="561.7" y="2103.9"/><use href="#bc" x="562.4" y="2105.9"/><use href="#bc" x="563.1" y="2102.1"/><use href="#bc" x="563.8" y="2107.5"/><use href="#bc" x="564.3" y="2109.0"/><use href="#bc" x="565.0" y="2102.6"/><use href="#bc" x="565.7" y="2107.4"/><use href="#bc" x="566.4" y="2102.2"/><use href="#bc" x="567.1" y="2101.8"/><use href="#bc" x="567.8" y="2104.7"/><use href="#bc" x="568.5" y="2104.3"/><use href="#bc" x="569.2" y="2101.8"/><use href="#bc" x="569.9" y="2104.8"/><use href="#bc" x="570.6" y="2098.3"/><use href="#bc" x="571.3" y="2098.8"/><use href="#bc" x="572.0" y="2097.0"/><use href="#bc" x="572.7" y="2100.0"/><use href="#bc" x="573.4" y="2098.5"/><use href="#bc" x="573.9" y="2096.9"/><use href="#bc" x="574.6" y="2090.3"/><use href="#bc" x="575.3" y="2092.6"/><use href="#bc" x="576.0" y="2092.6"/><use href="#bc" x="576.7" y="2087.4"/><use href="#bc" x="577.4" y="2089.9"/><use href="#bc" x="578.1" y="2094.2"/><use href="#bc" x="578.8" y="2094.8"/><use href="#bc" x="579.5" y="2093.6"/><use href="#bc" x="580.2" y="2093.4"/><use href="#bc" x="580.9" y="2091.1"/><use href="#bc" x="581.6" y="2087.8"/><use href="#bc" x="582.3" y="2083.4"/><use href="#bc" x="583.0" y="2077.1"/><use href="#bc" x="583.7" y="2074.1"/><use href="#bc" x="584.4" y="2069.6"/><use href="#bc" x="585.1" y="2073.7"/><use href="#bc" x="585.8" y="2068.1"/><use href="#bc" x="586.5" y="2069.4"/><use href="#bc" x="587.2" y="2072.8"/><use href="#bc" x="587.9" y="2077.9"/><use href="#bc" x="588.6" y="2082.6"/><use href="#bc" x="589.3" y="2089.4"/><use href="#bc" x="590.0" y="2092.1"/><use href="#bc" x="590.7" y="2097.5"/><use href="#bc" x="591.4" y="2096.4"/><use href="#bc" x="592.1" y="2100.9"/><use href="#bc" x="592.8" y="2103.7"/><use href="#bc" x="593.5" y="2099.6"/><use href="#bc" x="594.2" y="2103.6"/><use href="#bc" x="594.9" y="2104.3"/><use href="#bc" x="595.6" y="2103.3"/><use href="#bc" x="596.3" y="2103.2"/><use href="#bc" x="597.0" y="2100.0"/><use href="#bc" x="597.7" y="2107.7"/><use href="#bc" x="598.1" y="2102.6"/><use href="#bc" x="598.8" y="2102.0"/><use href="#bc" x="599.5" y="2106.9"/><use href="#bc" x="600.2" y="2100.8"/><use href="#bc" x="600.9" y="2107.9"/><use href="#bc" x="601.6" y="2106.7"/><use href="#bc" x="602.3" y="2107.2"/><use href="#bc" x="603.0" y="2105.3"/><use href="#bc" x="603.7" y="2102.8"/><use href="#bc" x="604.4" y="2101.2"/><use href="#bc" x="605.1" y="2109.6"/><use href="#bc" x="605.8" y="2104.8"/><use href="#bc" x="606.5" y="2104.8"/><use href="#bc" x="607.2" y="2110.1"/><use href="#bc" x="607.9" y="2104.6"/><use href="#bc" x="608.6" y="2105.6"/><use href="#bc" x="609.3" y="2105.6"/><use href="#bc" x="610.0" y="2105.9"/><use href="#bc" x="610.7" y="2103.7"/><use href="#bc" x="611.4" y="2104.9"/><use href="#bc" x="612.1" y="2109.6"/><use href="#bc" x="612.8" y="2108.3"/><use href="#bc" x="613.5" y="2098.9"/><use href="#bc" x="614.2" y="2101.5"/><use href="#bc" x="614.9" y="2107.3"/><use href="#bc" x="615.6" y="2106.2"/><use href="#bc" x="616.3" y="2105.5"/><use href="#bc" x="617.0" y="2109.1"/><use href="#bc" x="617.7" y="2102.0"/><use href="#bc" x="618.4" y="2109.5"/><use href="#bc" x="619.1" y="2106.8"/><use href="#bc" x="619.8" y="2107.9"/><use href="#bc" x="620.5" y="2107.1"/><use href="#bc" x="621.2" y="2108.6"/><use href="#bc" x="621.9" y="2105.9"/><use href="#bc" x="622.6" y="2105.1"/><use href="#bc" x="623.3" y="2108.4"/><use href="#bc" x="624.0" y="2106.9"/><use href="#bc" x="624.7" y="2103.3"/><use href="#bc" x="625.4" y="2109.8"/><use href="#bc" x="626.1" y="2109.5"/><use href="#bc" x="626.8" y="2110.0"/><use href="#bc" x="627.5" y="2106.6"/><use href="#bc" x="628.2" y="2107.2"/><use href="#bc" x="628.9" y="2105.3"/><use href="#bc" x="629.6" y="2103.8"/><use href="#bc" x="630.3" y="2106.4"/><use href="#bc" x="631.0" y="2106.6"/><use href="#bc" x="631.7" y="2104.4"/><use href="#bc" x="632.4" y="2110.5"/><use href="#bc" x="633.1" y="2101.8"/><use href="#bc" x="633.8" y="2103.7"/><use href="#bc" x="634.5" y="2103.9"/><use href="#bc" x="635.4" y="2108.6"/><use href="#bc" x="636.1" y="2104.5"/><use href="#bc" x="636.8" y="2104.0"/><use href="#bc" x="637.5" y="2102.2"/><use href="#bc" x="638.2" y="2102.0"/><use href="#bc" x="638.9" y="2100.0"/><use href="#bc" x="639.6" y="2104.8"/><use href="#bc" x="640.3" y="2102.3"/><use href="#bc" x="641.0" y="2101.3"/><use href="#bc" x="641.7" y="2094.4"/><use href="#bc" x="642.4" y="2098.8"/><use href="#bc" x="643.1" y="2085.5"/><use href="#bc" x="643.8" y="2077.5"/><use href="#bc" x="644.5" y="2075.9"/><use href="#bc" x="645.2" y="2070.9"/><use href="#bc" x="645.9" y="2067.1"/><use href="#bc" x="646.6" y="2059.2"/><use href="#bc" x="647.3" y="2062.5"/><use href="#bc" x="648.0" y="2067.6"/><use href="#bc" x="648.7" y="2065.8"/><use href="#bc" x="649.4" y="2072.0"/><use href="#bc" x="650.1" y="2075.7"/><use href="#bc" x="650.8" y="2086.2"/><use href="#bc" x="651.5" y="2092.6"/><use href="#bc" x="652.2" y="2096.4"/><use href="#bc" x="652.9" y="2099.7"/><use href="#bc" x="653.6" y="2103.4"/><use href="#bc" x="654.3" y="2101.9"/><use href="#bc" x="655.0" y="2105.1"/><use href="#bc" x="655.7" y="2101.1"/><use href="#bc" x="656.4" y="2102.1"/><use href="#bc" x="657.1" y="2105.1"/><use href="#bc" x="657.8" y="2102.7"/><use href="#bc" x="658.5" y="2106.4"/><use href="#bc" x="659.2" y="2108.5"/><use href="#bc" x="659.7" y="2106.2"/><use href="#bc" x="660.4" y="2103.4"/><use href="#bc" x="661.1" y="2103.3"/><use href="#bc" x="661.8" y="2108.6"/><use href="#bc" x="662.5" y="2103.1"/><use href="#bc" x="663.2" y="2105.2"/><use href="#bc" x="663.6" y="2104.3"/><use href="#bc" x="664.3" y="2104.9"/><use href="#bc" x="665.0" y="2107.2"/><use href="#bc" x="665.7" y="2102.8"/><use href="#bc" x="666.4" y="2100.2"/><use href="#bc" x="667.1" y="2106.7"/><use href="#bc" x="667.8" y="2102.6"/><use href="#bc" x="668.5" y="2102.5"/><use href="#bc" x="669.2" y="2098.4"/><use href="#bc" x="669.9" y="2097.1"/><use href="#bc" x="670.6" y="2093.5"/><use href="#bc" x="671.3" y="2087.2"/><use href="#bc" x="672.0" y="2074.4"/><use href="#bc" x="672.7" y="2063.8"/><use href="#bc" x="673.4" y="2054.3"/><use href="#bc" x="674.1" y="2043.2"/><use href="#bc" x="674.8" y="2036.7"/><use href="#bc" x="675.5" y="2032.0"/><use href="#bc" x="676.2" y="2033.0"/><use href="#bc" x="676.9" y="2049.5"/><use href="#bc" x="677.6" y="2061.7"/><use href="#bc" x="678.3" y="2072.5"/><use href="#bc" x="679.0" y="2084.6"/><use href="#bc" x="679.7" y="2090.2"/><use href="#bc" x="680.4" y="2092.7"/><use href="#bc" x="681.1" y="2100.2"/><use href="#bc" x="681.8" y="2100.2"/><use href="#bc" x="682.5" y="2105.4"/><use href="#bc" x="683.2" y="2104.1"/><use href="#bc" x="683.9" y="2105.5"/><use href="#bc" x="684.6" y="2105.5"/><use href="#bc" x="685.3" y="2105.6"/><use href="#bc" x="686.0" y="2102.1"/><use href="#bc" x="686.7" y="2106.3"/><use href="#bc" x="687.4" y="2100.8"/><use href="#bc" x="687.7" y="2107.8"/><use href="#bc" x="688.4" y="2109.3"/><use href="#bc" x="689.1" y="2112.1"/><use href="#bc" x="689.8" y="2108.1"/><use href="#bc" x="690.5" y="2105.5"/><use href="#bc" x="691.2" y="2103.5"/><use href="#bc" x="691.9" y="2112.4"/><use href="#bc" x="692.6" y="2104.1"/><use href="#bc" x="693.3" y="2110.0"/><use href="#bc" x="694.0" y="2102.1"/><use href="#bc" x="694.7" y="2107.8"/><use href="#bc" x="695.4" y="2109.7"/><use href="#bc" x="696.1" y="2108.9"/><use href="#bc" x="696.8" y="2108.1"/><use href="#bc" x="697.5" y="2106.2"/><use href="#bc" x="698.2" y="2106.0"/><use href="#bc" x="698.9" y="2110.8"/><use href="#bc" x="699.6" y="2109.5"/><use href="#bc" x="700.3" y="2108.0"/><use href="#bc" x="701.0" y="2109.0"/><use href="#bc" x="701.7" y="2106.2"/><use href="#bc" x="702.4" y="2111.1"/><use href="#bc" x="703.1" y="2111.7"/><use href="#bc" x="703.8" y="2106.7"/><use href="#bc" x="704.5" y="2108.9"/><use href="#bc" x="705.2" y="2111.3"/><use href="#bc" x="705.9" y="2107.1"/><use href="#bc" x="706.6" y="2113.8"/><use href="#bc" x="707.3" y="2112.5"/><use href="#bc" x="708.0" y="2108.1"/><use href="#bc" x="708.7" y="2111.3"/><use href="#bc" x="709.4" y="2113.0"/><use href="#bc" x="710.1" y="2105.7"/><use href="#bc" x="710.8" y="2110.4"/><use href="#bc" x="711.5" y="2108.5"/><use href="#bc" x="712.2" y="2108.4"/><use href="#bc" x="712.9" y="2110.7"/><use href="#bc" x="713.6" y="2107.8"/><use href="#bc" x="714.3" y="2105.5"/><use href="#bc" x="715.0" y="2105.4"/><use href="#bc" x="715.7" y="2109.0"/><use href="#bc" x="716.4" y="2110.6"/><use href="#bc" x="717.1" y="2109.0"/><use href="#bc" x="717.8" y="2108.7"/><use href="#bc" x="718.5" y="2109.0"/><use href="#bc" x="719.2" y="2112.3"/><use href="#bc" x="719.9" y="2110.4"/><use href="#bc" x="720.6" y="2107.2"/><use href="#bc" x="721.3" y="2108.3"/><use href="#bc" x="722.0" y="2112.0"/><use href="#bc" x="722.7" y="2107.5"/><use href="#bc" x="723.4" y="2108.0"/><use href="#bc" x="724.1" y="2108.9"/><use href="#bc" x="724.8" y="2106.3"/><use href="#bc" x="725.5" y="2111.2"/><use href="#bc" x="726.2" y="2103.4"/><use href="#bc" x="726.9" y="2112.5"/><use href="#bc" x="727.6" y="2107.8"/><use href="#bc" x="728.3" y="2105.7"/><use href="#bc" x="729.0" y="2109.5"/><use href="#bc" x="729.7" y="2104.5"/><use href="#bc" x="730.4" y="2110.1"/><use href="#bc" x="731.1" y="2110.7"/><use href="#bc" x="731.8" y="2107.3"/><use href="#bc" x="732.5" y="2107.7"/><use href="#bc" x="733.2" y="2111.0"/><use href="#bc" x="733.9" y="2107.0"/><use href="#bc" x="734.6" y="2108.7"/><use href="#bc" x="735.3" y="2109.5"/><use href="#bc" x="736.0" y="2112.5"/><use href="#bc" x="736.7" y="2107.3"/><use href="#bc" x="737.4" y="2108.6"/><use href="#bc" x="738.1" y="2111.4"/><use href="#bc" x="738.8" y="2102.1"/><use href="#bc" x="739.5" y="2107.8"/><use href="#bc" x="740.2" y="2103.7"/><use href="#bc" x="740.9" y="2103.9"/><use href="#bc" x="741.6" y="2113.4"/><use href="#bc" x="742.3" y="2109.0"/><use href="#bc" x="743.0" y="2112.2"/><use href="#bc" x="743.7" y="2107.9"/><use href="#bc" x="744.4" y="2109.8"/><use href="#bc" x="745.1" y="2107.4"/><use href="#bc" x="745.8" y="2107.0"/><use href="#bc" x="746.5" y="2108.2"/><use href="#bc" x="747.2" y="2108.7"/><use href="#bc" x="747.9" y="2112.2"/><use href="#bc" x="748.6" y="2107.8"/><use href="#bc" x="749.3" y="2109.2"/><use href="#bc" x="750.0" y="2107.6"/><use href="#bc" x="750.7" y="2108.5"/><use href="#bc" x="751.4" y="2104.8"/><use href="#bc" x="752.1" y="2110.7"/><use href="#bc" x="752.6" y="2106.6"/><use href="#bc" x="753.3" y="2107.9"/><use href="#bc" x="754.0" y="2107.1"/><use href="#bc" x="754.7" y="2109.8"/><use href="#bc" x="755.4" y="2108.4"/><use href="#bc" x="756.1" y="2106.7"/><use href="#bc" x="756.8" y="2106.5"/><use href="#bc" x="757.5" y="2106.1"/><use href="#bc" x="758.2" y="2105.9"/><use href="#bc" x="758.9" y="2103.7"/><use href="#bc" x="759.6" y="2103.5"/><use href="#bc" x="760.3" y="2101.6"/><use href="#bc" x="761.0" y="2095.9"/><use href="#bc" x="761.7" y="2087.5"/><use href="#bc" x="762.4" y="2091.5"/><use href="#bc" x="763.1" y="2089.3"/><use href="#bc" x="763.8" y="2081.0"/><use href="#bc" x="764.5" y="2080.4"/><use href="#bc" x="765.2" y="2077.8"/><use href="#bc" x="765.9" y="2087.6"/><use href="#bc" x="766.6" y="2086.7"/><use href="#bc" x="767.3" y="2097.4"/><use href="#bc" x="768.0" y="2090.2"/><use href="#bc" x="768.7" y="2099.5"/><use href="#bc" x="769.4" y="2103.4"/><use href="#bc" x="770.1" y="2102.6"/><use href="#bc" x="770.8" y="2103.1"/><use href="#bc" x="771.5" y="2106.7"/><use href="#bc" x="772.2" y="2105.5"/><use href="#bc" x="772.9" y="2106.5"/><use href="#bc" x="773.6" y="2107.6"/><use href="#bc" x="774.3" y="2106.6"/><use href="#bc" x="775.0" y="2107.6"/><use href="#bc" x="775.7" y="2110.3"/><use href="#bc" x="776.4" y="2107.5"/><use href="#bc" x="776.6" y="2108.9"/><use href="#bc" x="777.3" y="2106.7"/><use href="#bc" x="778.3" y="2110.9"/><use href="#bc" x="779.0" y="2105.6"/><use href="#bc" x="779.7" y="2111.1"/><use href="#bc" x="780.4" y="2101.4"/><use href="#bc" x="781.1" y="2106.6"/><use href="#bc" x="781.8" y="2104.9"/><use href="#bc" x="782.5" y="2111.2"/><use href="#bc" x="783.2" y="2109.3"/><use href="#bc" x="783.9" y="2105.2"/><use href="#bc" x="784.6" y="2106.6"/><use href="#bc" x="785.3" y="2110.7"/><use href="#bc" x="786.0" y="2106.5"/><use href="#bc" x="786.7" y="2106.9"/><use href="#bc" x="787.4" y="2100.6"/><use href="#bc" x="788.1" y="2099.2"/><use href="#bc" x="788.8" y="2102.9"/><use href="#bc" x="789.5" y="2106.2"/><use href="#bc" x="790.2" y="2099.1"/><use href="#bc" x="790.9" y="2102.5"/><use href="#bc" x="791.6" y="2100.0"/><use href="#bc" x="792.3" y="2106.8"/><use href="#bc" x="793.0" y="2104.1"/><use href="#bc" x="793.7" y="2105.4"/><use href="#bc" x="794.4" y="2102.8"/><use href="#bc" x="795.1" y="2107.1"/><use href="#bc" x="795.8" y="2109.1"/><use href="#bc" x="796.5" y="2112.4"/><use href="#bc" x="797.2" y="2106.4"/><use href="#bc" x="797.9" y="2111.8"/><use href="#bc" x="798.6" y="2108.7"/><use href="#bc" x="799.3" y="2108.9"/><use href="#bc" x="800.0" y="2107.4"/><use href="#bc" x="800.7" y="2105.6"/><use href="#bc" x="801.4" y="2106.8"/><use href="#bc" x="802.1" y="2113.7"/><use href="#bc" x="802.5" y="2107.0"/><use href="#bc" x="803.2" y="2108.8"/><use href="#bc" x="803.9" y="2112.5"/><use href="#bc" x="804.6" y="2104.8"/><use href="#bc" x="805.3" y="2111.0"/><use href="#bc" x="806.0" y="2108.7"/><use href="#bc" x="806.7" y="2110.3"/><use href="#bc" x="807.4" y="2112.0"/><use href="#bc" x="808.1" y="2109.5"/><use href="#bc" x="808.8" y="2109.4"/><use href="#bc" x="809.5" y="2111.6"/><use href="#bc" x="810.2" y="2111.3"/><use href="#bc" x="810.9" y="2108.0"/><use href="#bc" x="811.6" y="2109.3"/><use href="#bc" x="812.3" y="2106.5"/><use href="#bc" x="813.0" y="2112.7"/><use href="#bc" x="813.7" y="2106.6"/><use href="#bc" x="814.4" y="2109.9"/><use href="#bc" x="814.8" y="2113.5"/><use href="#bc" x="815.5" y="2111.1"/><use href="#bc" x="816.2" y="2108.3"/><use href="#bc" x="816.9" y="2107.0"/><use href="#bc" x="817.6" y="2106.9"/><use href="#bc" x="818.3" y="2110.0"/><use href="#bc" x="819.0" y="2108.0"/><use href="#bc" x="819.7" y="2106.2"/><use href="#bc" x="820.4" y="2111.2"/><use href="#bc" x="821.1" y="2101.4"/><use href="#bc" x="821.8" y="2100.3"/><use href="#bc" x="822.5" y="2098.3"/><use href="#bc" x="823.2" y="2097.2"/><use href="#bc" x="823.9" y="2094.8"/><use href="#bc" x="824.6" y="2090.8"/><use href="#bc" x="825.3" y="2091.0"/><use href="#bc" x="826.0" y="2089.2"/><use href="#bc" x="826.7" y="2086.9"/><use href="#bc" x="827.4" y="2082.7"/><use href="#bc" x="828.1" y="2092.3"/><use href="#bc" x="828.8" y="2090.6"/><use href="#bc" x="829.5" y="2093.9"/><use href="#bc" x="830.2" y="2097.8"/><use href="#bc" x="830.9" y="2097.6"/><use href="#bc" x="831.6" y="2100.7"/><use href="#bc" x="832.3" y="2104.5"/><use href="#bc" x="833.0" y="2104.9"/><use href="#bc" x="833.7" y="2107.5"/><use href="#bc" x="834.4" y="2105.5"/><use href="#bc" x="835.1" y="2107.6"/><use href="#bc" x="835.8" y="2106.1"/><use href="#bc" x="836.5" y="2108.2"/><use href="#bc" x="837.2" y="2109.8"/><use href="#bc" x="837.9" y="2108.7"/><use href="#bc" x="838.5" y="2105.9"/><use href="#bc" x="839.2" y="2108.9"/><use href="#bc" x="839.9" y="2109.7"/><use href="#bc" x="840.6" y="2112.0"/><use href="#bc" x="841.3" y="2109.1"/><use href="#bc" x="842.0" y="2108.0"/><use href="#bc" x="842.7" y="2106.0"/><use href="#bc" x="843.4" y="2113.0"/><use href="#bc" x="844.1" y="2105.4"/><use href="#bc" x="844.8" y="2104.3"/><use href="#bc" x="845.5" y="2105.6"/><use href="#bc" x="846.2" y="2100.5"/><use href="#bc" x="846.9" y="2106.0"/><use href="#bc" x="847.6" y="2102.6"/><use href="#bc" x="848.3" y="2102.0"/><use href="#bc" x="849.0" y="2097.5"/><use href="#bc" x="849.7" y="2097.9"/><use href="#bc" x="850.4" y="2101.0"/><use href="#bc" x="851.1" y="2101.6"/><use href="#bc" x="851.8" y="2107.1"/><use href="#bc" x="852.5" y="2104.3"/><use href="#bc" x="853.2" y="2098.8"/><use href="#bc" x="853.9" y="2104.8"/><use href="#bc" x="854.6" y="2105.0"/><use href="#bc" x="855.3" y="2109.5"/><use href="#bc" x="856.0" y="2107.7"/><use href="#bc" x="856.7" y="2109.8"/><use href="#bc" x="857.4" y="2108.5"/><use href="#bc" x="858.1" y="2111.1"/><use href="#bc" x="858.8" y="2113.5"/><use href="#bc" x="859.5" y="2108.9"/><use href="#bc" x="860.2" y="2105.8"/><use href="#bc" x="860.9" y="2108.2"/><use href="#bc" x="861.6" y="2114.4"/><use href="#bc" x="862.3" y="2111.4"/><use href="#bc" x="862.7" y="2110.2"/><use href="#bc" x="863.4" y="2108.7"/><use href="#bc" x="864.1" y="2113.5"/><use href="#bc" x="864.8" y="2111.7"/><use href="#bc" x="865.5" y="2110.9"/><use href="#bc" x="866.2" y="2109.9"/><use href="#bc" x="866.9" y="2110.8"/><use href="#bc" x="867.6" y="2110.5"/><use href="#bc" x="868.3" y="2112.6"/><use href="#bc" x="869.0" y="2114.2"/><use href="#bc" x="869.7" y="2106.8"/><use href="#bc" x="870.4" y="2108.0"/><use href="#bc" x="871.1" y="2111.1"/><use href="#bc" x="871.8" y="2111.6"/><use href="#bc" x="872.5" y="2107.8"/><use href="#bc" x="873.2" y="2110.0"/><use href="#bc" x="873.9" y="2110.5"/><use href="#bc" x="874.6" y="2110.4"/><use href="#bc" x="875.3" y="2110.3"/><use href="#bc" x="876.0" y="2111.2"/><use href="#bc" x="876.7" y="2113.4"/><use href="#bc" x="877.4" y="2113.1"/><use href="#bc" x="878.1" y="2112.8"/><use href="#bc" x="878.8" y="2112.0"/><use href="#bc" x="879.5" y="2109.7"/><use href="#bc" x="880.2" y="2110.3"/><use href="#bc" x="880.9" y="2112.9"/><use href="#bc" x="881.6" y="2111.6"/><use href="#bc" x="882.3" y="2113.1"/><use href="#bc" x="883.0" y="2111.9"/><use href="#bc" x="883.7" y="2111.4"/><use href="#bc" x="884.4" y="2112.2"/><use href="#bc" x="885.1" y="2107.6"/><use href="#bc" x="885.8" y="2110.7"/><use href="#bc" x="886.5" y="2109.7"/><use href="#bc" x="887.2" y="2112.9"/><use href="#bc" x="887.9" y="2109.4"/><use href="#bc" x="888.6" y="2111.3"/><use href="#bc" x="889.3" y="2109.7"/><use href="#bc" x="890.0" y="2111.6"/><use href="#bc" x="890.7" y="2112.0"/><use href="#bc" x="891.4" y="2109.7"/><use href="#bc" x="892.3" y="2110.1"/><use href="#bc" x="893.0" y="2110.0"/><use href="#bc" x="893.7" y="2111.0"/><use href="#bc" x="894.4" y="2107.9"/><use href="#bc" x="895.1" y="2108.0"/><use href="#bc" x="895.8" y="2106.0"/><use href="#bc" x="896.5" y="2103.5"/><use href="#bc" x="897.2" y="2104.3"/><use href="#bc" x="897.9" y="2102.5"/><use href="#bc" x="898.6" y="2096.8"/><use href="#bc" x="899.3" y="2098.7"/><use href="#bc" x="900.0" y="2089.2"/><use href="#bc" x="900.7" y="2088.0"/><use href="#bc" x="901.4" y="2082.2"/><use href="#bc" x="902.1" y="2072.8"/><use href="#bc" x="902.8" y="2072.6"/><use href="#bc" x="903.5" y="2066.5"/><use href="#bc" x="904.2" y="2069.3"/><use href="#bc" x="904.9" y="2072.7"/><use href="#bc" x="905.6" y="2078.7"/><use href="#bc" x="906.3" y="2080.8"/><use href="#bc" x="907.0" y="2080.4"/><use href="#bc" x="907.7" y="2087.8"/><use href="#bc" x="908.4" y="2096.3"/><use href="#bc" x="909.1" y="2097.1"/><use href="#bc" x="909.8" y="2103.8"/><use href="#bc" x="910.3" y="2100.1"/><use href="#bc" x="911.0" y="2102.5"/><use href="#bc" x="911.7" y="2102.2"/><use href="#bc" x="912.4" y="2105.4"/><use href="#bc" x="913.1" y="2109.7"/><use href="#bc" x="913.8" y="2105.1"/><use href="#bc" x="914.5" y="2109.0"/><use href="#bc" x="915.2" y="2107.7"/><use href="#bc" x="915.9" y="2107.6"/><use href="#bc" x="916.6" y="2104.0"/><use href="#bc" x="917.3" y="2102.8"/><use href="#bc" x="918.0" y="2105.2"/><use href="#bc" x="918.7" y="2094.8"/><use href="#bc" x="919.4" y="2096.1"/><use href="#bc" x="920.1" y="2094.6"/><use href="#bc" x="920.8" y="2089.3"/><use href="#bc" x="921.5" y="2090.1"/><use href="#bc" x="922.2" y="2079.5"/><use href="#bc" x="922.9" y="2086.8"/><use href="#bc" x="923.6" y="2087.5"/><use href="#bc" x="924.3" y="2092.5"/><use href="#bc" x="925.0" y="2096.7"/><use href="#bc" x="925.7" y="2101.2"/><use href="#bc" x="926.4" y="2101.0"/><use href="#bc" x="927.1" y="2107.1"/><use href="#bc" x="927.8" y="2103.4"/><use href="#bc" x="928.5" y="2110.4"/><use href="#bc" x="929.2" y="2108.6"/><use href="#bc" x="929.9" y="2105.9"/><use href="#bc" x="930.6" y="2106.4"/><use href="#bc" x="931.3" y="2106.7"/><use href="#bc" x="932.0" y="2108.7"/><use href="#bc" x="932.7" y="2111.4"/><use href="#bc" x="933.4" y="2114.2"/><use href="#bc" x="934.1" y="2113.1"/><use href="#bc" x="934.1" y="2108.4"/><use href="#bc" x="934.8" y="2106.3"/><use href="#bc" x="935.5" y="2110.8"/><use href="#bc" x="936.2" y="2108.4"/><use href="#bc" x="936.9" y="2111.1"/><use href="#bc" x="937.6" y="2110.0"/><use href="#bc" x="938.5" y="2117.1"/><use href="#bc" x="939.2" y="2107.6"/><use href="#bc" x="939.9" y="2111.9"/><use href="#bc" x="940.6" y="2115.1"/><use href="#bc" x="941.3" y="2109.8"/><use href="#bc" x="942.0" y="2108.6"/><use href="#bc" x="942.7" y="2113.5"/><use href="#bc" x="943.4" y="2104.4"/><use href="#bc" x="944.1" y="2104.2"/><use href="#bc" x="944.8" y="2104.0"/><use href="#bc" x="945.5" y="2106.0"/><use href="#bc" x="946.2" y="2104.9"/><use href="#bc" x="946.9" y="2100.9"/><use href="#bc" x="947.6" y="2103.7"/><use href="#bc" x="948.3" y="2096.3"/><use href="#bc" x="949.0" y="2095.0"/><use href="#bc" x="949.7" y="2093.2"/><use href="#bc" x="950.4" y="2096.3"/><use href="#bc" x="951.1" y="2094.4"/><use href="#bc" x="951.8" y="2095.1"/><use href="#bc" x="952.5" y="2101.6"/><use href="#bc" x="953.2" y="2103.0"/><use href="#bc" x="953.9" y="2104.5"/><use href="#bc" x="954.6" y="2101.6"/><use href="#bc" x="955.3" y="2103.7"/><use href="#bc" x="956.0" y="2106.9"/><use href="#bc" x="956.7" y="2108.0"/><use href="#bc" x="957.4" y="2108.5"/><use href="#bc" x="958.1" y="2109.5"/><use href="#bc" x="958.8" y="2111.8"/><use href="#bc" x="959.3" y="2108.4"/><use href="#bc" x="960.0" y="2111.3"/><use href="#bc" x="960.7" y="2109.9"/><use href="#bc" x="961.4" y="2109.5"/><use href="#bc" x="962.1" y="2109.7"/><use href="#bc" x="962.8" y="2111.4"/><use href="#bc" x="963.5" y="2109.7"/><use href="#bc" x="964.2" y="2106.4"/><use href="#bc" x="964.9" y="2107.4"/><use href="#bc" x="965.6" y="2105.2"/><use href="#bc" x="966.3" y="2103.7"/><use href="#bc" x="967.0" y="2099.6"/><use href="#bc" x="967.7" y="2099.5"/><use href="#bc" x="968.4" y="2095.1"/><use href="#bc" x="969.1" y="2088.9"/><use href="#bc" x="969.8" y="2086.1"/><use href="#bc" x="970.5" y="2084.3"/><use href="#bc" x="971.2" y="2087.9"/><use href="#bc" x="971.9" y="2086.6"/><use href="#bc" x="972.6" y="2089.6"/><use href="#bc" x="973.3" y="2093.0"/><use href="#bc" x="974.0" y="2099.0"/><use href="#bc" x="974.7" y="2104.1"/><use href="#bc" x="975.4" y="2102.0"/><use href="#bc" x="976.1" y="2109.0"/><use href="#bc" x="976.8" y="2108.0"/><use href="#bc" x="977.5" y="2111.0"/><use href="#bc" x="978.2" y="2109.2"/><use href="#bc" x="978.9" y="2108.1"/><use href="#bc" x="979.6" y="2112.5"/><use href="#bc" x="980.3" y="2114.8"/><use href="#bc" x="981.0" y="2109.1"/><use href="#bc" x="981.7" y="2112.6"/><use href="#bc" x="982.4" y="2113.5"/><use href="#bc" x="983.1" y="2114.5"/><use href="#bc" x="983.1" y="2110.9"/><use href="#bc" x="983.8" y="2112.2"/><use href="#bc" x="984.5" y="2115.5"/><use href="#bc" x="985.2" y="2117.5"/><use href="#bc" x="985.9" y="2113.9"/><use href="#bc" x="986.6" y="2115.9"/><use href="#bc" x="987.3" y="2114.3"/><use href="#bc" x="988.0" y="2114.9"/><use href="#bc" x="988.7" y="2113.2"/><use href="#bc" x="989.4" y="2113.6"/><use href="#bc" x="990.1" y="2112.9"/><use href="#bc" x="990.8" y="2114.4"/><use href="#bc" x="991.5" y="2116.6"/><use href="#bc" x="992.2" y="2114.7"/><use href="#bc" x="992.9" y="2115.7"/><use href="#bc" x="993.6" y="2113.0"/><use href="#bc" x="994.3" y="2116.0"/><use href="#bc" x="995.0" y="2107.8"/><use href="#bc" x="995.7" y="2111.5"/><use href="#bc" x="996.4" y="2113.8"/><use href="#bc" x="997.1" y="2110.7"/><use href="#bc" x="997.8" y="2115.8"/><use href="#bc" x="998.5" y="2115.0"/><use href="#bc" x="999.2" y="2112.7"/><use href="#bc" x="999.9" y="2114.9"/><use href="#bc" x="1000.6" y="2111.5"/><use href="#bc" x="1001.3" y="2112.8"/><use href="#bc" x="1002.0" y="2113.9"/><use href="#bc" x="1002.7" y="2111.3"/><use href="#bc" x="1003.4" y="2117.0"/><use href="#bc" x="1004.1" y="2113.4"/><use href="#bc" x="1004.8" y="2116.9"/><use href="#bc" x="1005.5" y="2114.5"/><use href="#bc" x="1006.2" y="2115.5"/><use href="#bc" x="1006.9" y="2112.9"/><use href="#bc" x="1007.6" y="2114.2"/><use href="#bc" x="1008.3" y="2114.0"/><use href="#bc" x="1009.0" y="2115.4"/><use href="#bc" x="1009.7" y="2117.8"/><use href="#bc" x="1010.4" y="2113.7"/><use href="#bc" x="1011.1" y="2114.5"/><use href="#bc" x="1011.8" y="2115.7"/><use href="#bc" x="1012.5" y="2116.7"/><use href="#bc" x="1013.2" y="2114.7"/><use href="#bc" x="1013.9" y="2114.1"/><use href="#bc" x="1014.6" y="2113.7"/><use href="#bc" x="1015.3" y="2114.9"/><use href="#bc" x="1016.0" y="2115.4"/><use href="#bc" x="1016.7" y="2113.5"/><use href="#bc" x="1017.4" y="2114.2"/><use href="#bc" x="1018.1" y="2116.5"/><use href="#bc" x="1018.8" y="2114.8"/><use href="#bc" x="1019.5" y="2113.7"/><use href="#bc" x="1020.2" y="2116.3"/><use href="#bc" x="1020.9" y="2116.3"/><use href="#bc" x="1021.6" y="2116.1"/><use href="#bc" x="1022.3" y="2116.2"/><use href="#bc" x="1023.0" y="2113.9"/><use href="#bc" x="1023.7" y="2115.2"/><use href="#bc" x="1024.4" y="2115.3"/><use href="#bc" x="1025.1" y="2114.9"/><use href="#bc" x="1025.8" y="2110.9"/><use href="#bc" x="1026.5" y="2114.5"/><use href="#bc" x="1027.2" y="2115.2"/><use href="#bc" x="1027.9" y="2115.4"/><use href="#bc" x="1028.6" y="2113.6"/><use href="#bc" x="1029.3" y="2114.2"/><use href="#bc" x="1030.0" y="2110.1"/><use href="#bc" x="1030.7" y="2110.6"/><use href="#bc" x="1031.4" y="2107.2"/><use href="#bc" x="1032.1" y="2112.5"/><use href="#bc" x="1032.8" y="2115.9"/><use href="#bc" x="1033.5" y="2115.5"/><use href="#bc" x="1034.2" y="2108.6"/><use href="#bc" x="1034.9" y="2111.4"/><use href="#bc" x="1035.6" y="2111.4"/><use href="#bc" x="1036.3" y="2106.7"/><use href="#bc" x="1037.0" y="2101.6"/><use href="#bc" x="1037.7" y="2107.1"/><use href="#bc" x="1038.4" y="2101.6"/><use href="#bc" x="1039.1" y="2100.0"/><use href="#bc" x="1039.8" y="2103.1"/><use href="#bc" x="1040.5" y="2099.7"/><use href="#bc" x="1041.2" y="2100.3"/><use href="#bc" x="1041.9" y="2102.4"/><use href="#bc" x="1042.6" y="2099.8"/><use href="#bc" x="1043.3" y="2099.5"/><use href="#bc" x="1044.0" y="2104.9"/><use href="#bc" x="1044.7" y="2104.9"/><use href="#bc" x="1045.4" y="2108.1"/><use href="#bc" x="1046.1" y="2108.9"/><use href="#bc" x="1046.8" y="2107.7"/><use href="#bc" x="1047.5" y="2110.5"/><use href="#bc" x="1048.2" y="2110.6"/><use href="#bc" x="1048.9" y="2111.6"/><use href="#bc" x="1049.6" y="2112.5"/><use href="#bc" x="1050.3" y="2113.8"/><use href="#bc" x="1051.0" y="2113.8"/><use href="#bc" x="1051.7" y="2110.9"/><use href="#bc" x="1052.4" y="2115.1"/><use href="#bc" x="1053.1" y="2110.9"/><use href="#bc" x="1053.1" y="2118.6"/><use href="#bc" x="1053.8" y="2112.4"/><use href="#bc" x="1054.5" y="2114.0"/><use href="#bc" x="1055.2" y="2117.0"/><use href="#bc" x="1055.9" y="2113.8"/><use href="#bc" x="1056.6" y="2111.6"/><use href="#bc" x="1057.3" y="2111.3"/><use href="#bc" x="1058.0" y="2114.9"/><use href="#bc" x="1058.7" y="2115.2"/><use href="#bc" x="1059.4" y="2116.1"/><use href="#bc" x="1060.1" y="2114.9"/><use href="#bc" x="1060.8" y="2113.3"/><use href="#bc" x="1061.5" y="2115.3"/><use href="#bc" x="1062.2" y="2117.3"/><use href="#bc" x="1062.9" y="2112.6"/><use href="#bc" x="1063.6" y="2121.8"/><use href="#bc" x="1064.3" y="2113.4"/><use href="#bc" x="1065.0" y="2116.9"/><use href="#bc" x="1065.7" y="2118.2"/><use href="#bc" x="1066.4" y="2116.1"/><use href="#bc" x="1067.1" y="2114.8"/><use href="#bc" x="1067.8" y="2115.6"/><use href="#bc" x="1068.5" y="2116.9"/><use href="#bc" x="1069.2" y="2108.5"/><use href="#bc" x="1069.9" y="2114.9"/><use href="#bc" x="1070.6" y="2113.0"/><use href="#bc" x="1071.3" y="2112.4"/><use href="#bc" x="1071.7" y="2114.0"/><use href="#bc" x="1072.4" y="2114.1"/><use href="#bc" x="1073.1" y="2114.6"/><use href="#bc" x="1073.8" y="2112.2"/><use href="#bc" x="1074.5" y="2115.6"/><use href="#bc" x="1075.2" y="2108.6"/><use href="#bc" x="1075.9" y="2110.7"/><use href="#bc" x="1076.6" y="2109.8"/><use href="#bc" x="1077.3" y="2112.1"/><use href="#bc" x="1078.0" y="2110.2"/><use href="#bc" x="1078.7" y="2111.7"/><use href="#bc" x="1079.4" y="2108.0"/><use href="#bc" x="1080.1" y="2111.5"/><use href="#bc" x="1080.8" y="2109.3"/><use href="#bc" x="1081.5" y="2105.7"/><use href="#bc" x="1082.2" y="2102.4"/><use href="#bc" x="1082.9" y="2103.0"/><use href="#bc" x="1083.6" y="2102.0"/><use href="#bc" x="1084.3" y="2108.2"/><use href="#bc" x="1085.0" y="2107.7"/><use href="#bc" x="1085.7" y="2104.3"/><use href="#bc" x="1086.4" y="2111.8"/><use href="#bc" x="1087.1" y="2108.1"/><use href="#bc" x="1087.8" y="2104.7"/><use href="#bc" x="1088.5" y="2112.4"/><use href="#bc" x="1089.2" y="2113.4"/><use href="#bc" x="1089.6" y="2110.9"/><use href="#bc" x="1090.3" y="2109.3"/><use href="#bc" x="1091.0" y="2114.0"/><use href="#bc" x="1091.7" y="2110.4"/><use href="#bc" x="1092.4" y="2111.4"/><use href="#bc" x="1093.1" y="2112.3"/><use href="#bc" x="1093.8" y="2111.7"/><use href="#bc" x="1094.5" y="2109.7"/><use href="#bc" x="1095.2" y="2108.0"/><use href="#bc" x="1095.9" y="2111.1"/><use href="#bc" x="1096.6" y="2104.1"/><use href="#bc" x="1097.3" y="2108.5"/><use href="#bc" x="1098.0" y="2107.3"/><use href="#bc" x="1098.7" y="2106.7"/><use href="#bc" x="1099.4" y="2103.7"/><use href="#bc" x="1100.1" y="2104.0"/><use href="#bc" x="1100.8" y="2104.6"/><use href="#bc" x="1101.5" y="2100.6"/><use href="#bc" x="1102.2" y="2103.3"/><use href="#bc" x="1102.9" y="2104.7"/><use href="#bc" x="1103.6" y="2102.2"/><use href="#bc" x="1104.3" y="2103.9"/><use href="#bc" x="1105.0" y="2110.3"/><use href="#bc" x="1105.7" y="2110.1"/><use href="#bc" x="1106.4" y="2107.2"/><use href="#bc" x="1107.1" y="2111.0"/><use href="#bc" x="1107.8" y="2110.8"/><use href="#bc" x="1108.5" y="2113.3"/><use href="#bc" x="1109.2" y="2113.1"/><use href="#bc" x="1109.9" y="2105.8"/><use href="#bc" x="1110.6" y="2110.4"/><use href="#bc" x="1111.3" y="2114.0"/><use href="#bc" x="1112.0" y="2114.6"/><use href="#bc" x="1112.7" y="2109.9"/><use href="#bc" x="1113.3" y="2108.6"/><use href="#bc" x="1113.4" y="2111.8"/><use href="#bc" x="1114.0" y="2109.9"/><use href="#bc" x="1114.7" y="2111.2"/><use href="#bc" x="1115.4" y="2108.8"/><use href="#bc" x="1116.1" y="2112.8"/><use href="#bc" x="1116.8" y="2112.4"/><use href="#bc" x="1117.5" y="2112.1"/><use href="#bc" x="1118.2" y="2108.7"/><use href="#bc" x="1118.9" y="2107.4"/><use href="#bc" x="1119.6" y="2108.1"/><use href="#bc" x="1120.3" y="2111.7"/><use href="#bc" x="1121.0" y="2106.8"/><use href="#bc" x="1121.7" y="2111.8"/><use href="#bc" x="1122.4" y="2114.0"/><use href="#bc" x="1123.1" y="2108.8"/><use href="#bc" x="1123.8" y="2109.6"/><use href="#bc" x="1124.5" y="2112.0"/><use href="#bc" x="1125.2" y="2111.8"/><use href="#bc" x="1125.9" y="2108.5"/><use href="#bc" x="1126.6" y="2109.3"/><use href="#bc" x="1127.3" y="2109.9"/>
<path d="M49.0 1982.7L53.8 1983.6L68.2 1988.9L98.0 2001.6L99.5 2001.7L100.8 2001.3L102.0 2000.1L104.2 1997.1L105.2 1996.8L106.2 1998.2L109.5 2005.4L110.8 2007.1L112.2 2008.5L121.0 2013.3L133.5 2018.7L141.5 2020.9L149.5 2022.1L153.5 2021.7L155.0 2021.0L156.2 2019.9L157.8 2017.4L159.0 2012.9L160.0 2005.9L160.8 1997.5L162.0 1975.5L164.2 1916.6L165.2 1899.1L165.8 1897.2L166.2 1900.0L168.0 1920.2L168.2 1921.1L168.5 1920.8L169.0 1916.8L171.2 1857.3L171.8 1850.1L172.0 1850.1L172.8 1865.7L175.2 1972.0L176.5 2002.6L177.5 2015.3L178.8 2023.2L180.8 2029.1L183.5 2033.4L185.8 2035.8L188.2 2037.9L195.2 2042.1L208.8 2048.4L215.0 2050.9L218.8 2052.0L221.0 2052.0L222.5 2050.8L223.8 2048.6L226.0 2043.1L226.5 2042.4L227.0 2042.3L228.0 2043.9L231.5 2054.5L232.8 2056.6L234.5 2058.2L239.2 2060.8L249.0 2064.8L258.5 2068.5L266.8 2071.0L281.5 2074.3L286.8 2075.0L289.5 2075.1L291.0 2074.6L292.2 2073.6L295.5 2067.7L296.5 2066.8L297.5 2067.7L301.0 2075.1L302.2 2076.5L303.8 2077.4L307.5 2078.4L314.2 2079.5L321.8 2080.2L326.5 2080.3L328.8 2079.7L330.5 2077.9L332.0 2074.5L334.5 2066.1L335.0 2065.2L335.5 2065.0L336.5 2066.9L339.8 2077.7L341.0 2079.9L342.2 2081.0L345.8 2082.2L352.2 2082.7L357.5 2082.3L361.2 2081.1L363.5 2079.6L365.2 2077.5L366.8 2074.7L367.8 2071.6L369.2 2062.1L370.2 2047.8L371.8 1999.0L374.2 1840.8L375.0 1816.8L375.2 1817.2L375.5 1822.1L376.0 1843.3L378.8 2011.3L379.8 2042.0L380.8 2057.6L381.5 2063.2L382.2 2065.5L382.8 2065.5L383.0 2065.1L383.8 2061.8L385.0 2048.5L387.2 2009.6L387.8 2006.1L388.0 2006.2L388.8 2013.7L391.2 2060.9L392.8 2075.6L393.8 2080.2L395.2 2083.4L397.8 2085.9L401.2 2087.7L405.2 2089.0L410.5 2090.1L416.8 2091.0L420.5 2091.1L422.0 2090.8L423.2 2090.1L426.5 2086.1L427.8 2085.5L428.8 2086.4L431.5 2090.5L433.0 2091.8L435.5 2092.6L439.8 2092.9L443.8 2092.4L447.0 2091.2L449.2 2089.4L451.0 2086.5L452.2 2082.2L453.2 2075.8L454.8 2057.6L456.0 2031.2L458.5 1960.4L459.5 1947.2L460.0 1949.1L460.8 1961.9L464.2 2055.3L465.2 2070.4L466.5 2081.6L468.2 2088.9L469.5 2091.5L471.0 2093.4L473.0 2095.2L475.8 2096.8L483.0 2099.2L501.2 2102.6L517.2 2104.5L528.8 2105.1L541.0 2105.3L544.0 2105.0L548.2 2103.7L553.8 2105.1L560.0 2105.1L564.5 2104.6L567.2 2103.3L569.5 2100.9L572.8 2095.6L574.0 2094.7L575.2 2095.3L578.8 2099.8L579.8 2100.5L580.8 2100.5L581.8 2100.0L582.5 2099.1L584.2 2095.1L586.0 2088.3L589.2 2072.0L590.0 2069.7L590.8 2069.0L591.5 2070.0L592.2 2072.5L595.5 2089.3L597.2 2096.3L599.0 2100.7L601.2 2103.4L603.0 2104.5L605.5 2105.2L613.8 2106.2L627.0 2106.5L636.0 2105.6L638.8 2104.8L640.8 2103.4L642.2 2101.4L643.5 2098.6L645.8 2089.8L649.5 2067.7L650.2 2064.9L651.0 2063.9L651.8 2064.9L652.5 2067.6L655.8 2086.9L657.2 2093.9L659.0 2099.2L660.8 2101.9L662.5 2102.9L664.5 2102.8L666.2 2101.4L667.8 2098.7L670.0 2090.8L673.8 2070.2L674.5 2067.5L675.2 2066.5L676.0 2067.4L677.0 2071.2L681.2 2094.6L682.5 2099.1L683.8 2102.1L685.5 2104.6L688.0 2106.3L691.8 2107.3L697.2 2108.1L707.5 2108.7L720.0 2109.0L749.0 2108.4L755.8 2107.6L758.5 2106.2L760.5 2103.8L762.5 2099.4L765.8 2089.9L766.5 2088.4L767.2 2087.9L768.0 2088.3L768.8 2089.7L772.0 2099.3L773.8 2103.4L775.5 2105.9L777.5 2107.4L780.2 2107.9L782.8 2107.1L784.8 2105.3L788.0 2100.6L789.2 2099.8L790.0 2100.1L790.8 2100.9L794.8 2107.0L796.2 2108.3L797.8 2109.1L800.8 2109.7L805.5 2110.0L811.5 2109.9L815.8 2109.5L818.0 2108.8L819.8 2107.8L821.2 2106.2L822.5 2104.2L824.8 2098.4L828.5 2084.7L829.5 2082.4L830.2 2081.8L831.0 2082.3L832.0 2084.5L835.5 2097.4L837.5 2103.2L839.8 2107.1L842.2 2109.1L845.0 2110.0L848.8 2110.6L853.2 2110.7L856.0 2110.3L858.8 2108.7L863.0 2103.0L864.2 2102.3L865.0 2102.6L865.8 2103.3L869.8 2108.9L872.5 2110.7L875.0 2111.2L879.0 2111.5L889.2 2111.1L892.5 2110.4L894.8 2109.4L896.5 2108.0L898.2 2105.6L901.0 2099.5L906.0 2083.1L907.0 2081.2L908.0 2080.6L909.0 2081.5L910.0 2083.7L914.8 2099.6L916.2 2103.5L917.8 2106.4L919.5 2108.7L921.8 2110.4L924.2 2111.4L928.0 2112.2L939.2 2112.9L944.0 2112.8L946.8 2112.4L948.2 2111.9L949.8 2110.9L954.0 2105.7L955.2 2104.9L956.5 2105.4L960.5 2109.5L961.8 2110.0L963.0 2109.8L964.8 2108.3L966.2 2105.8L971.0 2092.7L972.0 2090.9L972.8 2090.4L973.5 2090.8L974.5 2092.6L978.5 2104.5L981.0 2109.5L982.5 2111.3L984.2 2112.5L986.5 2113.3L989.5 2113.8L999.0 2114.6L1013.5 2114.9L1025.0 2114.8L1031.2 2114.1L1033.8 2113.3L1036.0 2111.6L1038.0 2109.0L1041.5 2103.3L1042.5 2102.2L1043.2 2101.9L1044.0 2102.1L1045.0 2103.1L1048.8 2109.1L1051.0 2111.7L1053.5 2113.2L1056.8 2114.0L1067.8 2114.1L1075.0 2113.4L1078.8 2112.1L1085.0 2108.2L1087.5 2107.2L1090.2 2107.1L1095.0 2108.4L1097.0 2108.2L1098.8 2107.2L1101.8 2104.3L1103.0 2103.7L1104.5 2104.3L1108.8 2109.0L1111.5 2110.6L1116.2 2111.2L1121.8 2110.4" fill="none" stroke="#ff0000" stroke-width="7.8" stroke-linejoin="round" stroke-linecap="round"/>
<rect x="98.9" y="2147.8" width="3.9" height="25.7" fill="#ff00ff"/>
<rect x="118.1" y="2147.8" width="3.9" height="25.7" fill="#ff00ff"/>
<rect x="157.9" y="2147.8" width="4.6" height="25.7" fill="#ff00ff"/>
<rect x="165.0" y="2147.8" width="3.6" height="25.7" fill="#ff00ff"/>
<rect x="221.9" y="2147.8" width="3.9" height="25.7" fill="#ff00ff"/>
<rect x="257.0" y="2147.8" width="3.9" height="25.7" fill="#ff00ff"/>
<rect x="262.9" y="2147.8" width="3.8" height="25.7" fill="#ff00ff"/>
<rect x="290.3" y="2147.8" width="3.9" height="25.7" fill="#ff00ff"/>
<rect x="330.5" y="2147.8" width="3.8" height="25.7" fill="#ff00ff"/>
<rect x="348.7" y="2147.8" width="3.8" height="25.7" fill="#ff00ff"/>
<rect x="364.0" y="2147.8" width="3.8" height="25.7" fill="#ff00ff"/>
<rect x="369.5" y="2147.8" width="3.8" height="25.7" fill="#ff00ff"/>
<rect x="381.0" y="2147.8" width="3.9" height="25.7" fill="#ff00ff"/>
<rect x="391.2" y="2147.8" width="3.9" height="25.7" fill="#ff00ff"/>
<rect x="421.1" y="2147.8" width="3.9" height="25.7" fill="#ff00ff"/>
<rect x="430.2" y="2147.8" width="3.9" height="25.7" fill="#ff00ff"/>
<rect x="449.8" y="2147.8" width="7.3" height="25.7" fill="#ff00ff"/>
<rect x="465.2" y="2147.8" width="6.5" height="25.7" fill="#ff00ff"/>
<rect x="506.2" y="2147.8" width="7.8" height="25.7" fill="#ff00ff"/>
<rect x="517.9" y="2147.8" width="4.1" height="25.7" fill="#ff00ff"/>
<rect x="528.2" y="2147.8" width="4.1" height="25.7" fill="#ff00ff"/>
<rect x="544.0" y="2147.8" width="4.0" height="25.7" fill="#ff00ff"/>
<rect x="566.1" y="2147.8" width="6.3" height="25.7" fill="#ff00ff"/>
<rect x="579.0" y="2147.8" width="9.0" height="25.7" fill="#ff00ff"/>
<rect x="589.2" y="2147.8" width="6.6" height="25.7" fill="#ff00ff"/>
<rect x="606.0" y="2147.8" width="5.2" height="25.7" fill="#ff00ff"/>
<rect x="621.8" y="2147.8" width="5.2" height="25.7" fill="#ff00ff"/>
<rect x="628.0" y="2147.8" width="4.1" height="25.7" fill="#ff00ff"/>
<rect x="642.3" y="2147.8" width="7.8" height="25.7" fill="#ff00ff"/>
<rect x="655.2" y="2147.8" width="6.8" height="25.7" fill="#ff00ff"/>
<rect x="662.8" y="2147.8" width="13.3" height="25.7" fill="#ff00ff"/>
<rect x="686.0" y="2147.8" width="7.2" height="25.7" fill="#ff00ff"/>
<rect x="697.9" y="2147.8" width="5.5" height="25.7" fill="#ff00ff"/>
<rect x="725.3" y="2147.8" width="8.9" height="25.7" fill="#ff00ff"/>
<rect x="739.4" y="2147.8" width="5.6" height="25.7" fill="#ff00ff"/>
<rect x="757.8" y="2147.8" width="6.4" height="25.7" fill="#ff00ff"/>
<rect x="771.9" y="2147.8" width="5.1" height="25.7" fill="#ff00ff"/>
<rect x="779.8" y="2147.8" width="10.8" height="25.7" fill="#ff00ff"/>
<rect x="791.9" y="2147.8" width="5.1" height="25.7" fill="#ff00ff"/>
<rect x="798.3" y="2147.8" width="10.7" height="25.7" fill="#ff00ff"/>
<rect x="815.0" y="2147.8" width="7.6" height="25.7" fill="#ff00ff"/>
<rect x="825.2" y="2147.8" width="5.1" height="25.7" fill="#ff00ff"/>
<rect x="839.3" y="2147.8" width="2.2" height="25.7" fill="#ff00ff"/>
<rect x="842.6" y="2147.8" width="22.5" height="25.7" fill="#ff00ff"/>
<rect x="871.3" y="2147.8" width="3.3" height="25.7" fill="#ff00ff"/>
<rect x="875.4" y="2147.8" width="6.1" height="25.7" fill="#ff00ff"/>
<rect x="888.2" y="2147.8" width="6.9" height="25.7" fill="#ff00ff"/>
<rect x="896.9" y="2147.8" width="5.9" height="25.7" fill="#ff00ff"/>
<rect x="904.0" y="2147.8" width="6.5" height="25.7" fill="#ff00ff"/>
<rect x="913.0" y="2147.8" width="5.1" height="25.7" fill="#ff00ff"/>
<rect x="924.5" y="2147.8" width="2.1" height="25.7" fill="#ff00ff"/>
<rect x="928.4" y="2147.8" width="2.6" height="25.7" fill="#ff00ff"/>
<rect x="934.8" y="2147.8" width="2.0" height="25.7" fill="#ff00ff"/>
<rect x="938.6" y="2147.8" width="2.6" height="25.7" fill="#ff00ff"/>
<rect x="946.3" y="2147.8" width="10.3" height="25.7" fill="#ff00ff"/>
<rect x="957.9" y="2147.8" width="10.2" height="25.7" fill="#ff00ff"/>
<rect x="969.4" y="2147.8" width="12.8" height="25.7" fill="#ff00ff"/>
<rect x="984.0" y="2147.8" width="1.5" height="25.7" fill="#ff00ff"/>
<rect x="987.3" y="2147.8" width="15.9" height="25.7" fill="#ff00ff"/>
<rect x="1009.0" y="2147.8" width="3.2" height="25.7" fill="#ff00ff"/>
<rect x="1014.2" y="2147.8" width="2.1" height="25.7" fill="#ff00ff"/>
<rect x="1019.3" y="2147.8" width="3.4" height="25.7" fill="#ff00ff"/>
<rect x="1029.0" y="2147.8" width="21.1" height="25.7" fill="#ff00ff"/>
<rect x="1051.4" y="2147.8" width="6.4" height="25.7" fill="#ff00ff"/>
<rect x="1059.0" y="2147.8" width="10.3" height="25.7" fill="#ff00ff"/>
<rect x="1074.4" y="2147.8" width="12.8" height="25.7" fill="#ff00ff"/>
<rect x="1088.5" y="2147.8" width="12.8" height="25.7" fill="#ff00ff"/>
<rect x="1102.6" y="2147.8" width="1.8" height="25.7" fill="#ff00ff"/>
<rect x="1110.3" y="2147.8" width="6.4" height="25.7" fill="#ff00ff"/>
<path d="M49.0 2258.3L49.8 2259.8L52.2 2252.2L53.8 2254.9L54.6 2253.2L55.4 2256.8L57.8 2253.0L58.6 2255.1L59.4 2253.7L60.2 2257.1L61.0 2256.7L61.8 2260.6L62.6 2252.9L63.4 2255.5L64.2 2253.0L65.0 2254.0L66.6 2261.5L68.2 2253.9L69.0 2255.4L70.6 2253.9L71.4 2255.2L72.2 2253.1L73.0 2258.8L73.8 2254.3L74.6 2254.0L75.4 2258.1L77.0 2251.8L77.8 2250.6L80.2 2256.2L81.0 2256.9L81.8 2255.3L82.6 2255.7L84.2 2259.4L85.0 2258.1L85.8 2257.8L87.4 2253.7L89.0 2251.7L89.8 2252.2L92.2 2259.5L93.8 2253.9L94.6 2258.4L96.2 2252.9L97.0 2256.9L97.8 2252.8L98.6 2253.9L99.4 2257.6L100.0 2254.1L100.2 2256.3L101.0 2256.4L101.8 2252.9L102.6 2253.5L104.2 2257.7L105.0 2256.8L106.6 2260.5L107.4 2257.4L108.2 2257.2L109.0 2255.1L110.6 2253.7L111.4 2251.9L112.2 2254.5L113.0 2255.6L113.8 2254.0L115.4 2253.4L116.2 2258.7L117.0 2258.7L117.8 2253.5L118.6 2256.0L119.4 2253.8L120.2 2257.4L121.0 2255.6L121.8 2256.6L123.4 2254.6L124.2 2258.4L125.0 2255.1L125.8 2254.4L126.6 2254.5L127.4 2251.1L128.2 2256.5L129.0 2258.1L129.8 2255.8L130.6 2258.1L131.4 2256.1L132.2 2257.9L133.0 2257.0L133.8 2262.4L134.6 2254.8L135.4 2255.4L136.2 2252.6L137.8 2255.3L138.6 2253.7L139.4 2255.1L140.2 2248.9L141.0 2255.7L141.8 2255.7L142.6 2258.2L144.2 2254.2L145.0 2255.5L145.8 2254.3L146.6 2254.4L147.4 2252.1L148.2 2257.6L149.0 2259.1L149.8 2259.0L150.0 2257.2L151.4 2259.6L152.2 2253.1L153.8 2258.9L154.6 2259.0L156.0 2260.6L157.0 2256.0L157.8 2258.9L158.5 2251.4L159.5 2207.1L161.0 2205.0L162.6 2211.2L163.4 2207.4L164.0 2210.1L164.2 2208.0L165.0 2209.2L165.8 2212.4L167.0 2272.4L168.2 2293.5L169.0 2298.5L169.8 2299.4L171.0 2304.0L171.4 2301.7L172.2 2307.6L173.0 2304.3L173.8 2304.7L175.0 2303.4L176.5 2265.2L177.5 2214.9L179.4 2193.4L180.2 2198.5L181.0 2200.6L181.8 2198.2L182.0 2198.6L184.2 2218.2L185.0 2205.9L186.0 2199.7L186.6 2199.6L187.4 2198.0L188.0 2195.6L189.0 2210.2L192.2 2236.9L194.6 2244.8L196.2 2252.0L197.0 2253.7L197.8 2252.5L198.6 2253.8L199.4 2253.0L200.2 2256.1L201.0 2254.3L201.8 2257.8L202.6 2257.6L203.4 2254.8L205.0 2258.0L205.8 2256.5L206.6 2261.4L207.4 2256.1L209.0 2262.1L209.8 2258.8L210.6 2257.9L211.4 2261.7L212.2 2258.6L213.0 2260.7L213.8 2261.2L214.6 2258.1L215.0 2258.8L216.2 2252.5L217.0 2253.3L217.8 2250.4L219.5 2242.7L221.0 2210.9L221.0 2213.2L221.8 2208.1L222.6 2206.6L223.4 2208.0L224.0 2203.2L224.2 2207.7L225.0 2209.3L225.8 2208.3L226.6 2212.5L227.0 2209.5L229.0 2254.9L229.0 2253.7L229.8 2255.3L230.6 2253.5L232.0 2260.5L233.0 2257.8L233.8 2257.7L234.6 2259.4L235.4 2257.5L236.2 2260.1L237.0 2259.4L237.8 2253.5L238.6 2257.9L239.4 2256.5L241.0 2260.5L241.8 2257.8L242.6 2258.9L243.4 2258.4L244.2 2259.7L245.0 2256.5L245.8 2257.5L247.4 2255.0L248.2 2258.9L249.8 2253.3L250.6 2252.6L251.4 2252.6L252.2 2254.0L253.0 2254.5L253.8 2254.4L254.6 2257.4L255.4 2256.1L257.0 2258.6L257.8 2255.9L258.6 2256.8L260.2 2256.9L261.0 2252.4L262.6 2254.5L263.4 2254.9L264.2 2253.7L265.0 2255.2L265.8 2253.3L266.6 2253.8L268.2 2252.2L269.0 2254.7L269.8 2252.6L270.6 2254.1L271.4 2251.6L272.2 2254.2L273.8 2250.3L274.6 2253.6L275.4 2253.4L277.8 2250.7L279.4 2250.1L280.2 2251.4L281.0 2248.5L282.6 2245.6L283.0 2249.9L284.2 2251.6L285.0 2251.5L285.8 2254.8L288.2 2252.1L289.0 2256.5L289.8 2254.5L291.4 2255.8L292.2 2255.3L293.0 2252.0L293.8 2259.4L294.6 2259.4L295.4 2260.2L296.0 2264.1L296.2 2260.9L297.0 2258.4L297.8 2262.9L299.4 2252.7L300.2 2257.6L301.0 2253.8L301.8 2252.6L302.6 2253.5L303.4 2249.0L304.2 2248.4L305.0 2250.2L305.8 2248.2L306.6 2242.6L307.4 2244.3L308.2 2241.1L309.0 2243.6L309.0 2241.0L309.8 2241.4L310.6 2243.4L311.4 2242.6L312.2 2244.2L314.6 2239.2L315.4 2239.8L316.2 2237.7L317.0 2243.2L318.6 2243.0L319.4 2243.8L320.2 2243.1L321.0 2243.7L321.8 2243.2L324.2 2251.6L325.0 2247.5L327.4 2242.7L328.2 2239.2L330.0 2246.0L331.4 2241.7L333.0 2232.5L334.6 2228.1L334.6 2225.7L337.0 2256.6L338.6 2256.0L339.4 2256.4L340.2 2258.5L341.0 2254.7L344.2 2262.5L345.0 2256.8L345.8 2259.8L347.4 2260.3L348.2 2259.9L349.0 2257.2L350.6 2255.7L351.4 2259.5L352.2 2257.2L353.0 2261.1L353.8 2258.7L354.6 2258.8L355.4 2253.2L356.2 2258.7L357.0 2258.7L357.8 2255.1L358.6 2256.6L359.4 2260.3L360.2 2257.6L361.0 2258.2L361.0 2255.7L361.8 2263.8L362.6 2259.0L363.4 2264.6L364.2 2261.6L365.0 2270.7L365.8 2269.2L366.6 2274.4L369.0 2293.4L369.5 2301.0L371.5 2276.5L372.5 2108.3L373.0 2103.9L373.8 2104.8L374.6 2102.3L375.4 2105.7L376.2 2101.4L377.8 2129.8L380.0 2185.2L380.2 2183.4L382.6 2229.3L384.2 2239.4L386.0 2264.4L387.4 2259.2L388.2 2262.8L389.0 2262.0L389.8 2258.2L390.6 2257.8L392.2 2254.9L393.0 2254.5L393.8 2255.3L395.4 2249.6L396.2 2252.8L397.8 2245.3L398.6 2249.5L398.6 2247.4L399.4 2250.5L400.2 2246.1L401.0 2244.7L402.6 2248.0L403.4 2246.4L404.2 2247.0L405.0 2248.7L405.8 2247.0L406.6 2247.5L407.4 2250.3L409.0 2243.8L409.8 2249.5L412.2 2245.8L413.0 2246.9L413.8 2244.2L416.2 2245.8L417.8 2250.9L418.6 2249.3L419.4 2244.1L420.2 2246.8L421.8 2246.0L422.5 2247.0L422.6 2248.4L423.4 2244.9L424.2 2246.6L425.8 2241.5L426.6 2243.6L427.4 2242.8L428.2 2237.6L429.0 2242.6L429.8 2241.2L431.4 2246.3L432.2 2237.5L433.0 2241.2L433.8 2239.2L434.6 2245.6L436.2 2242.7L437.8 2235.4L438.6 2235.8L439.4 2233.6L440.2 2234.9L441.0 2233.3L442.6 2235.8L443.4 2231.4L444.2 2230.5L445.0 2231.7L445.8 2226.2L447.4 2231.0L448.2 2231.5L449.0 2227.6L449.8 2230.6L450.6 2230.3L452.2 2232.7L453.0 2236.0L453.8 2233.2L454.6 2233.5L455.0 2232.9L458.3 2211.4L463.5 2282.4L465.8 2262.2L466.6 2263.0L467.4 2261.4L468.0 2254.8L469.0 2258.1L469.8 2253.5L470.6 2256.4L472.2 2254.6L473.8 2251.6L474.6 2254.0L475.4 2249.5L476.2 2249.3L477.0 2248.1L478.6 2255.2L479.4 2255.8L480.2 2251.7L481.0 2253.0L482.6 2250.3L483.4 2252.4L484.2 2251.5L485.0 2251.7L487.4 2246.7L488.2 2247.4L489.0 2245.4L489.8 2251.7L490.0 2246.8L490.6 2247.2L493.0 2254.2L494.6 2251.0L495.4 2245.6L498.6 2250.9L499.4 2250.5L501.0 2247.5L501.8 2249.6L502.6 2248.7L503.4 2245.6L504.2 2247.5L505.0 2247.2L505.8 2248.4L506.6 2246.3L507.4 2247.6L508.2 2251.8L509.0 2245.8L509.8 2249.2L510.6 2250.4L512.2 2245.3L513.0 2249.1L513.8 2250.0L514.6 2249.2L515.4 2250.9L516.2 2245.8L517.0 2249.0L517.8 2247.7L518.6 2247.7L519.4 2245.3L520.2 2248.1L521.0 2249.2L521.8 2248.9L522.6 2247.6L525.0 2251.6L525.8 2245.3L526.6 2252.4L528.2 2249.6L529.0 2249.3L529.8 2249.9L530.6 2249.7L531.4 2254.3L532.2 2252.3L533.0 2253.4L533.8 2250.0L535.4 2249.3L536.2 2246.3L537.0 2246.0L537.8 2252.5L538.6 2249.5L540.2 2253.6L541.0 2250.5L541.8 2249.8L542.6 2249.8L543.4 2251.7L544.2 2250.7L545.8 2255.0L547.4 2249.8L549.0 2249.4L549.8 2250.0L550.6 2249.0L551.4 2254.2L552.2 2247.7L553.8 2255.3L554.6 2253.1L555.4 2257.2L556.2 2252.2L557.8 2251.8L558.6 2252.5L559.0 2252.2L559.4 2253.3L560.2 2251.8L561.0 2251.4L562.6 2247.6L563.4 2251.2L564.2 2246.0L565.0 2246.4L567.4 2253.0L569.0 2247.5L569.8 2250.8L571.4 2246.9L572.2 2250.3L573.0 2249.2L573.8 2244.9L575.4 2241.8L576.2 2246.3L577.0 2246.1L577.8 2241.7L578.6 2242.3L580.2 2240.2L581.8 2241.1L582.6 2240.7L584.2 2242.5L585.0 2241.9L585.8 2245.9L586.6 2245.7L587.4 2251.6L588.2 2251.6L589.8 2253.6L592.2 2261.4L593.0 2261.3L593.0 2263.2L596.7 2233.8L597.8 2243.5L598.6 2242.9L599.4 2251.8L600.2 2247.1L601.0 2249.1L602.6 2248.3L603.4 2249.2L604.2 2244.6L605.0 2246.4L605.8 2245.1L606.6 2247.0L607.4 2244.5L608.2 2246.2L609.0 2250.3L609.8 2247.1L610.6 2248.6L611.4 2247.4L612.2 2248.5L613.0 2248.2L614.6 2246.0L615.4 2245.7L616.2 2244.3L617.0 2247.7L617.8 2246.1L618.6 2249.2L619.4 2246.1L620.2 2245.4L621.8 2245.5L622.6 2245.0L624.2 2239.7L625.8 2244.1L626.6 2244.2L627.4 2246.8L628.2 2245.5L629.0 2245.6L629.8 2239.8L631.4 2237.3L632.2 2241.9L633.0 2240.5L633.8 2240.6L634.6 2236.8L635.4 2237.1L636.2 2236.8L637.0 2238.0L637.8 2238.1L638.6 2240.5L639.4 2236.8L641.0 2241.6L642.6 2237.4L644.0 2235.2L645.8 2250.0L647.4 2252.7L648.2 2257.7L649.0 2256.4L649.8 2263.6L650.6 2264.9L651.0 2269.2L651.4 2266.8L653.0 2262.4L653.8 2262.0L654.6 2252.2L655.4 2253.4L656.2 2248.7L657.0 2254.1L657.8 2253.1L659.4 2254.3L660.2 2257.4L661.0 2255.8L661.8 2259.2L663.4 2259.8L664.2 2257.1L665.0 2259.1L666.6 2259.1L668.0 2266.3L668.2 2262.0L669.0 2259.3L672.2 2239.8L674.6 2222.7L675.4 2221.2L676.2 2227.9L677.8 2230.9L678.6 2234.4L679.4 2234.6L680.2 2241.8L681.0 2242.9L682.0 2247.6L682.6 2242.1L683.4 2246.3L684.2 2247.2L685.0 2244.8L685.8 2247.3L686.6 2248.2L687.4 2245.8L688.2 2249.4L689.0 2245.2L689.8 2250.8L690.6 2245.4L691.4 2250.6L692.2 2247.9L693.8 2245.3L694.6 2244.9L695.4 2245.2L696.0 2241.1L696.2 2247.9L698.6 2242.1L701.0 2249.5L702.6 2246.0L704.2 2247.1L705.0 2248.7L705.8 2245.6L706.6 2244.4L707.4 2246.7L709.0 2245.6L709.8 2247.9L710.6 2248.4L711.4 2245.5L712.2 2247.4L713.0 2246.0L714.6 2250.0L715.4 2248.3L716.2 2249.0L717.0 2246.7L717.8 2247.0L718.6 2244.8L719.4 2249.9L720.2 2251.3L721.0 2248.9L721.8 2251.7L723.4 2245.1L724.2 2248.3L725.0 2245.8L725.8 2247.0L726.6 2246.5L727.4 2249.3L728.2 2247.7L729.0 2247.3L729.8 2248.6L730.6 2246.6L731.4 2250.5L732.2 2248.2L733.0 2248.4L733.8 2244.9L735.4 2252.1L737.0 2247.2L737.8 2246.4L738.6 2247.8L739.4 2246.7L740.0 2247.3L741.0 2249.6L741.8 2248.3L742.6 2251.2L743.4 2249.3L744.2 2253.1L745.0 2249.1L745.8 2249.8L746.6 2247.9L747.4 2248.6L748.2 2252.3L749.0 2253.5L749.8 2251.4L750.6 2250.9L751.4 2251.3L752.2 2249.9L753.0 2253.4L753.8 2249.3L754.6 2250.9L755.4 2249.9L757.0 2256.1L758.6 2250.9L759.4 2255.7L760.2 2256.6L761.0 2255.0L761.8 2255.5L762.6 2258.4L763.4 2259.3L764.2 2257.2L765.0 2261.3L765.8 2256.1L766.6 2254.8L767.4 2256.0L768.2 2255.9L769.8 2259.4L770.6 2259.4L771.4 2257.3L772.2 2259.4L773.0 2258.4L773.8 2258.5L774.6 2254.3L775.4 2255.4L777.0 2261.7L777.8 2258.2L779.4 2260.6L780.2 2258.6L781.8 2262.9L782.6 2261.5L784.2 2263.9L785.0 2260.0L785.8 2263.4L786.6 2262.0L787.4 2264.1L788.0 2263.5L788.2 2261.4L789.0 2261.2L789.8 2259.2L790.6 2260.4L791.4 2264.0L792.2 2258.2L793.0 2259.5L793.8 2258.2L794.6 2258.0L795.4 2259.5L797.0 2250.4L797.8 2255.3L798.6 2250.3L799.4 2249.6L800.2 2251.3L801.8 2249.2L802.6 2245.7L803.4 2244.4L804.2 2245.8L805.0 2244.7L805.8 2245.3L806.6 2241.5L807.4 2243.7L808.0 2244.1L808.2 2242.3L809.0 2246.7L811.4 2250.6L812.2 2249.0L813.0 2252.5L813.8 2245.6L814.6 2251.4L815.4 2250.2L817.0 2252.1L818.6 2247.9L819.4 2253.7L820.2 2250.3L821.0 2250.2L821.8 2253.0L823.4 2255.7L825.8 2264.0L826.6 2265.3L827.4 2265.5L828.2 2262.5L828.5 2264.2L829.0 2264.1L831.4 2256.9L832.2 2257.2L833.0 2256.2L833.8 2258.1L834.6 2258.2L835.4 2262.9L836.2 2256.3L837.0 2261.0L837.8 2261.1L839.4 2256.4L840.2 2259.4L841.8 2254.9L842.6 2257.7L843.4 2252.8L844.2 2255.0L845.0 2255.3L845.8 2253.6L846.6 2253.9L847.4 2249.8L848.2 2251.9L849.0 2250.3L849.8 2250.0L850.0 2247.9L850.6 2247.5L851.4 2248.5L852.2 2252.7L853.0 2249.8L853.8 2251.3L855.4 2252.0L857.0 2248.3L857.8 2248.4L858.6 2250.3L859.4 2249.2L860.2 2251.8L861.0 2248.6L861.8 2247.9L862.6 2244.0L863.4 2248.6L865.0 2252.8L866.6 2251.7L867.4 2250.4L868.2 2252.7L869.0 2251.8L869.8 2252.1L870.6 2247.7L871.4 2248.5L872.2 2248.1L873.0 2246.3L873.8 2252.3L874.6 2252.1L875.4 2254.7L877.0 2249.1L877.8 2251.7L880.2 2250.2L882.6 2252.1L883.4 2251.3L884.2 2253.4L885.0 2252.2L885.8 2254.2L886.6 2249.4L887.4 2252.4L889.0 2249.1L889.8 2250.4L890.6 2249.0L891.4 2249.5L893.0 2253.2L893.8 2249.2L894.6 2252.0L895.4 2247.5L896.2 2250.3L897.0 2247.4L897.8 2246.4L899.4 2246.2L900.2 2249.4L901.0 2246.4L901.8 2250.0L902.6 2248.9L903.4 2245.3L904.2 2245.1L905.0 2243.4L905.6 2239.6L906.6 2238.3L908.2 2248.1L909.0 2244.9L909.8 2249.3L910.6 2248.2L912.0 2256.6L913.8 2249.3L914.6 2248.9L915.4 2245.3L916.2 2246.9L917.8 2239.3L918.6 2237.8L920.2 2243.1L921.8 2244.8L922.6 2251.0L924.2 2253.3L925.0 2256.6L926.6 2257.2L927.4 2254.9L928.2 2256.1L929.0 2255.1L929.8 2257.0L930.6 2256.4L931.4 2251.4L932.2 2253.4L933.0 2252.7L933.8 2253.1L935.4 2250.2L936.2 2250.8L937.0 2250.6L937.8 2252.6L938.6 2252.3L940.2 2258.0L941.8 2253.7L943.4 2256.5L945.0 2254.2L945.8 2251.8L947.4 2252.8L948.2 2251.5L949.0 2255.0L949.8 2251.4L950.6 2255.8L952.2 2252.3L953.0 2254.3L953.8 2252.3L954.6 2253.7L955.4 2251.9L956.2 2252.6L958.6 2257.0L959.4 2252.5L960.2 2250.9L961.0 2250.6L963.4 2252.8L964.2 2256.0L965.0 2256.4L966.6 2255.3L967.4 2255.9L968.2 2252.8L969.0 2254.3L969.8 2253.6L970.6 2253.6L972.2 2250.2L973.0 2253.2L974.6 2251.9L975.4 2255.2L976.2 2249.7L977.0 2253.4L977.8 2250.1L978.6 2252.3L979.4 2251.6L980.2 2249.8L981.0 2253.1L981.8 2249.5L982.6 2249.0L983.4 2249.2L984.2 2250.7L985.0 2248.1L985.8 2247.8L986.6 2249.0L987.4 2244.4L988.2 2243.4L989.0 2249.4L990.6 2247.2L992.2 2252.2L993.0 2249.6L993.8 2254.3L994.6 2255.3L995.4 2254.7L996.2 2248.6L997.0 2250.3L997.8 2247.8L999.4 2251.0L1000.0 2251.1L1000.2 2248.2L1001.0 2251.7L1001.8 2250.3L1002.6 2250.1L1003.4 2251.8L1004.2 2247.3L1005.0 2246.7L1005.8 2252.2L1006.6 2252.0L1007.4 2253.4L1008.2 2249.2L1009.8 2250.2L1010.6 2245.4L1011.4 2247.0L1012.2 2250.9L1013.0 2248.1L1013.8 2250.1L1014.6 2247.8L1015.4 2246.9L1016.2 2250.3L1017.0 2248.2L1018.6 2248.4L1019.4 2245.1L1020.2 2250.3L1021.0 2247.4L1021.8 2247.4L1022.6 2245.4L1024.2 2248.2L1025.0 2245.5L1025.8 2249.3L1026.6 2251.0L1027.4 2250.4L1028.2 2247.1L1029.0 2249.8L1029.8 2244.9L1031.4 2246.6L1032.2 2246.1L1033.0 2247.2L1033.8 2246.6L1034.6 2244.8L1036.2 2247.3L1037.0 2245.1L1037.8 2245.7L1038.6 2245.0L1039.4 2246.3L1040.2 2245.9L1041.0 2246.9L1041.8 2241.1L1043.4 2247.5L1045.0 2244.5L1045.8 2244.7L1047.4 2242.7L1048.2 2243.9L1049.0 2239.3L1050.6 2246.3L1052.2 2240.0L1052.5 2243.3L1053.0 2241.1L1054.6 2246.3L1055.4 2246.0L1056.2 2241.8L1057.8 2248.5L1058.6 2245.4L1059.4 2252.3L1061.0 2253.9L1061.8 2248.8L1062.6 2254.4L1063.4 2251.6L1064.2 2251.8L1065.0 2253.6L1065.8 2251.4L1067.4 2255.2L1068.2 2254.8L1069.0 2253.1L1070.6 2255.7L1071.4 2253.3L1072.2 2255.0L1073.0 2252.7L1073.8 2252.2L1074.6 2250.7L1075.4 2247.2L1076.2 2250.9L1077.0 2249.3L1078.6 2253.2L1079.4 2251.5L1080.2 2255.2L1081.0 2255.4L1081.8 2252.9L1082.6 2252.0L1083.4 2254.5L1085.0 2250.3L1086.6 2255.6L1088.2 2252.9L1089.0 2255.3L1089.8 2255.2L1090.6 2253.0L1091.4 2252.7L1094.6 2255.4L1095.4 2253.0L1096.2 2254.2L1097.0 2252.5L1097.8 2253.1L1099.4 2248.5L1100.2 2252.2L1101.0 2253.7L1103.4 2249.5L1104.2 2251.7L1107.4 2250.7L1108.2 2247.8L1109.0 2252.3L1109.8 2247.4L1111.4 2254.5L1113.0 2255.7L1113.8 2251.9L1114.6 2254.8L1115.4 2254.2L1116.2 2252.0L1117.0 2252.0L1117.8 2255.4L1118.6 2251.6L1119.4 2255.8L1120.0 2256.4L1120.2 2253.1L1121.0 2252.3L1121.8 2253.2" fill="none" stroke="#0000ff" stroke-width="8.6" stroke-linejoin="round" stroke-linecap="round"/>
</g>
<path d="M504.0 1757.0L504.7 1756.9L505.4 1757.9L506.1 1756.9L507.5 1756.4L508.2 1755.6L509.6 1758.1L510.3 1758.4L511.0 1756.9L512.4 1760.2L513.8 1757.6L514.5 1757.9L515.2 1757.4L515.9 1758.1L516.6 1756.9L518.0 1757.0L518.7 1756.1L519.4 1756.7L520.8 1754.7L522.2 1758.2L522.9 1758.5L523.6 1757.4L524.3 1757.0L525.0 1758.7L525.7 1758.9L527.1 1753.3L528.5 1757.2L529.9 1756.1L530.6 1756.2L533.4 1752.2L534.8 1753.2L536.2 1748.5L536.9 1747.3L537.6 1747.2L539.0 1744.5L539.7 1745.7L540.4 1745.1L541.8 1739.5L546.0 1730.3L547.4 1724.9L550.2 1698.1L553.0 1664.9L553.7 1662.4L555.1 1670.8L556.5 1687.3L557.2 1690.1L559.3 1673.8L560.7 1665.6L561.4 1665.0L564.9 1710.9L568.4 1673.2L570.5 1658.2L571.9 1668.3L572.6 1671.6L573.3 1672.9L574.0 1680.0L574.7 1682.7L575.4 1683.6L577.5 1693.8L579.6 1698.3L580.3 1698.6L582.4 1705.6L583.1 1706.2L586.6 1714.7L588.0 1716.6L588.7 1720.0L590.1 1721.6L590.8 1724.3L592.2 1726.8L594.3 1735.7L595.0 1737.1L595.7 1734.8L596.4 1733.7L597.8 1736.3L598.5 1734.6L599.9 1735.3L600.6 1733.1L601.3 1732.9L602.7 1730.9L603.4 1731.2L604.8 1734.8L605.5 1735.1L606.2 1736.3L607.6 1737.0L608.3 1738.3L609.0 1737.7L611.1 1752.3L612.5 1754.7L613.2 1759.3L615.3 1764.9L616.0 1765.1L616.7 1767.7L618.1 1770.1L619.5 1769.2L622.3 1773.0L623.0 1773.1L624.4 1773.0L625.8 1770.3L626.5 1772.3L627.2 1773.1L627.9 1772.4L628.6 1774.2L629.3 1774.9L630.7 1773.8L631.4 1774.7L632.1 1777.0L633.5 1774.2L634.2 1776.8L634.9 1777.4L635.6 1776.1L636.3 1776.1L637.7 1778.2L639.1 1775.1L640.5 1778.2L641.9 1778.5L643.3 1779.4L644.0 1781.1L644.7 1780.2L645.4 1777.8L646.1 1777.2L647.5 1779.9L648.9 1778.3L650.3 1781.9L651.7 1779.7L652.4 1779.4L653.8 1782.6L654.5 1782.8L655.2 1782.4L656.6 1779.7L657.3 1781.3L658.0 1781.6L659.4 1781.2L660.1 1782.6L661.5 1782.0L662.2 1783.0L663.6 1781.5L664.3 1779.7L665.0 1779.0L665.7 1782.1L666.4 1782.1L667.1 1779.3L667.8 1780.7L669.2 1781.7L669.9 1782.9L670.6 1780.5L671.3 1779.9L672.0 1782.5L672.7 1783.3L673.4 1781.8L674.8 1781.7L675.5 1781.0L676.2 1781.7L676.9 1783.6L679.0 1782.2L679.7 1778.0L680.4 1776.3L681.1 1777.5L682.5 1770.6L683.2 1771.5L683.9 1769.8L689.5 1744.1L690.9 1748.2L695.1 1764.3L695.8 1764.1L696.5 1765.8L697.9 1771.1L698.6 1771.8L700.0 1776.9L701.4 1779.7L702.8 1776.3L704.2 1778.8L704.9 1781.3L706.3 1777.5L708.4 1781.7L709.1 1780.4L709.8 1780.4L710.5 1781.1L711.9 1781.7L713.3 1781.5L714.7 1779.7L715.4 1781.1L716.1 1781.4L716.8 1780.2L718.9 1783.2L720.3 1781.7L721.0 1783.0L721.7 1782.7L723.1 1784.1L723.8 1782.5L725.9 1784.8L727.3 1785.2L728.0 1787.5L729.4 1785.4L730.8 1784.5L732.2 1787.5L732.9 1788.1L733.6 1785.7L735.7 1786.8L736.4 1788.6L737.8 1785.6L739.2 1786.4L739.9 1785.3L740.6 1785.8L741.3 1785.1L742.0 1785.3L742.7 1787.1L743.4 1787.8L744.8 1785.8L746.2 1789.2L746.9 1786.5L747.6 1785.9L748.3 1788.3L749.0 1787.3L750.4 1787.7L751.8 1785.7L752.5 1787.3L753.2 1787.5L753.9 1783.4L754.6 1783.0L755.3 1785.2L756.0 1785.3L756.7 1787.3L757.4 1787.7L758.1 1785.9L759.5 1787.9L760.9 1784.5L761.6 1784.9L762.3 1787.0L763.0 1787.7L764.4 1787.4L765.8 1788.7L766.5 1788.0L767.9 1788.5L768.6 1788.3L769.3 1786.7L770.0 1786.9L770.7 1788.1L772.1 1788.7L772.8 1788.0L773.5 1788.2L774.2 1790.0L774.9 1790.1L775.6 1788.9L776.3 1788.5L777.0 1789.5L778.4 1787.9L779.1 1788.2L779.8 1787.0L781.2 1790.1L782.6 1788.3L784.0 1790.9L784.7 1790.4L785.4 1790.6L786.1 1791.9L786.8 1788.6L787.5 1787.3L788.2 1789.4L788.9 1789.3L790.3 1790.4L791.7 1789.5L792.4 1787.5L794.5 1789.1L795.9 1792.2L796.6 1792.4L797.3 1788.2L798.7 1792.0L799.4 1791.1L800.1 1792.0L801.5 1788.0L802.2 1789.6L802.9 1789.6L803.6 1787.3L804.3 1787.6L805.7 1790.2L806.4 1790.0L807.1 1788.7L809.2 1790.5L809.9 1789.3L810.6 1790.4L811.3 1790.5L812.0 1789.6L812.7 1791.4L814.1 1788.9L815.5 1789.7L816.2 1791.0L818.3 1789.1L819.7 1790.7L821.1 1788.4L821.8 1789.5L822.5 1789.5L823.2 1788.1L823.9 1788.3L825.3 1789.6L826.0 1788.2L826.7 1787.7L828.1 1789.6L828.8 1792.2L829.5 1792.9L830.9 1792.2L832.3 1788.5L833.0 1787.9L834.4 1790.3L835.1 1788.6L837.2 1790.0L837.9 1789.8L838.6 1788.4L840.7 1789.6L841.4 1789.2L842.1 1787.9L842.8 1788.1L844.2 1786.4L844.9 1788.0L845.6 1787.4L847.0 1787.6L847.7 1786.3L848.4 1787.1L849.1 1787.2L850.5 1784.0L851.9 1786.1L852.6 1785.7L853.3 1787.2L854.0 1787.4L855.4 1785.8L856.1 1786.5L856.8 1789.7L857.5 1788.9L858.2 1785.7L858.9 1786.3L859.6 1788.7L860.3 1788.9L861.0 1787.9L862.4 1788.6L863.8 1786.8L864.5 1787.7L865.2 1790.5L866.6 1787.1L867.3 1788.4L869.4 1788.3L870.1 1788.9L870.8 1788.8L871.5 1786.8L872.2 1787.3L873.6 1791.8L876.4 1788.1L877.1 1790.7L877.8 1789.8L879.2 1789.2L879.9 1787.9L880.6 1788.0L881.3 1789.0L882.0 1787.5L883.4 1789.6L884.1 1787.8L886.2 1791.0L887.6 1787.3L889.0 1789.2L889.7 1788.9L891.1 1784.8L891.8 1784.7L892.5 1786.9L893.9 1788.6L895.3 1786.6L896.7 1786.6L897.4 1787.2L898.1 1786.9L898.8 1785.8L900.2 1788.1L900.9 1786.8L902.3 1786.8L903.7 1789.9L905.1 1787.0L905.8 1786.9L906.5 1787.4L907.2 1785.2L907.9 1785.0L908.6 1787.2L910.0 1786.6L911.4 1789.4L912.1 1786.8L912.8 1786.2L913.5 1788.0L914.2 1788.0L915.6 1787.2L916.3 1785.8L917.0 1785.3L917.7 1787.8L919.1 1785.8L920.5 1786.9L921.2 1788.5L921.9 1787.9L922.6 1788.7L923.3 1788.6L924.0 1787.6L924.7 1788.0L926.1 1783.2L926.8 1783.4L928.2 1780.3L928.9 1780.1L930.3 1778.5L931.7 1778.4L932.4 1778.9L933.8 1773.9L935.2 1777.2L936.6 1772.7L937.3 1774.0L938.7 1779.9L939.4 1780.1L940.1 1783.1L941.5 1783.1L943.6 1791.8L945.0 1793.3L945.7 1793.4L946.4 1792.1L947.1 1792.6L947.8 1791.5L948.5 1791.4L949.2 1792.3L949.9 1791.5L950.6 1791.5L952.0 1793.0L952.7 1793.0L953.4 1791.2L954.1 1791.4L955.5 1795.0L956.9 1793.1L957.6 1794.9L958.3 1794.1L959.0 1794.2L959.7 1795.1L960.4 1794.1L961.1 1791.8L962.5 1794.0L963.2 1794.1L963.9 1795.1L964.6 1796.9L966.0 1795.4L966.7 1796.0L969.5 1792.1L970.9 1796.3L971.6 1795.3L973.0 1796.5L975.1 1794.5L976.5 1797.1L977.2 1796.2L978.6 1797.1L979.3 1795.0L981.4 1797.4L982.1 1796.7L982.8 1792.9L983.5 1794.2L984.2 1797.6L985.6 1795.3L986.3 1797.4L987.0 1798.1L989.1 1794.1L990.5 1792.9L993.3 1797.8L994.7 1795.0L996.1 1794.8L996.8 1795.7L997.5 1795.2L998.2 1793.5L999.6 1791.7L1001.0 1795.3L1002.4 1795.6L1003.1 1793.9L1004.5 1793.7L1005.2 1790.2L1007.3 1784.2L1008.0 1783.8L1010.1 1780.1L1010.8 1777.0L1011.5 1776.6L1012.2 1778.3L1013.6 1769.3L1017.1 1709.3L1022.0 1556.8L1025.5 1588.7L1028.3 1628.0L1029.7 1633.2L1031.8 1648.9L1033.2 1656.4L1038.1 1709.5L1040.2 1716.7L1041.6 1724.8L1043.0 1728.6L1045.1 1739.8L1045.8 1741.7L1046.5 1742.4L1047.9 1741.5L1048.6 1742.1L1050.0 1739.0L1050.7 1739.7L1053.5 1752.8L1054.9 1757.0L1056.3 1764.6L1057.7 1768.7L1059.1 1775.2L1059.8 1776.1L1061.2 1776.8L1061.9 1776.0L1062.6 1776.5L1063.3 1778.8L1064.7 1779.9L1065.4 1781.4L1066.8 1785.8L1068.2 1781.7L1069.6 1786.6L1070.3 1787.2L1071.7 1790.0L1073.1 1787.1L1073.8 1787.9L1075.2 1793.7L1075.9 1792.4L1076.6 1792.7L1077.3 1794.0L1078.0 1794.5L1078.7 1792.7L1079.4 1793.2L1080.1 1795.9L1082.2 1794.6L1082.9 1796.1L1083.6 1796.2L1084.3 1794.6L1085.0 1796.0L1086.4 1797.4L1087.1 1796.4L1088.5 1797.5L1089.2 1797.3L1089.9 1798.5L1090.6 1798.1L1091.3 1795.6L1092.7 1800.4L1093.4 1798.7L1094.8 1802.6L1095.5 1801.8L1096.9 1802.7" fill="none" stroke="#000" stroke-width="4.4" stroke-linejoin="round"/>
<path d="M504.0 1755.0L522.2 1754.8L527.1 1754.1L531.3 1752.9L533.4 1751.4L535.5 1749.0L542.5 1738.0L544.6 1734.1L546.0 1730.4L548.1 1721.9L551.6 1692.8L553.7 1678.5L555.1 1671.9L555.8 1671.0L557.2 1673.7L561.4 1691.4L562.1 1693.1L562.8 1693.7L563.5 1692.9L564.9 1686.5L570.5 1648.3L571.2 1645.2L571.9 1644.1L572.6 1645.9L573.3 1650.6L579.6 1718.3L581.7 1732.3L584.5 1744.8L587.3 1752.5L590.1 1756.3L602.0 1763.6L608.3 1766.5L618.8 1769.4L631.4 1771.9L660.8 1776.3L673.4 1777.3L679.7 1777.0L682.5 1776.4L684.6 1774.9L690.9 1768.4L693.0 1767.2L694.4 1767.0L695.8 1767.5L697.9 1769.1L705.6 1777.5L707.7 1778.6L714.0 1780.4L725.9 1782.2L779.8 1786.7L807.1 1788.2L825.3 1788.3L840.7 1787.5L847.0 1785.4L849.8 1785.0L856.1 1786.1L869.4 1789.9L875.7 1791.2L896.0 1793.1L911.4 1793.5L919.8 1793.0L925.4 1792.3L928.2 1790.8L935.2 1785.3L937.3 1784.3L939.4 1784.0L942.2 1785.3L949.9 1792.0L956.9 1793.7L963.9 1794.5L970.9 1794.6L988.4 1792.4L991.9 1791.0L995.4 1788.5L998.9 1784.5L1001.7 1779.9L1004.5 1773.7L1006.6 1767.7L1010.8 1751.0L1013.6 1732.3L1018.5 1686.7L1023.4 1628.1L1024.8 1619.0L1025.5 1617.9L1026.2 1620.3L1026.9 1625.6L1030.4 1668.2L1036.0 1721.7L1038.8 1742.4L1040.9 1751.1L1042.3 1753.7L1043.0 1754.2L1043.7 1754.2L1045.1 1752.6L1049.3 1744.1L1050.7 1742.7L1051.4 1742.8L1052.1 1743.6L1053.5 1748.0L1057.7 1767.1L1061.9 1774.8L1066.1 1780.8L1072.4 1787.6L1078.7 1792.5L1084.3 1795.3L1096.9 1799.7" fill="none" stroke="#ff0000" stroke-width="3" stroke-linejoin="round"/>
<path d="M504.0 1912.0L504.7 1912.1L505.4 1910.9L506.8 1912.8L508.2 1910.3L508.9 1910.2L509.6 1909.4L510.3 1911.8L511.0 1912.6L511.7 1911.7L512.4 1912.2L513.1 1911.7L514.5 1909.7L515.9 1912.6L517.3 1909.0L518.7 1912.0L519.4 1912.6L520.8 1912.1L521.5 1910.7L522.2 1910.4L522.9 1912.2L523.6 1912.4L524.3 1910.4L525.7 1912.7L526.4 1912.2L527.1 1913.4L529.2 1908.6L529.9 1909.2L530.6 1911.7L532.0 1911.1L533.4 1912.2L535.5 1911.0L536.2 1911.9L536.9 1911.8L537.6 1910.6L538.3 1910.2L540.4 1911.3L541.8 1909.5L542.5 1907.5L543.9 1907.8L544.6 1906.6L545.3 1907.9L546.0 1907.7L546.7 1905.5L548.1 1904.6L548.8 1898.7L551.6 1884.4L552.3 1887.8L555.8 1920.0L556.5 1920.6L560.0 1890.0L560.7 1885.2L561.4 1885.2L563.5 1900.4L564.9 1916.2L567.7 1934.3L569.1 1937.1L571.2 1934.8L572.6 1935.5L573.3 1936.6L574.0 1936.4L576.1 1911.8L577.5 1899.9L579.6 1887.6L580.3 1885.3L581.0 1884.5L582.4 1877.0L583.1 1876.9L583.8 1872.4L584.5 1872.0L585.2 1874.4L585.9 1874.0L588.0 1875.0L588.7 1877.7L589.4 1877.6L590.8 1875.3L592.2 1881.3L593.6 1878.7L595.0 1880.9L597.1 1877.3L597.8 1876.8L599.9 1878.0L602.0 1873.4L603.4 1876.5L604.8 1875.6L606.2 1880.5L607.6 1882.7L608.3 1885.1L611.8 1892.6L613.2 1897.4L617.4 1906.5L618.8 1904.3L619.5 1905.9L620.2 1905.4L621.6 1906.8L623.7 1904.7L625.1 1909.3L625.8 1909.1L626.5 1906.1L627.9 1909.7L628.6 1909.9L630.0 1909.4L630.7 1910.4L631.4 1908.9L632.1 1908.6L632.8 1909.9L633.5 1909.7L634.9 1911.4L637.0 1911.7L637.7 1912.6L638.4 1910.7L639.1 1910.3L639.8 1912.7L640.5 1912.8L641.9 1915.2L643.3 1912.6L644.0 1913.7L644.7 1913.1L646.1 1915.3L648.2 1912.0L648.9 1912.1L649.6 1913.5L651.0 1913.5L651.7 1916.2L653.1 1912.0L653.8 1914.0L654.5 1914.8L655.2 1913.2L655.9 1913.0L657.3 1914.4L658.7 1912.9L660.1 1914.1L660.8 1914.1L662.2 1911.8L662.9 1914.0L663.6 1914.7L664.3 1913.9L665.7 1914.6L666.4 1915.7L667.8 1915.0L668.5 1915.5L669.2 1915.1L670.6 1913.2L671.3 1914.9L672.0 1915.1L672.7 1914.1L673.4 1914.1L674.8 1913.0L675.5 1913.5L676.2 1912.7L676.9 1910.9L678.3 1912.6L679.7 1909.1L681.1 1909.8L682.5 1905.3L683.2 1904.7L683.9 1903.2L685.3 1905.4L686.7 1893.4L688.8 1882.8L689.5 1880.9L690.9 1883.9L692.3 1891.1L693.7 1892.2L694.4 1894.9L695.8 1897.3L697.2 1902.1L699.3 1904.5L700.7 1908.1L701.4 1906.6L702.1 1906.6L703.5 1909.3L704.2 1909.3L704.9 1907.8L705.6 1909.7L706.3 1910.1L707.0 1909.4L707.7 1909.9L709.1 1908.2L709.8 1908.0L710.5 1908.6L711.2 1907.5L712.6 1909.0L713.3 1908.9L714.0 1909.9L714.7 1908.0L715.4 1907.5L716.1 1908.1L716.8 1906.5L718.2 1908.9L718.9 1907.1L719.6 1907.4L720.3 1909.5L721.7 1911.4L723.1 1908.4L723.8 1908.3L724.5 1910.0L725.9 1911.3L728.7 1909.6L730.1 1911.6L731.5 1909.2L732.9 1911.0L733.6 1911.3L734.3 1912.9L735.0 1913.1L735.7 1910.6L736.4 1910.4L737.8 1910.7L739.9 1913.7L740.6 1912.9L741.3 1910.9L742.7 1910.9L743.4 1910.4L744.1 1911.3L744.8 1911.4L745.5 1912.6L746.2 1912.6L746.9 1910.6L747.6 1910.3L748.3 1911.3L749.7 1908.9L751.1 1909.3L752.5 1908.7L753.2 1910.7L753.9 1910.3L755.3 1910.4L756.7 1908.9L758.1 1910.7L758.8 1910.3L759.5 1910.6L760.2 1910.1L761.6 1911.2L762.3 1909.1L763.0 1908.6L763.7 1909.2L765.1 1907.5L766.5 1911.0L767.2 1910.4L767.9 1911.9L768.6 1911.6L769.3 1909.1L771.4 1909.4L772.1 1910.4L772.8 1910.4L774.2 1906.7L775.6 1909.6L777.7 1908.0L778.4 1907.9L779.1 1908.6L780.5 1907.0L781.2 1908.6L781.9 1908.7L783.3 1907.4L784.7 1909.0L785.4 1907.3L786.8 1909.9L788.2 1906.8L788.9 1906.2L790.3 1908.5L791.7 1905.2L792.4 1906.4L793.1 1906.3L794.5 1909.6L795.9 1905.4L797.3 1906.7L798.7 1905.5L800.1 1907.2L801.5 1908.2L802.9 1906.3L805.0 1905.7L805.7 1906.1L806.4 1905.2L807.1 1905.0L807.8 1906.6L808.5 1907.0L809.9 1905.8L810.6 1907.0L812.7 1906.5L814.8 1904.8L816.9 1907.7L817.6 1907.0L818.3 1907.0L819.0 1908.6L819.7 1905.5L820.4 1904.6L821.1 1907.5L822.5 1907.0L823.2 1907.8L824.6 1906.2L826.0 1907.4L827.4 1904.2L828.1 1905.3L828.8 1905.4L829.5 1906.7L830.2 1907.0L830.9 1906.6L831.6 1907.1L832.3 1906.5L833.0 1906.6L833.7 1907.3L834.4 1905.5L835.1 1905.7L835.8 1906.9L836.5 1906.8L837.2 1905.7L837.9 1905.9L839.3 1910.8L840.7 1907.4L841.4 1908.0L842.8 1906.9L844.2 1910.8L846.3 1913.5L847.7 1910.9L848.4 1910.5L849.1 1910.7L850.5 1914.1L851.9 1912.1L852.6 1913.0L853.3 1913.2L854.0 1911.9L855.4 1913.1L856.8 1911.7L858.9 1911.4L859.6 1912.7L860.3 1912.6L861.0 1911.7L861.7 1911.6L863.1 1908.3L864.5 1910.4L865.2 1909.6L865.9 1909.4L866.6 1908.3L868.0 1912.9L868.7 1912.7L870.1 1907.7L870.8 1908.8L872.2 1907.4L873.6 1909.8L875.0 1906.5L875.7 1906.7L876.4 1904.6L877.1 1905.9L877.8 1906.0L878.5 1905.0L879.2 1906.9L879.9 1907.2L880.6 1906.1L881.3 1906.7L882.0 1906.3L882.7 1904.7L883.4 1906.0L884.1 1906.5L885.5 1903.4L886.2 1903.4L886.9 1905.0L887.6 1904.8L888.3 1903.9L889.7 1906.2L890.4 1903.9L891.1 1903.7L892.5 1902.2L893.2 1903.2L893.9 1902.1L894.6 1902.7L896.7 1903.3L897.4 1904.8L898.1 1904.9L898.8 1902.6L900.2 1903.2L902.3 1903.2L904.4 1905.3L905.1 1905.2L907.2 1902.1L907.9 1903.7L908.6 1904.2L909.3 1902.7L911.4 1905.2L912.1 1905.0L912.8 1902.8L913.5 1902.7L914.2 1903.5L914.9 1902.6L916.3 1903.9L917.0 1903.0L918.4 1904.2L919.8 1903.8L921.2 1902.2L923.3 1903.8L925.4 1901.1L926.1 1902.0L926.8 1904.6L928.2 1902.0L928.9 1902.4L930.3 1901.8L931.0 1902.0L932.4 1897.9L933.1 1896.9L933.8 1896.8L935.2 1892.3L936.6 1896.8L937.3 1897.5L939.4 1902.3L940.8 1903.5L942.9 1911.6L943.6 1911.1L945.0 1913.9L945.7 1913.5L946.4 1913.9L947.1 1911.1L947.8 1911.0L948.5 1911.8L950.6 1911.2L951.3 1911.9L952.0 1911.0L953.4 1911.3L954.8 1910.0L956.2 1911.7L956.9 1909.8L957.6 1909.2L959.0 1911.7L961.1 1911.0L962.5 1912.2L963.2 1912.1L963.9 1912.7L964.6 1912.6L965.3 1911.8L966.0 1913.3L967.4 1910.2L968.1 1912.3L968.8 1912.4L969.5 1911.0L970.9 1914.1L972.3 1911.4L973.7 1911.7L974.4 1912.5L975.1 1912.0L975.8 1909.7L976.5 1909.4L977.2 1910.1L977.9 1912.3L979.3 1912.3L980.0 1912.7L980.7 1912.1L982.1 1911.9L982.8 1911.1L984.9 1912.9L988.4 1911.2L989.1 1909.7L990.5 1913.2L991.2 1913.1L992.6 1914.1L993.3 1912.8L994.0 1912.7L994.7 1914.9L997.5 1916.3L998.2 1917.6L998.9 1917.6L999.6 1916.2L1001.0 1919.5L1003.1 1920.5L1005.2 1924.8L1005.9 1925.3L1006.6 1924.2L1007.3 1924.1L1008.7 1929.5L1009.4 1930.2L1010.1 1930.2L1012.2 1933.0L1012.9 1932.7L1013.6 1931.4L1014.3 1926.7L1017.1 1897.9L1020.6 1817.3L1021.3 1816.4L1024.1 1833.8L1028.3 1926.1L1033.2 1862.8L1033.9 1865.8L1034.6 1867.2L1035.3 1866.6L1036.7 1873.8L1038.1 1872.6L1038.8 1873.7L1040.2 1874.4L1040.9 1875.3L1041.6 1877.3L1042.3 1880.6L1043.7 1884.5L1047.2 1909.2L1047.9 1910.2L1048.6 1909.8L1050.0 1914.0L1050.7 1913.2L1051.4 1913.6L1052.1 1915.2L1053.5 1914.2L1054.2 1915.7L1054.9 1915.9L1055.6 1915.2L1056.3 1916.8L1057.0 1916.5L1057.7 1913.6L1059.1 1913.5L1059.8 1912.8L1061.2 1913.6L1061.9 1914.5L1063.3 1910.7L1064.0 1910.9L1064.7 1912.9L1065.4 1913.5L1066.1 1910.6L1066.8 1909.4L1067.5 1909.8L1070.3 1909.7L1071.0 1911.2L1072.4 1906.3L1073.1 1907.1L1074.5 1907.0L1075.9 1904.5L1078.0 1905.3L1078.7 1907.0L1079.4 1906.6L1080.1 1905.4L1080.8 1907.1L1081.5 1907.5L1082.2 1906.9L1083.6 1908.5L1084.3 1908.0L1085.7 1905.7L1086.4 1906.3L1087.1 1908.4L1087.8 1908.9L1088.5 1906.9L1089.2 1906.5L1089.9 1908.4L1090.6 1908.3L1092.0 1905.9L1092.7 1906.1L1094.1 1910.4L1094.8 1909.4L1095.5 1906.9L1096.2 1906.6L1096.9 1908.8" fill="none" stroke="#0000ff" stroke-width="3.4" stroke-linejoin="round"/>
<rect x="562.0" y="1609.0" width="6.5" height="29.3" fill="#000080"/>
<polygon points="551.5,1636.3 579.0,1636.3 565.3,1658.5" fill="#000080"/>
<rect x="605.6" y="1669.7" width="7.0" height="29.7" fill="#000080"/>
<polygon points="595.8,1697.4 622.4,1697.4 609.1,1719.3" fill="#000080"/>
<rect x="1038.1" y="1601.4" width="6.2" height="29.8" fill="#000080"/>
<polygon points="1028.2,1629.2 1054.2,1629.2 1041.2,1650.2" fill="#000080"/>
<rect x="1045.5" y="1666.3" width="7.0" height="29.2" fill="#000080"/>
<polygon points="1035.8,1693.5 1062.2,1693.5 1049.0,1714.6" fill="#000080"/>
<path d="M501.6 1553.3 V1938.3 H1098.8" fill="none" stroke="#000" stroke-width="5" stroke-linejoin="miter"/>
<rect x="598.5" y="1927.6" width="4.4" height="8.4" fill="#000"/>
<rect x="697.5" y="1916.4" width="4.4" height="19.6" fill="#000"/>
<rect x="796.8" y="1927.6" width="4.4" height="8.4" fill="#000"/>
<rect x="896.0" y="1916.4" width="4.4" height="19.6" fill="#000"/>
<rect x="994.3" y="1927.6" width="4.4" height="8.4" fill="#000"/>
<rect x="1094.1" y="1916.4" width="4.4" height="19.6" fill="#000"/>
<rect x="50.9" y="20.5" width="1069.3" height="2289" fill="none" stroke="#000" stroke-width="5.2" stroke-linejoin="bevel"/>
<path d="M50.9 787.4 H1120.2" stroke="#000" stroke-width="4.6"/>
<path d="M50.9 1546.7 H1120.2" stroke="#000" stroke-width="5"/>
<rect x="138.0" y="774.7" width="4.6" height="11.5" fill="#000"/>
<rect x="227.0" y="764.2" width="4.6" height="22.0" fill="#000"/>
<rect x="316.1" y="774.7" width="4.6" height="11.5" fill="#000"/>
<rect x="405.1" y="764.2" width="4.6" height="22.0" fill="#000"/>
<rect x="494.1" y="774.7" width="4.6" height="11.5" fill="#000"/>
<rect x="583.2" y="764.2" width="4.6" height="22.0" fill="#000"/>
<rect x="672.2" y="774.7" width="4.6" height="11.5" fill="#000"/>
<rect x="761.2" y="764.2" width="4.6" height="22.0" fill="#000"/>
<rect x="850.2" y="774.7" width="4.6" height="11.5" fill="#000"/>
<rect x="939.3" y="764.2" width="4.6" height="22.0" fill="#000"/>
<rect x="1028.3" y="774.7" width="4.6" height="11.5" fill="#000"/>
<rect x="138.0" y="1534.9" width="4.6" height="10.3" fill="#000"/>
<rect x="227.0" y="1523.2" width="4.6" height="22.0" fill="#000"/>
<rect x="316.1" y="1534.9" width="4.6" height="10.3" fill="#000"/>
<rect x="405.1" y="1523.2" width="4.6" height="22.0" fill="#000"/>
<rect x="494.1" y="1534.9" width="4.6" height="10.3" fill="#000"/>
<rect x="583.2" y="1523.2" width="4.6" height="22.0" fill="#000"/>
<rect x="672.2" y="1534.9" width="4.6" height="10.3" fill="#000"/>
<rect x="761.2" y="1523.2" width="4.6" height="22.0" fill="#000"/>
<rect x="850.2" y="1534.9" width="4.6" height="10.3" fill="#000"/>
<rect x="939.3" y="1523.2" width="4.6" height="22.0" fill="#000"/>
<rect x="1028.3" y="1534.9" width="4.6" height="10.3" fill="#000"/>
<rect x="138.0" y="2298.3" width="4.6" height="9.9" fill="#000"/>
<rect x="227.0" y="2286.6" width="4.6" height="21.6" fill="#000"/>
<rect x="316.1" y="2298.3" width="4.6" height="9.9" fill="#000"/>
<rect x="405.1" y="2286.6" width="4.6" height="21.6" fill="#000"/>
<rect x="494.1" y="2298.3" width="4.6" height="9.9" fill="#000"/>
<rect x="583.2" y="2286.6" width="4.6" height="21.6" fill="#000"/>
<rect x="672.2" y="2298.3" width="4.6" height="9.9" fill="#000"/>
<rect x="761.2" y="2286.6" width="4.6" height="21.6" fill="#000"/>
<rect x="850.2" y="2298.3" width="4.6" height="9.9" fill="#000"/>
<rect x="939.3" y="2286.6" width="4.6" height="21.6" fill="#000"/>
<rect x="1028.3" y="2298.3" width="4.6" height="9.9" fill="#000"/>
<text transform="translate(50.8 94.8) scale(1.065 1)" font-family="Liberation Sans, sans-serif" font-size="78" text-anchor="start">(a)</text>
<text transform="translate(47.8 862.0) scale(1.065 1)" font-family="Liberation Sans, sans-serif" font-size="78" text-anchor="start">(b)</text>
<text transform="translate(51.2 1620.8) scale(1.065 1)" font-family="Liberation Sans, sans-serif" font-size="78" text-anchor="start">(c)</text>
<text x="51.3" y="2388.8" font-family="Liberation Sans, sans-serif" font-size="71" text-anchor="middle" >10</text>
<text x="229.3" y="2388.8" font-family="Liberation Sans, sans-serif" font-size="71" text-anchor="middle" >20</text>
<text x="407.4" y="2388.8" font-family="Liberation Sans, sans-serif" font-size="71" text-anchor="middle" >30</text>
<text x="585.5" y="2388.8" font-family="Liberation Sans, sans-serif" font-size="71" text-anchor="middle" >40</text>
<text x="763.5" y="2388.8" font-family="Liberation Sans, sans-serif" font-size="71" text-anchor="middle" >50</text>
<text x="941.6" y="2388.8" font-family="Liberation Sans, sans-serif" font-size="71" text-anchor="middle" >60</text>
<text x="1119.6" y="2388.8" font-family="Liberation Sans, sans-serif" font-size="71" text-anchor="middle" >70</text>
<text x="502.5" y="2009.5" font-family="Liberation Sans, sans-serif" font-size="61" text-anchor="middle" >15</text>
<text x="698.3" y="2009.5" font-family="Liberation Sans, sans-serif" font-size="61" text-anchor="middle" >20</text>
<text x="898.0" y="2009.5" font-family="Liberation Sans, sans-serif" font-size="61" text-anchor="middle" >25</text>
<text x="1096.9" y="2009.5" font-family="Liberation Sans, sans-serif" font-size="61" text-anchor="middle" >30</text>
<text x="605.6" y="2492.4" font-family="Liberation Sans, sans-serif" font-size="73.5" text-anchor="middle">2<tspan font-family="Liberation Serif, serif">&#920;</tspan> (degree)</text>
</svg>
</body></html>
